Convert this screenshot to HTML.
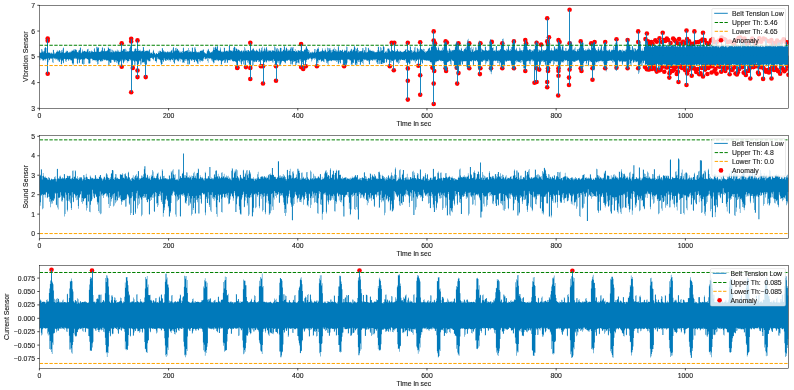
<!DOCTYPE html><html><head><meta charset="utf-8"><style>html,body{margin:0;padding:0;background:#fff;overflow:hidden}svg{display:block}</style></head><body>
<svg width="794" height="390" viewBox="0 0 794 390" style="will-change:transform;filter:blur(0.25px)" font-family="'Liberation Sans', sans-serif" font-size="6.85"><style>text{fill:#1a1a1a;stroke:#1a1a1a;stroke-width:0.12px}</style>
<rect width="794" height="390" fill="#fff"/>
<defs>
<clipPath id="c0"><rect x="39.4" y="5.3" width="749" height="103"/></clipPath>
<clipPath id="c1"><rect x="39.4" y="135.4" width="749" height="103"/></clipPath>
<clipPath id="c2"><rect x="39.4" y="265.3" width="749" height="103"/></clipPath>
</defs>
<g clip-path="url(#c0)">
<g fill="#f00"><circle cx="47.7" cy="38.6" r="2.3"/><circle cx="47.7" cy="40.7" r="2.3"/><circle cx="47.7" cy="73.7" r="2.3"/><circle cx="121.7" cy="43.3" r="2.3"/><circle cx="121.7" cy="66.8" r="2.3"/><circle cx="131.2" cy="38.8" r="2.3"/><circle cx="131.2" cy="41.5" r="2.3"/><circle cx="131.2" cy="92.2" r="2.3"/><circle cx="132.8" cy="67.9" r="2.3"/><circle cx="137.5" cy="40.4" r="2.3"/><circle cx="137.5" cy="70.5" r="2.3"/><circle cx="137.5" cy="77.1" r="2.3"/><circle cx="145.7" cy="77.1" r="2.3"/><circle cx="237.2" cy="67.9" r="2.3"/><circle cx="237.4" cy="67.6" r="2.3"/><circle cx="245.9" cy="67.1" r="2.3"/><circle cx="250.3" cy="42.8" r="2.3"/><circle cx="250.3" cy="67.9" r="2.3"/><circle cx="250.3" cy="79" r="2.3"/><circle cx="260.9" cy="66.3" r="2.3"/><circle cx="263" cy="66.3" r="2.3"/><circle cx="263" cy="83.5" r="2.3"/><circle cx="276" cy="66.3" r="2.3"/><circle cx="276" cy="80.8" r="2.3"/><circle cx="301.1" cy="44.1" r="2.3"/><circle cx="301.1" cy="67.1" r="2.3"/><circle cx="303.2" cy="68.9" r="2.3"/><circle cx="305.8" cy="66.3" r="2.3"/><circle cx="316.9" cy="66.3" r="2.3"/><circle cx="344.1" cy="66.3" r="2.3"/><circle cx="389.8" cy="66.3" r="2.3"/><circle cx="391.7" cy="42.8" r="2.3"/><circle cx="394.3" cy="42.8" r="2.3"/><circle cx="393.8" cy="70.3" r="2.3"/><circle cx="407.8" cy="42.8" r="2.3"/><circle cx="407.8" cy="68.4" r="2.3"/><circle cx="407.8" cy="80.8" r="2.3"/><circle cx="407.8" cy="99.6" r="2.3"/><circle cx="420.2" cy="42.3" r="2.3"/><circle cx="420.2" cy="75.3" r="2.3"/><circle cx="420.2" cy="94.8" r="2.3"/><circle cx="418.4" cy="65.8" r="2.3"/><circle cx="433.7" cy="31.4" r="2.3"/><circle cx="433.7" cy="40.6" r="2.3"/><circle cx="435" cy="43.3" r="2.3"/><circle cx="432.4" cy="67.8" r="2.3"/><circle cx="434.2" cy="71" r="2.3"/><circle cx="433.7" cy="83.6" r="2.3"/><circle cx="433.7" cy="104" r="2.3"/><circle cx="445.6" cy="41.4" r="2.3"/><circle cx="446.9" cy="42.5" r="2.3"/><circle cx="445.6" cy="68.3" r="2.3"/><circle cx="446.1" cy="71" r="2.3"/><circle cx="458.5" cy="43.3" r="2.3"/><circle cx="456.7" cy="67.8" r="2.3"/><circle cx="458.5" cy="73.1" r="2.3"/><circle cx="457.2" cy="83.6" r="2.3"/><circle cx="469.3" cy="43.3" r="2.3"/><circle cx="469.3" cy="68.3" r="2.3"/><circle cx="480.4" cy="43.3" r="2.3"/><circle cx="480.4" cy="68.3" r="2.3"/><circle cx="479.9" cy="74.1" r="2.3"/><circle cx="491.8" cy="41.9" r="2.3"/><circle cx="491" cy="68.3" r="2.3"/><circle cx="502.3" cy="43.3" r="2.3"/><circle cx="502.3" cy="68.3" r="2.3"/><circle cx="513.9" cy="41.4" r="2.3"/><circle cx="513.9" cy="68.3" r="2.3"/><circle cx="525.3" cy="40.1" r="2.3"/><circle cx="526.1" cy="43.3" r="2.3"/><circle cx="525.3" cy="71" r="2.3"/><circle cx="534.5" cy="82.8" r="2.3"/><circle cx="536.6" cy="42.7" r="2.3"/><circle cx="541.1" cy="44.6" r="2.3"/><circle cx="536.6" cy="68.3" r="2.3"/><circle cx="539.2" cy="69.6" r="2.3"/><circle cx="536.6" cy="82" r="2.3"/><circle cx="547.2" cy="18.2" r="2.3"/><circle cx="549" cy="37.2" r="2.3"/><circle cx="547.2" cy="41.4" r="2.3"/><circle cx="548" cy="44" r="2.3"/><circle cx="548" cy="68.3" r="2.3"/><circle cx="548" cy="71" r="2.3"/><circle cx="547.2" cy="82" r="2.3"/><circle cx="547.2" cy="87.3" r="2.3"/><circle cx="558.5" cy="40.1" r="2.3"/><circle cx="559.6" cy="42" r="2.3"/><circle cx="558.5" cy="68.3" r="2.3"/><circle cx="558.5" cy="71" r="2.3"/><circle cx="558.5" cy="75.7" r="2.3"/><circle cx="558.2" cy="95.5" r="2.3"/><circle cx="569.6" cy="9.7" r="2.3"/><circle cx="569.6" cy="43.3" r="2.3"/><circle cx="569.6" cy="69.6" r="2.3"/><circle cx="569" cy="77.6" r="2.3"/><circle cx="569" cy="85" r="2.3"/><circle cx="580.7" cy="41.4" r="2.3"/><circle cx="580.7" cy="68.3" r="2.3"/><circle cx="581.5" cy="71" r="2.3"/><circle cx="591.2" cy="43.3" r="2.3"/><circle cx="594.6" cy="42" r="2.3"/><circle cx="592.5" cy="68.3" r="2.3"/><circle cx="592.5" cy="79.7" r="2.3"/><circle cx="605.2" cy="42" r="2.3"/><circle cx="605.2" cy="68.3" r="2.3"/><circle cx="616.5" cy="39.3" r="2.3"/><circle cx="616.5" cy="67.8" r="2.3"/><circle cx="627.6" cy="40.1" r="2.3"/><circle cx="627.6" cy="68.3" r="2.3"/><circle cx="638.2" cy="31.4" r="2.3"/><circle cx="638.2" cy="42" r="2.3"/><circle cx="638.2" cy="68.3" r="2.3"/><circle cx="646.9" cy="33.5" r="2.3"/><circle cx="662.7" cy="32.7" r="2.3"/><circle cx="686.5" cy="30.6" r="2.3"/><circle cx="694.4" cy="31.4" r="2.3"/><circle cx="703" cy="32.7" r="2.3"/><circle cx="669.3" cy="77.6" r="2.3"/><circle cx="678.5" cy="82" r="2.3"/><circle cx="686.5" cy="85" r="2.3"/><circle cx="691.7" cy="75.7" r="2.3"/><circle cx="703" cy="76.4" r="2.3"/><circle cx="750.3" cy="78.5" r="2.3"/><circle cx="763.1" cy="78.9" r="2.3"/><circle cx="771.5" cy="78.5" r="2.3"/><circle cx="645.5" cy="39.1" r="2.3"/><circle cx="647.91" cy="41.25" r="2.3"/><circle cx="649.54" cy="43.85" r="2.3"/><circle cx="651.32" cy="41.97" r="2.3"/><circle cx="652.58" cy="43.87" r="2.3"/><circle cx="655.28" cy="40.27" r="2.3"/><circle cx="656.83" cy="41.8" r="2.3"/><circle cx="659.5" cy="38.35" r="2.3"/><circle cx="661.96" cy="42.07" r="2.3"/><circle cx="663.9" cy="40.09" r="2.3"/><circle cx="665.19" cy="40.97" r="2.3"/><circle cx="666.8" cy="38.5" r="2.3"/><circle cx="668.1" cy="40.07" r="2.3"/><circle cx="670.6" cy="43.05" r="2.3"/><circle cx="673.14" cy="38.56" r="2.3"/><circle cx="674.37" cy="39.85" r="2.3"/><circle cx="675.57" cy="41.34" r="2.3"/><circle cx="677.43" cy="43.18" r="2.3"/><circle cx="679.12" cy="39.09" r="2.3"/><circle cx="680.79" cy="43.45" r="2.3"/><circle cx="683.04" cy="41.71" r="2.3"/><circle cx="685.44" cy="43.01" r="2.3"/><circle cx="687.12" cy="39.14" r="2.3"/><circle cx="689.08" cy="41.32" r="2.3"/><circle cx="690.63" cy="43.97" r="2.3"/><circle cx="693.23" cy="43.73" r="2.3"/><circle cx="695.7" cy="42.23" r="2.3"/><circle cx="698.33" cy="42.03" r="2.3"/><circle cx="700.93" cy="40.97" r="2.3"/><circle cx="702.49" cy="39.59" r="2.3"/><circle cx="704.7" cy="40.03" r="2.3"/><circle cx="706.6" cy="43.08" r="2.3"/><circle cx="708.76" cy="43.64" r="2.3"/><circle cx="711" cy="40.4" r="2.3"/><circle cx="712.76" cy="39.15" r="2.3"/><circle cx="714.25" cy="42.09" r="2.3"/><circle cx="716.65" cy="42.15" r="2.3"/><circle cx="718.92" cy="40.56" r="2.3"/><circle cx="721.53" cy="37.57" r="2.3"/><circle cx="723.82" cy="39.07" r="2.3"/><circle cx="725.25" cy="39.81" r="2.3"/><circle cx="727.72" cy="42.02" r="2.3"/><circle cx="729.75" cy="41.5" r="2.3"/><circle cx="732.39" cy="42.54" r="2.3"/><circle cx="734.19" cy="44" r="2.3"/><circle cx="736.02" cy="40.42" r="2.3"/><circle cx="738.62" cy="38.14" r="2.3"/><circle cx="740.31" cy="37.59" r="2.3"/><circle cx="741.79" cy="38.95" r="2.3"/><circle cx="743.23" cy="41.99" r="2.3"/><circle cx="744.54" cy="38.67" r="2.3"/><circle cx="746.98" cy="43.5" r="2.3"/><circle cx="748.97" cy="42.88" r="2.3"/><circle cx="750.91" cy="40.99" r="2.3"/><circle cx="752.27" cy="38.62" r="2.3"/><circle cx="753.89" cy="41.72" r="2.3"/><circle cx="755.17" cy="44" r="2.3"/><circle cx="756.67" cy="42.39" r="2.3"/><circle cx="759.26" cy="38.42" r="2.3"/><circle cx="761.18" cy="41.67" r="2.3"/><circle cx="763.38" cy="38.67" r="2.3"/><circle cx="765.09" cy="39.19" r="2.3"/><circle cx="766.89" cy="40.7" r="2.3"/><circle cx="769.19" cy="41.35" r="2.3"/><circle cx="771.43" cy="39.93" r="2.3"/><circle cx="772.64" cy="43.9" r="2.3"/><circle cx="774.06" cy="43.13" r="2.3"/><circle cx="775.56" cy="43.87" r="2.3"/><circle cx="777.09" cy="40.65" r="2.3"/><circle cx="779.62" cy="42.34" r="2.3"/><circle cx="781.37" cy="41.92" r="2.3"/><circle cx="783.59" cy="39.25" r="2.3"/><circle cx="786.2" cy="42.18" r="2.3"/><circle cx="788.46" cy="42.39" r="2.3"/><circle cx="645" cy="67" r="2.3"/><circle cx="646.85" cy="69.23" r="2.3"/><circle cx="648.52" cy="69.52" r="2.3"/><circle cx="649.69" cy="69.13" r="2.3"/><circle cx="650.56" cy="66.08" r="2.3"/><circle cx="651.99" cy="68.97" r="2.3"/><circle cx="653.79" cy="66.03" r="2.3"/><circle cx="655.26" cy="69.09" r="2.3"/><circle cx="656.78" cy="71.61" r="2.3"/><circle cx="658.21" cy="69.8" r="2.3"/><circle cx="659.6" cy="70.34" r="2.3"/><circle cx="660.69" cy="69.7" r="2.3"/><circle cx="662.3" cy="66.75" r="2.3"/><circle cx="664.29" cy="71.8" r="2.3"/><circle cx="666.24" cy="67.43" r="2.3"/><circle cx="667.57" cy="67.2" r="2.3"/><circle cx="668.42" cy="66.02" r="2.3"/><circle cx="669.52" cy="73.19" r="2.3"/><circle cx="670.52" cy="71.15" r="2.3"/><circle cx="671.62" cy="66.15" r="2.3"/><circle cx="672.65" cy="71.02" r="2.3"/><circle cx="674.05" cy="69.66" r="2.3"/><circle cx="675.39" cy="67.29" r="2.3"/><circle cx="676.78" cy="73.97" r="2.3"/><circle cx="677.82" cy="71.64" r="2.3"/><circle cx="678.92" cy="66.77" r="2.3"/><circle cx="680.11" cy="66.25" r="2.3"/><circle cx="682.03" cy="67.99" r="2.3"/><circle cx="683.04" cy="66" r="2.3"/><circle cx="683.92" cy="66.9" r="2.3"/><circle cx="685.22" cy="70.2" r="2.3"/><circle cx="687.2" cy="73.56" r="2.3"/><circle cx="688.29" cy="70.3" r="2.3"/><circle cx="690.19" cy="66.29" r="2.3"/><circle cx="692.02" cy="68.24" r="2.3"/><circle cx="693.75" cy="67.65" r="2.3"/><circle cx="695.31" cy="69.25" r="2.3"/><circle cx="696.23" cy="71.96" r="2.3"/><circle cx="698.02" cy="69.02" r="2.3"/><circle cx="699.28" cy="74.3" r="2.3"/><circle cx="700.53" cy="73.42" r="2.3"/><circle cx="701.84" cy="68.05" r="2.3"/><circle cx="703.07" cy="66.13" r="2.3"/><circle cx="704.2" cy="66.99" r="2.3"/><circle cx="705.08" cy="69.59" r="2.3"/><circle cx="706.41" cy="66.04" r="2.3"/><circle cx="707.39" cy="73.93" r="2.3"/><circle cx="708.35" cy="68.05" r="2.3"/><circle cx="710.3" cy="66.34" r="2.3"/><circle cx="711.59" cy="72.45" r="2.3"/><circle cx="712.41" cy="66.16" r="2.3"/><circle cx="714.33" cy="71.09" r="2.3"/><circle cx="715.44" cy="69" r="2.3"/><circle cx="716.54" cy="73.59" r="2.3"/><circle cx="718.48" cy="66.17" r="2.3"/><circle cx="719.91" cy="66.71" r="2.3"/><circle cx="721.19" cy="71.74" r="2.3"/><circle cx="722.85" cy="66.74" r="2.3"/><circle cx="724.05" cy="68.5" r="2.3"/><circle cx="725.31" cy="71.07" r="2.3"/><circle cx="727.06" cy="67.75" r="2.3"/><circle cx="728.39" cy="66.16" r="2.3"/><circle cx="729.63" cy="74.29" r="2.3"/><circle cx="731.03" cy="69.74" r="2.3"/><circle cx="732.56" cy="69.84" r="2.3"/><circle cx="734.32" cy="67.19" r="2.3"/><circle cx="735.5" cy="73.52" r="2.3"/><circle cx="736.9" cy="74.46" r="2.3"/><circle cx="737.87" cy="72.24" r="2.3"/><circle cx="739.24" cy="68.94" r="2.3"/><circle cx="741.09" cy="66.42" r="2.3"/><circle cx="742.51" cy="67.12" r="2.3"/><circle cx="743.72" cy="72.65" r="2.3"/><circle cx="745" cy="72.25" r="2.3"/><circle cx="745.82" cy="74.99" r="2.3"/><circle cx="747.76" cy="71.03" r="2.3"/><circle cx="748.8" cy="70.79" r="2.3"/><circle cx="749.83" cy="68.05" r="2.3"/><circle cx="750.67" cy="66.17" r="2.3"/><circle cx="751.66" cy="66.7" r="2.3"/><circle cx="753.46" cy="67.09" r="2.3"/><circle cx="755.25" cy="66" r="2.3"/><circle cx="756.12" cy="66.14" r="2.3"/><circle cx="758.04" cy="72.65" r="2.3"/><circle cx="758.86" cy="74.09" r="2.3"/><circle cx="759.93" cy="67.22" r="2.3"/><circle cx="761.43" cy="66.83" r="2.3"/><circle cx="763.4" cy="67.99" r="2.3"/><circle cx="764.89" cy="69.9" r="2.3"/><circle cx="766.03" cy="71.67" r="2.3"/><circle cx="768.02" cy="70.14" r="2.3"/><circle cx="768.92" cy="72.54" r="2.3"/><circle cx="770.52" cy="69.09" r="2.3"/><circle cx="772.1" cy="67.2" r="2.3"/><circle cx="773.27" cy="69.33" r="2.3"/><circle cx="774.15" cy="70.06" r="2.3"/><circle cx="775.17" cy="67.15" r="2.3"/><circle cx="777.05" cy="70.06" r="2.3"/><circle cx="778.14" cy="71.26" r="2.3"/><circle cx="780.14" cy="73.65" r="2.3"/><circle cx="781.9" cy="67.73" r="2.3"/><circle cx="783.4" cy="70.03" r="2.3"/><circle cx="784.3" cy="71.19" r="2.3"/><circle cx="785.73" cy="69.39" r="2.3"/><circle cx="787.41" cy="66.19" r="2.3"/><circle cx="788.47" cy="74.84" r="2.3"/></g>
<path d="M39.4 51.79V51.79H39.9V52.98H40.4V52.6H40.9V52.46H41.4V48.96H41.9V49.58H42.4V51.48H42.9V52.41H43.4V51.32H43.9V51.36H44.4V48.37H44.9V47.53H45.4V47.11H45.9V48.11H46.4V53.02H46.9V53.59H47.4V53.34H47.9V52.45H48.4V52.78H48.9V52.17H49.4V52.95H49.9V52.87H50.4V53.81H50.9V53.32H51.4V52.45H51.9V54.06H52.4V53.2H52.9V49.65H53.4V49.92H53.9V54.29H54.4V52.58H54.9V53.33H55.4V53.43H55.9V52.2H56.4V51.63H56.9V50.23H57.4V51.52H57.9V51.24H58.4V51.78H58.9V50.23H59.4V50.17H59.9V50.9H60.4V52.63H60.9V52.49H61.4V50.2H61.9V49.74H62.4V52.3H62.9V48.37H63.4V47.41H63.9V53.16H64.4V52.68H64.9V52.99H65.4V51.85H65.9V52.07H66.4V50.65H66.9V50.86H67.4V50.94H67.9V52.81H68.4V52.25H68.9V52.48H69.4V51.68H69.9V52.56H70.4V51.53H70.9V52.07H71.4V50.8H71.9V50.5H72.4V50.63H72.9V50.41H73.4V49.61H73.9V51.17H74.4V49.36H74.9V49.66H75.4V49.13H75.9V49.69H76.4V50.25H76.9V52.34H77.4V52.08H77.9V52.38H78.4V50.78H78.9V49.81H79.4V50.27H79.9V47.86H80.4V47.44H80.9V53.21H81.4V52.6H81.9V51.53H82.4V49.58H82.9V51.64H83.4V51.25H83.9V50.77H84.4V51.09H84.9V51.32H85.4V51.65H85.9V51.36H86.4V52.08H86.9V50.14H87.4V48.89H87.9V48.87H88.4V52.33H88.9V51.16H89.4V50.99H89.9V52.67H90.4V51.17H90.9V51.84H91.4V50.47H91.9V51.18H92.4V51.53H92.9V51.96H93.4V52.12H93.9V49.21H94.4V47.95H94.9V52.1H95.4V51.46H95.9V51.79H96.4V46.78H96.9V47.07H97.4V48.58H97.9V47.1H98.4V48.09H98.9V52.05H99.4V51.78H99.9V51.45H100.4V51.63H100.9V51.14H101.4V50.22H101.9V47.66H102.4V47.24H102.9V50.86H103.4V51.37H103.9V48.26H104.4V48.58H104.9V51.58H105.4V51.09H105.9V51.01H106.4V51.27H106.9V50.22H107.4V50.46H107.9V46.63H108.4V48.01H108.9V48.78H109.4V48.99H109.9V52.32H110.4V48.83H110.9V49.43H111.4V51.97H111.9V52.47H112.4V49.87H112.9V50.59H113.4V51.57H113.9V51.42H114.4V52.14H114.9V50.43H115.4V51.17H115.9V52.12H116.4V51.06H116.9V49.56H117.4V51.59H117.9V50.29H118.4V51.43H118.9V51.75H119.4V51.95H119.9V50.53H120.4V51.97H120.9V51.79H121.4V50.79H121.9V50.92H122.4V50.58H122.9V49.42H123.4V49.11H123.9V48.73H124.4V49.3H124.9V51.75H125.4V48.67H125.9V49.74H126.4V51.76H126.9V51.21H127.4V51.31H127.9V52.08H128.4V50.95H128.9V51.11H129.4V48.1H129.9V46.66H130.4V45.92H130.9V50.19H131.4V51.31H131.9V51.44H132.4V50.92H132.9V51.52H133.4V51.55H133.9V51.11H134.4V49.3H134.9V48.2H135.4V48.66H135.9V48.73H136.4V51.11H136.9V50.79H137.4V50.39H137.9V49.1H138.4V50.99H138.9V50.38H139.4V50.74H139.9V49.75H140.4V51.17H140.9V51.31H141.4V51.15H141.9V50.61H142.4V50.98H142.9V47.06H143.4V47.37H143.9V50.21H144.4V51.81H144.9V51.14H145.4V50.89H145.9V50.38H146.4V51.05H146.9V50.34H147.4V50.98H147.9V51.6H148.4V50.73H148.9V49.69H149.4V49.3H149.9V52.56H150.4V53.5H150.9V52.81H151.4V52.87H151.9V52.38H152.4V54.1H152.9V50.73H153.4V49.85H153.9V52.53H154.4V52.96H154.9V53.84H155.4V54.39H155.9V53.22H156.4V53.11H156.9V53.97H157.4V54H157.9V51.14H158.4V52.74H158.9V52.68H159.4V50.77H159.9V50.84H160.4V51.05H160.9V52.01H161.4V51.73H161.9V48.34H162.4V48.16H162.9V51.38H163.4V49.9H163.9V50.91H164.4V52.18H164.9V51.92H165.4V51.57H165.9V52.83H166.4V52.08H166.9V51.63H167.4V51.13H167.9V52.41H168.4V51.79H168.9V51.8H169.4V52.31H169.9V51.36H170.4V52.14H170.9V50.71H171.4V50.14H171.9V49.57H172.4V52.84H172.9V47.8H173.4V47.12H173.9V51.61H174.4V50.57H174.9V50.65H175.4V48.07H175.9V47.74H176.4V50.47H176.9V48.69H177.4V48.99H177.9V50.64H178.4V50.35H178.9V50.85H179.4V52.37H179.9V52.65H180.4V51.55H180.9V51.73H181.4V51.84H181.9V53.06H182.4V50.92H182.9V48.27H183.4V47.53H183.9V51.48H184.4V51.69H184.9V50.93H185.4V51.36H185.9V50.82H186.4V50.65H186.9V50.65H187.4V50.08H187.9V52.3H188.4V48.01H188.9V50H189.4V51.78H189.9V52.06H190.4V51.06H190.9V51.24H191.4V52.17H191.9V47.56H192.4V47.65H192.9V51.81H193.4V51.91H193.9V51.73H194.4V47.62H194.9V47.16H195.4V49.3H195.9V52.15H196.4V51.19H196.9V52.4H197.4V51.88H197.9V52.43H198.4V51.63H198.9V51.86H199.4V52.45H199.9V51.12H200.4V50.85H200.9V50.48H201.4V50.65H201.9V50.8H202.4V50.32H202.9V49.36H203.4V49.66H203.9V52.34H204.4V52.51H204.9V53.59H205.4V53.22H205.9V52.71H206.4V53.92H206.9V50.34H207.4V51.19H207.9V48.63H208.4V49.41H208.9V51.05H209.4V51.38H209.9V53.03H210.4V52.27H210.9V51.85H211.4V52.27H211.9V52.25H212.4V50.98H212.9V49.79H213.4V47.32H213.9V47.87H214.4V49.98H214.9V47.17H215.4V46.62H215.9V47.46H216.4V48.96H216.9V45.67H217.4V46.51H217.9V50.37H218.4V50.87H218.9V50.45H219.4V51.08H219.9V49.56H220.4V47.45H220.9V51.17H221.4V51.95H221.9V51.33H222.4V52.32H222.9V51.57H223.4V51.73H223.9V47.41H224.4V47.99H224.9V51.18H225.4V51.52H225.9V51.1H226.4V50.52H226.9V51.33H227.4V50.72H227.9V51.86H228.4V50.6H228.9V45.92H229.4V44.66H229.9V50.19H230.4V50.39H230.9V50.76H231.4V50.67H231.9V50.5H232.4V51.39H232.9V50.43H233.4V48.08H233.9V46.71H234.4V46.8H234.9V47.44H235.4V51.09H235.9V49.11H236.4V48.26H236.9V49.17H237.4V50.85H237.9V49.41H238.4V49.7H238.9V50.23H239.4V50.46H239.9V51.42H240.4V51.19H240.9V51.05H241.4V50.23H241.9V50.8H242.4V52.34H242.9V51.02H243.4V50.27H243.9V51.6H244.4V47.1H244.9V48.49H245.4V50.66H245.9V50.76H246.4V50.62H246.9V51.63H247.4V50.21H247.9V50H248.4V49.99H248.9V51.27H249.4V51.36H249.9V51.42H250.4V51.25H250.9V50.24H251.4V50.49H251.9V50.17H252.4V48.95H252.9V47.99H253.4V49.02H253.9V50.47H254.4V50.59H254.9V51.47H255.4V50.88H255.9V50.3H256.4V49.41H256.9V50.74H257.4V50.67H257.9V51.52H258.4V51.75H258.9V49.04H259.4V48.17H259.9V52.2H260.4V50.55H260.9V50.38H261.4V47.95H261.9V46.73H262.4V51.53H262.9V50.45H263.4V51.22H263.9V48.64H264.4V47.52H264.9V51.13H265.4V49.38H265.9V47.78H266.4V47.11H266.9V49.49H267.4V51.49H267.9V51.61H268.4V50.29H268.9V50.96H269.4V50.34H269.9V50.87H270.4V50.58H270.9V50.49H271.4V51.99H271.9V50.89H272.4V49.9H272.9V49.9H273.4V50.97H273.9V51.07H274.4V46.2H274.9V47.19H275.4V51.57H275.9V48.34H276.4V49.5H276.9V51.45H277.4V47.92H277.9V49.01H278.4V50.44H278.9V50.86H279.4V51.83H279.9V48.12H280.4V47.67H280.9V48.05H281.4V51.56H281.9V51.29H282.4V51.15H282.9V49.39H283.4V49.97H283.9V46.13H284.4V46.55H284.9V51.03H285.4V49.69H285.9V48.11H286.4V47.61H286.9V49.2H287.4V51.22H287.9V49.6H288.4V50.67H288.9V50.48H289.4V50.18H289.9V49.11H290.4V47.39H290.9V51.32H291.4V47.21H291.9V47.18H292.4V48.38H292.9V47.03H293.4V50.84H293.9V51.06H294.4V51.03H294.9V48.96H295.4V52.11H295.9V50.87H296.4V51.35H296.9V50.54H297.4V52.22H297.9V50.26H298.4V50.41H298.9V50.54H299.4V50.98H299.9V51.58H300.4V50.04H300.9V46.75H301.4V45.93H301.9V51.22H302.4V51.08H302.9V51.42H303.4V51.35H303.9V49.99H304.4V49.2H304.9V50.12H305.4V48.48H305.9V45.96H306.4V46.82H306.9V48.39H307.4V49.02H307.9V52.01H308.4V49.91H308.9V50.5H309.4V53.41H309.9V52.6H310.4V52.25H310.9V53.23H311.4V52.25H311.9V51.46H312.4V52.15H312.9V53H313.4V52.28H313.9V51.77H314.4V48.96H314.9V49H315.4V52.65H315.9V52.12H316.4V50.14H316.9V49.16H317.4V48.32H317.9V48.98H318.4V47.16H318.9V51.89H319.4V51.55H319.9V51.77H320.4V51.2H320.9V51.11H321.4V51.53H321.9V49.83H322.4V48.34H322.9V50.56H323.4V51.08H323.9V51.47H324.4V50.57H324.9V48.62H325.4V50H325.9V51.07H326.4V52.18H326.9V52.05H327.4V47.52H327.9V48H328.4V51.03H328.9V49.85H329.4V48.13H329.9V48.13H330.4V50.18H330.9V52.39H331.4V50.26H331.9V51.64H332.4V49.86H332.9V49.81H333.4V49.05H333.9V47.52H334.4V51.08H334.9V51.21H335.4V49.03H335.9V49.65H336.4V51.46H336.9V50.6H337.4V51.41H337.9V47.16H338.4V46.08H338.9V51.79H339.4V50.47H339.9V50.46H340.4V50.01H340.9V50.75H341.4V50.93H341.9V50.1H342.4V49.58H342.9V52.15H343.4V51.69H343.9V51H344.4V49.74H344.9V50.78H345.4V50.58H345.9V50.22H346.4V46.62H346.9V46.98H347.4V52.42H347.9V51.26H348.4V51.4H348.9V51.31H349.4V52.17H349.9V50.43H350.4V50.83H350.9V48.67H351.4V49.16H351.9V51.58H352.4V50.62H352.9V49.28H353.4V50.04H353.9V46.78H354.4V45.86H354.9V47.86H355.4V51.35H355.9V50.7H356.4V48.91H356.9V47.8H357.4V47.82H357.9V52.43H358.4V50.12H358.9V51.17H359.4V51.55H359.9V50.92H360.4V51.33H360.9V51.49H361.4V50.9H361.9V50.39H362.4V47.93H362.9V48.27H363.4V52.59H363.9V50.41H364.4V49.91H364.9V52.14H365.4V46.98H365.9V47.38H366.4V52.4H366.9V52.24H367.4V51.79H367.9V48.32H368.4V47.83H368.9V50.86H369.4V49.71H369.9V49.86H370.4V50.63H370.9V50.66H371.4V51.12H371.9V50.62H372.4V51.13H372.9V51.64H373.4V50.82H373.9V51.34H374.4V52.25H374.9V52.3H375.4V52.33H375.9V51.86H376.4V52.18H376.9V51.89H377.4V50.24H377.9V46.44H378.4V47.1H378.9V50.43H379.4V51.73H379.9V51.54H380.4V46.96H380.9V47.79H381.4V50.69H381.9V50.3H382.4V50.33H382.9V46.13H383.4V46.32H383.9V47.31H384.4V53.04H384.9V51.9H385.4V51.36H385.9V52.54H386.4V50.74H386.9V52.53H387.4V48.72H387.9V48.54H388.4V48.55H388.9V48.87H389.4V50.26H389.9V51.1H390.4V51.7H390.9V51.19H391.4V51.81H391.9V50H392.4V50.14H392.9V51.07H393.4V51.08H393.9V49.89H394.4V51.77H394.9V50.6H395.4V52.03H395.9V51.05H396.4V51.27H396.9V48.96H397.4V49.71H397.9V51.1H398.4V51.69H398.9V50.7H399.4V52.08H399.9V50.82H400.4V51.21H400.9V51.46H401.4V52H401.9V51.76H402.4V52.17H402.9V51.52H403.4V51.7H403.9V51.11H404.4V50.98H404.9V49.59H405.4V49.81H405.9V48.96H406.4V51.88H406.9V51.42H407.4V51.7H407.9V50.1H408.4V50.4H408.9V50.59H409.4V50.99H409.9V46.49H410.4V46.41H410.9V49.98H411.4V50.33H411.9V52.63H412.4V51.33H412.9V50.51H413.4V51.93H413.9V50.8H414.4V47.57H414.9V46.71H415.4V51.81H415.9V52.56H416.4V51.58H416.9V47.76H417.4V48.53H417.9V51.78H418.4V49.34H418.9V49.55H419.4V51.32H419.9V47.91H420.4V47.71H420.9V48.96H421.4V49.27H421.9V49.43H422.4V49.71H422.9V51.05H423.4V48.8H423.9V49.08H424.4V51.97H424.9V51.33H425.4V52.71H425.9V51.09H426.4V52.09H426.9V50.8H427.4V50.68H427.9V49.29H428.4V48.44H428.9V48.04H429.4V47.5H429.9V50.67H430.4V50.11H430.9V46.93H431.4V46.32H431.9V46.63H432.4V41.42H432.9V41.58H433.4V43.22H433.9V43.47H434.4V44.75H434.9V44.54H435.4V46.56H435.9V48.36H436.4V46.92H436.9V49.85H437.4V50.17H437.9V46.52H438.4V47.7H438.9V49.68H439.4V50.53H439.9V50.45H440.4V50.76H440.9V49.85H441.4V50.59H441.9V50.64H442.4V47.72H442.9V47.15H443.4V49.86H443.9V43.94H444.4V42.2H444.9V42.58H445.4V42.84H445.9V44.17H446.4V48.58H446.9V49.67H447.4V50.77H447.9V52.85H448.4V50.87H448.9V49.1H449.4V48.02H449.9V51.22H450.4V49.81H450.9V50.15H451.4V51.55H451.9V50.28H452.4V50.31H452.9V50.48H453.4V49.85H453.9V50.04H454.4V49.82H454.9V47.29H455.4V43.86H455.9V43.08H456.4V41.48H456.9V42H457.4V44.73H457.9V50.05H458.4V50.8H458.9V49.72H459.4V49.49H459.9V50.7H460.4V49.89H460.9V47.87H461.4V48.63H461.9V50.9H462.4V50.89H462.9V50.27H463.4V51.49H463.9V49.61H464.4V48.99H464.9V47.49H465.4V48.38H465.9V49.73H466.4V46.66H466.9V42.97H467.4V40.14H467.9V38.78H468.4V42.88H468.9V46.5H469.4V50.04H469.9V50.43H470.4V48.07H470.9V46.66H471.4V51.9H471.9V50.22H472.4V49.06H472.9V47.31H473.4V51.92H473.9V51.32H474.4V50.67H474.9V50.56H475.4V47.19H475.9V47.58H476.4V50.16H476.9V49.84H477.4V50.3H477.9V45.29H478.4V43.35H478.9V42.01H479.4V40.61H479.9V42.13H480.4V44.67H480.9V51.63H481.4V48.52H481.9V49.21H482.4V49.71H482.9V50.27H483.4V50.36H483.9V50.8H484.4V50.61H484.9V47.04H485.4V46.39H485.9V50.27H486.4V50.23H486.9V51.06H487.4V50.47H487.9V50.7H488.4V49.69H488.9V50.33H489.4V41.76H489.9V40.36H490.4V39.04H490.9V43.05H491.4V43.2H491.9V47.98H492.4V47.64H492.9V47.36H493.4V50.96H493.9V50.08H494.4V51.11H494.9V49.71H495.4V51.45H495.9V46.21H496.4V45.92H496.9V50.52H497.4V50.82H497.9V51.13H498.4V50.04H498.9V50.77H499.4V50.19H499.9V49.35H500.4V49.27H500.9V44.77H501.4V44.93H501.9V42.39H502.4V38.93H502.9V38.6H503.4V42.6H503.9V49.94H504.4V49.7H504.9V50.6H505.4V50.38H505.9V51.35H506.4V48.85H506.9V49.35H507.4V50.29H507.9V46.61H508.4V45.91H508.9V49.73H509.4V50.7H509.9V50.88H510.4V48.99H510.9V49.97H511.4V46.94H511.9V46.72H512.4V43.1H512.9V42.75H513.4V40.04H513.9V39.27H514.4V40.44H514.9V49.41H515.4V50.37H515.9V49.31H516.4V47.81H516.9V51.14H517.4V50.6H517.9V50.83H518.4V51.2H518.9V50.67H519.4V47.54H519.9V48.55H520.4V50.38H520.9V50.28H521.4V50.6H521.9V49.96H522.4V51.4H522.9V49.84H523.4V46.84H523.9V43.89H524.4V43.79H524.9V42.71H525.4V40.77H525.9V43.89H526.4V46.69H526.9V47.03H527.4V49.53H527.9V50.37H528.4V50.3H528.9V49.87H529.4V49.02H529.9V49.28H530.4V49.73H530.9V51.94H531.4V50.17H531.9V50.27H532.4V50.85H532.9V51.18H533.4V49.44H533.9V49.37H534.4V49.21H534.9V45.83H535.4V42.83H535.9V40.5H536.4V42.23H536.9V43.24H537.4V42.85H537.9V49.47H538.4V51.67H538.9V49.55H539.4V50.31H539.9V50.96H540.4V50.36H540.9V50.26H541.4V48.89H541.9V51.56H542.4V49.47H542.9V50.28H543.4V50.13H543.9V50.37H544.4V50.44H544.9V50.05H545.4V49.9H545.9V48.65H546.4V44.95H546.9V43.74H547.4V42.51H547.9V40.67H548.4V43.33H548.9V46.2H549.4V49.96H549.9V50.29H550.4V50.49H550.9V50.32H551.4V48.29H551.9V50.03H552.4V50.63H552.9V50.2H553.4V50.67H553.9V46.36H554.4V46.7H554.9V49.82H555.4V48.55H555.9V48.72H556.4V48.63H556.9V47.46H557.4V49.5H557.9V43.27H558.4V42.5H558.9V43.02H559.4V43.39H559.9V42.87H560.4V46.46H560.9V48.79H561.4V50.17H561.9V46.48H562.4V45.65H562.9V46.21H563.4V50.28H563.9V50.93H564.4V50.43H564.9V51.2H565.4V48.12H565.9V48.15H566.4V51.12H566.9V50.21H567.4V50.97H567.9V49.74H568.4V48.68H568.9V49.48H569.4V44.24H569.9V43.87H570.4V41.03H570.9V43.14H571.4V41.72H571.9V45.54H572.4V50.13H572.9V48.9H573.4V49.88H573.9V50.62H574.4V48.38H574.9V47.33H575.4V50.93H575.9V51.04H576.4V51.63H576.9V49.25H577.4V49.5H577.9V50.95H578.4V48.94H578.9V48.5H579.4V47.48H579.9V45.98H580.4V50.17H580.9V44.34H581.4V42.73H581.9V42.21H582.4V41.86H582.9V42.77H583.4V48.16H583.9V50.3H584.4V50.37H584.9V50.4H585.4V49.25H585.9V51.09H586.4V49.81H586.9V49.68H587.4V49.38H587.9V47.71H588.4V49.86H588.9V48.7H589.4V49.55H589.9V50.21H590.4V50.01H590.9V50.35H591.4V50.62H591.9V47.89H592.4V43.88H592.9V43.37H593.4V42.5H593.9V42.31H594.4V43.71H594.9V47.83H595.4V48.76H595.9V50.52H596.4V50.02H596.9V49.75H597.4V51.18H597.9V48.94H598.4V47.04H598.9V49.81H599.4V50.91H599.9V50.07H600.4V48.55H600.9V46.08H601.4V46.36H601.9V51.36H602.4V49.78H602.9V50.99H603.4V46.8H603.9V43.07H604.4V43.06H604.9V42.58H605.4V42.46H605.9V45.84H606.4V50.33H606.9V49.67H607.4V50.99H607.9V51.22H608.4V49.99H608.9V49.66H609.4V49.37H609.9V50.65H610.4V52.03H610.9V50.4H611.4V49.83H611.9V50.21H612.4V49.76H612.9V49.86H613.4V46.09H613.9V47.42H614.4V49.9H614.9V45.39H615.4V42.83H615.9V42.13H616.4V42.85H616.9V41.65H617.4V44.46H617.9V50.58H618.4V51.31H618.9V49.77H619.4V50.23H619.9V49.72H620.4V50.06H620.9V50.58H621.4V50.38H621.9V52.25H622.4V49.5H622.9V50.65H623.4V50.43H623.9V50.9H624.4V50.59H624.9V51.51H625.4V49.78H625.9V49.47H626.4V44.29H626.9V38.02H627.4V39.41H627.9V40.75H628.4V40.7H628.9V44.52H629.4V45.15H629.9V46.75H630.4V49.89H630.9V50.21H631.4V49.63H631.9V46.62H632.4V46.06H632.9V50.23H633.4V48.42H633.9V48.05H634.4V51.41H634.9V48.52H635.4V48.66H635.9V50.76H636.4V50.08H636.9V49.58H637.4V48.95H637.9V44.43H638.4V39.99H638.9V39.97H639.4V43.95H639.9V41.44H640.4V43.76H640.9V50.16H641.4V51.12H641.9V48.6H642.4V50.72H642.9V50.86H643.4V50.66H643.9V47.05H644.4V47.08H644.9V45.79H645.4V46.38H645.9V46.38H646.4V46.3H646.9V46.27H647.4V43.91H647.9V45.65H648.4V45.03H648.9V44.26H649.4V46.49H649.9V44.8H650.4V45.45H650.9V45.96H651.4V47.26H651.9V47.28H652.4V46H652.9V47.07H653.4V46.4H653.9V44.78H654.4V45.99H654.9V45.85H655.4V45.43H655.9V46.01H656.4V45.6H656.9V45.8H657.4V46.12H657.9V46.46H658.4V45.44H658.9V46.1H659.4V42.24H659.9V42.4H660.4V46.61H660.9V45.42H661.4V46.55H661.9V45.51H662.4V44.78H662.9V44.88H663.4V47.24H663.9V45.98H664.4V46.87H664.9V46.22H665.4V46.69H665.9V45.6H666.4V45.05H666.9V44.83H667.4V46.55H667.9V45.43H668.4V46.09H668.9V46.83H669.4V42.04H669.9V41.6H670.4V46.83H670.9V45.38H671.4V45.1H671.9V45.53H672.4V45.32H672.9V45.88H673.4V45.97H673.9V46.65H674.4V44.67H674.9V45.33H675.4V45.41H675.9V46.98H676.4V46.14H676.9V46.04H677.4V46.27H677.9V46.7H678.4V46.81H678.9V42.15H679.4V41.82H679.9V46.49H680.4V45.3H680.9V46.8H681.4V47.31H681.9V46.3H682.4V46.12H682.9V45.88H683.4V45.94H683.9V46.55H684.4V45.47H684.9V46.81H685.4V47.6H685.9V46.1H686.4V45.89H686.9V45.96H687.4V46.94H687.9V45.56H688.4V45.64H688.9V45.75H689.4V44.99H689.9V45.95H690.4V44.69H690.9V46.1H691.4V44.22H691.9V43.99H692.4V45.37H692.9V44.73H693.4V46.17H693.9V47.8H694.4V46.42H694.9V46.53H695.4V45H695.9V44.49H696.4V46.93H696.9V45.29H697.4V44.92H697.9V46.46H698.4V46.21H698.9V45.18H699.4V45.74H699.9V46.88H700.4V45.8H700.9V47H701.4V45.06H701.9V44.75H702.4V46.29H702.9V46.25H703.4V46.52H703.9V45.71H704.4V46.06H704.9V46.91H705.4V46.22H705.9V45.4H706.4V46.62H706.9V45.63H707.4V46.58H707.9V46.77H708.4V46.38H708.9V46.91H709.4V43.24H709.9V43.93H710.4V46.58H710.9V47.25H711.4V45.29H711.9V45.69H712.4V46.01H712.9V46.11H713.4V45.99H713.9V45.36H714.4V46.53H714.9V45.88H715.4V42.43H715.9V42.46H716.4V43.76H716.9V47.14H717.4V45.01H717.9V45.77H718.4V46.48H718.9V46.43H719.4V47.69H719.9V46.87H720.4V46.36H720.9V47.2H721.4V46.09H721.9V44.44H722.4V45.03H722.9V45.55H723.4V45.87H723.9V46.58H724.4V46.98H724.9V46.03H725.4V46.49H725.9V47.21H726.4V45.91H726.9V46.3H727.4V47.4H727.9V47.03H728.4V46.23H728.9V44.83H729.4V45.64H729.9V45.03H730.4V45.99H730.9V45.81H731.4V45.45H731.9V46H732.4V46.07H732.9V46.61H733.4V46.99H733.9V43.98H734.4V44.38H734.9V46.62H735.4V46.15H735.9V44.64H736.4V44.55H736.9V46.8H737.4V45.69H737.9V46.08H738.4V45.85H738.9V46.39H739.4V45.57H739.9V45.89H740.4V46.39H740.9V47.61H741.4V46.34H741.9V43.35H742.4V42.58H742.9V44.75H743.4V47.36H743.9V42.58H744.4V43.41H744.9V46.36H745.4V45.56H745.9V46.08H746.4V46.38H746.9V46.04H747.4V43.12H747.9V42.31H748.4V45.31H748.9V45.95H749.4V46.53H749.9V46.33H750.4V46.74H750.9V46.65H751.4V45.94H751.9V46.03H752.4V44.91H752.9V46.23H753.4V46.74H753.9V46.41H754.4V45.25H754.9V45.7H755.4V46.43H755.9V46.06H756.4V44.97H756.9V45.59H757.4V46.38H757.9V46.65H758.4V45.54H758.9V46.29H759.4V46.74H759.9V45.23H760.4V45.69H760.9V46.75H761.4V47.03H761.9V45.85H762.4V46.47H762.9V46.38H763.4V46.26H763.9V46.54H764.4V46.89H764.9V45.09H765.4V46.47H765.9V46.15H766.4V46H766.9V46.36H767.4V45.66H767.9V46.1H768.4V45.26H768.9V44.12H769.4V44.69H769.9V46.1H770.4V44.88H770.9V45.14H771.4V46.27H771.9V46.68H772.4V41.26H772.9V42.79H773.4V45.47H773.9V46.44H774.4V45.95H774.9V45.27H775.4V46.5H775.9V47.06H776.4V46.26H776.9V45.33H777.4V42.42H777.9V42.49H778.4V43.37H778.9V43.8H779.4V44.43H779.9V45.31H780.4V45.31H780.9V45.17H781.4V41.95H781.9V42.41H782.4V45.6H782.9V46.61H783.4V46.47H783.9V46.86H784.4V45.95H784.9V46.47H785.4V45.95H785.9V42.3H786.4V41.93H786.9V46.65H787.4V45.11H787.9V44.36H788.4V64.46H787.9V65.05H787.4V64.58H786.9V64.66H786.4V66H785.9V66.58H785.4V65.31H784.9V65.37H784.4V64.42H783.9V64.11H783.4V66.94H782.9V64.75H782.4V65.12H781.9V66.3H781.4V67.19H780.9V65.19H780.4V65.44H779.9V69.34H779.4V68.92H778.9V63.97H778.4V64.48H777.9V64.86H777.4V64.27H776.9V65.29H776.4V64.37H775.9V64.11H775.4V64.59H774.9V65.5H774.4V65.78H773.9V65.17H773.4V65.21H772.9V65.05H772.4V65.44H771.9V65.22H771.4V64.14H770.9V63.86H770.4V66.39H769.9V64.52H769.4V64.81H768.9V64.93H768.4V64.1H767.9V64.42H767.4V64.74H766.9V65.88H766.4V66.77H765.9V64.46H765.4V64.46H764.9V64.3H764.4V65.13H763.9V65.27H763.4V64.02H762.9V65.58H762.4V64.44H761.9V65.16H761.4V64.32H760.9V65.77H760.4V67.66H759.9V65.28H759.4V64.96H758.9V65.04H758.4V68.58H757.9V69.51H757.4V65.4H756.9V62.87H756.4V65.39H755.9V64.97H755.4V64.98H754.9V63.78H754.4V65.29H753.9V64.97H753.4V66.8H752.9V66.33H752.4V64.18H751.9V64.92H751.4V65.09H750.9V66.74H750.4V64.95H749.9V64.31H749.4V66.17H748.9V66.05H748.4V64.57H747.9V65.51H747.4V64.3H746.9V64.69H746.4V64.54H745.9V64.91H745.4V64.08H744.9V63.75H744.4V64.86H743.9V65.31H743.4V64.74H742.9V65.78H742.4V65.52H741.9V63.79H741.4V64.45H740.9V69.37H740.4V68.44H739.9V64.22H739.4V66.98H738.9V66.45H738.4V64.53H737.9V65.63H737.4V65.83H736.9V66.18H736.4V66.4H735.9V64.46H735.4V65.38H734.9V64.28H734.4V64.82H733.9V65.14H733.4V64.29H732.9V64.55H732.4V64.1H731.9V65.63H731.4V65.85H730.9V65.57H730.4V64.66H729.9V65.52H729.4V67.01H728.9V67.27H728.4V64.24H727.9V64.57H727.4V64.74H726.9V65.93H726.4V65.36H725.9V64.21H725.4V65.29H724.9V63.79H724.4V65.09H723.9V65.1H723.4V65.59H722.9V64.48H722.4V64.61H721.9V64.72H721.4V64.14H720.9V64.95H720.4V64.36H719.9V67.48H719.4V66.78H718.9V63.3H718.4V64.7H717.9V64.02H717.4V64.19H716.9V64.4H716.4V65.38H715.9V65.43H715.4V65.86H714.9V65.59H714.4V65.06H713.9V64.08H713.4V65.62H712.9V66.19H712.4V66.14H711.9V64.28H711.4V65.48H710.9V65.02H710.4V64.78H709.9V65.17H709.4V64.68H708.9V64.43H708.4V64.94H707.9V64.75H707.4V64.43H706.9V64.75H706.4V65.15H705.9V63.81H705.4V65.71H704.9V65.68H704.4V63.86H703.9V65.15H703.4V63.37H702.9V64.7H702.4V65.61H701.9V66.26H701.4V64.64H700.9V64.19H700.4V65H699.9V65.79H699.4V65.21H698.9V64.65H698.4V64.35H697.9V64.46H697.4V66.51H696.9V66.12H696.4V65.63H695.9V64.3H695.4V64.65H694.9V65.92H694.4V66.69H693.9V67.4H693.4V64.65H692.9V64.68H692.4V65.62H691.9V65.27H691.4V65.39H690.9V65.34H690.4V65.01H689.9V65.18H689.4V63.92H688.9V66.63H688.4V66.34H687.9V64.82H687.4V67.64H686.9V66.93H686.4V64.91H685.9V64.56H685.4V64.95H684.9V64.47H684.4V64.38H683.9V65.74H683.4V65.47H682.9V63.68H682.4V63.86H681.9V65.29H681.4V65.1H680.9V63.53H680.4V64.48H679.9V65.78H679.4V65.5H678.9V66.94H678.4V67.33H677.9V65.36H677.4V64.95H676.9V65.25H676.4V66.17H675.9V66.1H675.4V64.57H674.9V64.88H674.4V64.26H673.9V64.72H673.4V64.07H672.9V65.96H672.4V65.9H671.9V66.69H671.4V65.95H670.9V66.07H670.4V67H669.9V67.07H669.4V65.53H668.9V64.96H668.4V64.35H667.9V65.56H667.4V65.08H666.9V65.77H666.4V65.45H665.9V64.19H665.4V65.48H664.9V64.69H664.4V64.44H663.9V64.4H663.4V64.12H662.9V65.74H662.4V64.8H661.9V65.21H661.4V66H660.9V66.41H660.4V69H659.9V69.97H659.4V64.44H658.9V65.33H658.4V64.04H657.9V63.84H657.4V64.2H656.9V65.63H656.4V65.15H655.9V64.23H655.4V65.22H654.9V64.6H654.4V64.21H653.9V65.94H653.4V64.34H652.9V65.21H652.4V65.36H651.9V64.47H651.4V65.86H650.9V65.59H650.4V64.98H649.9V67.88H649.4V67.1H648.9V66.74H648.4V67.67H647.9V65.38H647.4V65.7H646.9V64.59H646.4V64.09H645.9V64.71H645.4V64.69H644.9V61.07H644.4V60.53H643.9V63.13H643.4V62.74H642.9V60.84H642.4V65.89H641.9V66.09H641.4V62.45H640.9V63.85H640.4V68.18H639.9V69.02H639.4V72.47H638.9V73.98H638.4V66.22H637.9V61.36H637.4V61.78H636.9V61.85H636.4V62.34H635.9V60.86H635.4V62.29H634.9V60.52H634.4V61.97H633.9V62.28H633.4V63H632.9V59.85H632.4V60.81H631.9V61.04H631.4V66.22H630.9V64.63H630.4V62.99H629.9V59.87H629.4V64.32H628.9V67.23H628.4V69.7H627.9V69.02H627.4V67.51H626.9V68.3H626.4V61.15H625.9V62.07H625.4V61.37H624.9V61.38H624.4V61.75H623.9V61.24H623.4V61.82H622.9V65.32H622.4V63.74H621.9V60.66H621.4V61.85H620.9V61.59H620.4V61.31H619.9V61.15H619.4V62.33H618.9V60.03H618.4V61.1H617.9V67.97H617.4V67.53H616.9V70.59H616.4V70.68H615.9V69.51H615.4V65.22H614.9V61.93H614.4V61.26H613.9V60.4H613.4V62.48H612.9V62.51H612.4V59.69H611.9V61.01H611.4V60.86H610.9V60.34H610.4V60.72H609.9V60.62H609.4V60.87H608.9V60.95H608.4V60.87H607.9V60.9H607.4V63.33H606.9V65.88H606.4V71.47H605.9V69.36H605.4V68.4H604.9V68.69H604.4V66.89H603.9V63.52H603.4V60.99H602.9V60.88H602.4V61.95H601.9V61.32H601.4V60.57H600.9V60.87H600.4V61.29H599.9V61.42H599.4V60.91H598.9V62.59H598.4V61.12H597.9V61.65H597.4V61.74H596.9V62.59H596.4V62.24H595.9V61.42H595.4V64.8H594.9V70.17H594.4V68.8H593.9V69.42H593.4V70.12H592.9V71.79H592.4V67.33H591.9V62.11H591.4V62.15H590.9V61.43H590.4V61.25H589.9V61.73H589.4V60.21H588.9V65.33H588.4V66.3H587.9V60.8H587.4V60.83H586.9V63.27H586.4V64.47H585.9V60.96H585.4V60.93H584.9V61.83H584.4V61.11H583.9V62.94H583.4V67.32H582.9V67.55H582.4V70.48H581.9V68.54H581.4V67.6H580.9V64.56H580.4V62.6H579.9V62.69H579.4V61.18H578.9V59.75H578.4V60.22H577.9V60.32H577.4V60.68H576.9V61.07H576.4V60.46H575.9V60.84H575.4V61.92H574.9V61.69H574.4V61.66H573.9V61.8H573.4V61.46H572.9V60.88H572.4V64.43H571.9V67.96H571.4V68.39H570.9V69.79H570.4V67.75H569.9V66.38H569.4V61.29H568.9V60.89H568.4V65.94H567.9V66.02H567.4V61.26H566.9V60.1H566.4V60.49H565.9V61.08H565.4V60.08H564.9V59.64H564.4V61.56H563.9V62.58H563.4V60.98H562.9V62.4H562.4V61.93H561.9V62.45H561.4V61.24H560.9V64.61H560.4V68.38H559.9V68.06H559.4V72.06H558.9V72.01H558.4V66.88H557.9V61.32H557.4V61.7H556.9V62.33H556.4V61.32H555.9V61.27H555.4V61.75H554.9V61.03H554.4V64.08H553.9V64.94H553.4V60.43H552.9V60.55H552.4V61.6H551.9V61.46H551.4V61.08H550.9V62.9H550.4V64.13H549.9V62.95H549.4V65.26H548.9V69.23H548.4V69.11H547.9V71.16H547.4V71.04H546.9V67.29H546.4V60.99H545.9V65.6H545.4V64.38H544.9V61.73H544.4V61.99H543.9V62.22H543.4V60.44H542.9V60.84H542.4V61.47H541.9V62.07H541.4V60.71H540.9V65.36H540.4V63.8H539.9V62.47H539.4V62.37H538.9V61.34H538.4V61.87H537.9V66.69H537.4V69.5H536.9V73.64H536.4V72.23H535.9V67.04H535.4V65.72H534.9V60.78H534.4V61.13H533.9V61.13H533.4V60.42H532.9V61.57H532.4V59.6H531.9V60.46H531.4V59.59H530.9V61.23H530.4V64.6H529.9V63.84H529.4V61.08H528.9V61.26H528.4V60.42H527.9V60.95H527.4V61.31H526.9V61.45H526.4V66.6H525.9V69.42H525.4V68.36H524.9V68.53H524.4V68.71H523.9V68.35H523.4V64.16H522.9V60.43H522.4V61.86H521.9V59.88H521.4V62.55H520.9V63.12H520.4V60.75H519.9V62H519.4V62.58H518.9V61.94H518.4V61.51H517.9V61.77H517.4V60.8H516.9V62.2H516.4V60.29H515.9V61.09H515.4V63.95H514.9V70.54H514.4V68.62H513.9V69.28H513.4V68.4H512.9V68.28H512.4V65.61H511.9V65.38H511.4V63.62H510.9V60.72H510.4V61.3H509.9V60.53H509.4V60.68H508.9V60.81H508.4V61.03H507.9V60.4H507.4V61.05H506.9V61.51H506.4V61.75H505.9V61.59H505.4V60.6H504.9V65.12H504.4V66.58H503.9V64.6H503.4V68.82H502.9V68.14H502.4V68.76H501.9V66.87H501.4V67.62H500.9V62.15H500.4V63.33H499.9V65.23H499.4V60.99H498.9V60.8H498.4V62.98H497.9V63.1H497.4V60.8H496.9V60.66H496.4V60.43H495.9V60.69H495.4V61.35H494.9V60.73H494.4V60.58H493.9V61.25H493.4V65.04H492.9V66.03H492.4V68.62H491.9V71.83H491.4V74.28H490.9V70.23H490.4V71.84H489.9V70.08H489.4V60.47H488.9V59.57H488.4V61.6H487.9V61.13H487.4V61.33H486.9V61.36H486.4V63.33H485.9V64.46H485.4V60.61H484.9V59.69H484.4V61.07H483.9V60.83H483.4V60.36H482.9V61.9H482.4V61.52H481.9V61.67H481.4V61.38H480.9V64.36H480.4V68.45H479.9V67.1H479.4V68.26H478.9V69.62H478.4V68.06H477.9V61.5H477.4V61.42H476.9V60.29H476.4V60.32H475.9V61.23H475.4V60.88H474.9V60.98H474.4V60.32H473.9V64.94H473.4V64.77H472.9V60.22H472.4V60.59H471.9V61.37H471.4V61.69H470.9V60.92H470.4V61.31H469.9V61.24H469.4V66.5H468.9V67.34H468.4V68.86H467.9V68.23H467.4V67.71H466.9V66.7H466.4V61.1H465.9V61.45H465.4V61.03H464.9V61.26H464.4V61.24H463.9V61.48H463.4V61.05H462.9V64.02H462.4V64.96H461.9V62.33H461.4V60.68H460.9V65.71H460.4V64.8H459.9V64.71H459.4V66.32H458.9V60.47H458.4V62.17H457.9V66.13H457.4V68.37H456.9V69.76H456.4V67.86H455.9V69.09H455.4V65.68H454.9V64.92H454.4V65.62H453.9V61.34H453.4V61.05H452.9V60.59H452.4V60.74H451.9V59.44H451.4V65.31H450.9V64.35H450.4V61.28H449.9V60.74H449.4V61.22H448.9V61.69H448.4V61.46H447.9V62.17H447.4V62.29H446.9V65.14H446.4V70.08H445.9V70.07H445.4V70.91H444.9V68.6H444.4V68.74H443.9V63.46H443.4V61.03H442.9V60.95H442.4V61.01H441.9V60.54H441.4V61.38H440.9V60.58H440.4V60.98H439.9V60.18H439.4V59.75H438.9V61.31H438.4V60.65H437.9V61.27H437.4V60.9H436.9V61.58H436.4V62.25H435.9V61.49H435.4V63.15H434.9V67.52H434.4V68.25H433.9V67.84H433.4V67.48H432.9V67.02H432.4V62.6H431.9V62.22H431.4V63.84H430.9V62.22H430.4V61.92H429.9V60.61H429.4V61.14H428.9V61H428.4V60.31H427.9V60.81H427.4V60.36H426.9V61H426.4V60.27H425.9V59.89H425.4V60.75H424.9V60.03H424.4V60.41H423.9V60.01H423.4V59.45H422.9V62.93H422.4V64.07H421.9V60.15H421.4V61.65H420.9V60.58H420.4V60.31H419.9V59.77H419.4V58.66H418.9V59.41H418.4V59.23H417.9V59.68H417.4V59.76H416.9V60.91H416.4V61.34H415.9V63.32H415.4V59.58H414.9V60.21H414.4V61.52H413.9V60.38H413.4V60.21H412.9V60.2H412.4V59.25H411.9V60.63H411.4V60.38H410.9V59.71H410.4V63.52H409.9V64.52H409.4V63.84H408.9V62.9H408.4V62H407.9V59.91H407.4V60.55H406.9V62.74H406.4V62.75H405.9V58.92H405.4V60.42H404.9V60.62H404.4V59.88H403.9V60.19H403.4V59.82H402.9V59.93H402.4V60.11H401.9V60.07H401.4V59.01H400.9V60.64H400.4V59.95H399.9V59.51H399.4V63.02H398.9V64.08H398.4V60.41H397.9V62H397.4V62.94H396.9V61.52H396.4V62.18H395.9V59.84H395.4V59.32H394.9V60.47H394.4V59.75H393.9V59.88H393.4V60.02H392.9V60.99H392.4V60.99H391.9V60.62H391.4V62.85H390.9V62.4H390.4V59.76H389.9V59.43H389.4V60.07H388.9V59.79H388.4V59.86H387.9V59.01H387.4V60.33H386.9V62.42H386.4V62.61H385.9V58.79H385.4V58.99H384.9V62.79H384.4V62.94H383.9V62.86H383.4V63.51H382.9V62.34H382.4V63.89H381.9V64.11H381.4V64.04H380.9V60.24H380.4V63.77H379.9V63.98H379.4V60.39H378.9V60.21H378.4V63.95H377.9V63.93H377.4V62.23H376.9V62.51H376.4V59.03H375.9V59.54H375.4V60.53H374.9V60.34H374.4V59.25H373.9V60.13H373.4V59.28H372.9V60.46H372.4V60.85H371.9V60.01H371.4V59.66H370.9V59.65H370.4V60.97H369.9V64.47H369.4V64.04H368.9V61.54H368.4V59.91H367.9V60.55H367.4V61.04H366.9V60.51H366.4V59.81H365.9V60.09H365.4V59.29H364.9V60.32H364.4V59.54H363.9V59.22H363.4V64.56H362.9V63.1H362.4V61.01H361.9V62.16H361.4V61.84H360.9V64.52H360.4V65.27H359.9V59.69H359.4V61.9H358.9V61.96H358.4V60.24H357.9V60.46H357.4V64.53H356.9V65.11H356.4V63.03H355.9V65.33H355.4V64.42H354.9V60.21H354.4V59.36H353.9V62.66H353.4V62.94H352.9V64.68H352.4V62.54H351.9V64.29H351.4V65.12H350.9V60.02H350.4V61.09H349.9V59.55H349.4V60.3H348.9V59.36H348.4V59.45H347.9V59.6H347.4V62.65H346.9V64.75H346.4V64.66H345.9V63.66H345.4V65.57H344.9V64.72H344.4V60.46H343.9V65.16H343.4V63.98H342.9V59.77H342.4V60.23H341.9V59.81H341.4V59.84H340.9V62.91H340.4V63.76H339.9V61.74H339.4V59.9H338.9V63.46H338.4V64.31H337.9V60.25H337.4V61.47H336.9V62.08H336.4V60.11H335.9V60.71H335.4V60.51H334.9V60.78H334.4V59.91H333.9V60.41H333.4V60.3H332.9V60.41H332.4V59.97H331.9V61.19H331.4V60.9H330.9V60.68H330.4V60.31H329.9V60.6H329.4V61H328.9V61.13H328.4V64.93H327.9V63.38H327.4V61.6H326.9V63.07H326.4V60.58H325.9V58.93H325.4V59.39H324.9V58.66H324.4V62.15H323.9V61.92H323.4V60.65H322.9V60.67H322.4V60.78H321.9V61.47H321.4V61.51H320.9V59.37H320.4V59.94H319.9V60.3H319.4V60.18H318.9V59.65H318.4V62.71H317.9V63.46H317.4V61.17H316.9V58.55H316.4V60.01H315.9V59.04H315.4V57.73H314.9V59.69H314.4V58.03H313.9V58.44H313.4V58.41H312.9V58.68H312.4V60.18H311.9V61.42H311.4V59.06H310.9V57.82H310.4V58.66H309.9V58.46H309.4V58.57H308.9V59.8H308.4V59.35H307.9V58.72H307.4V59.88H306.9V60.12H306.4V61.94H305.9V62.84H305.4V60.71H304.9V60.75H304.4V60.03H303.9V61.23H303.4V60.27H302.9V61.9H302.4V63.88H301.9V63.33H301.4V59.64H300.9V61.26H300.4V59.25H299.9V59.52H299.4V63.47H298.9V62.41H298.4V63.22H297.9V62.47H297.4V59.88H296.9V62.94H296.4V64.76H295.9V65.09H295.4V60.98H294.9V60.96H294.4V61.89H293.9V61.96H293.4V60.49H292.9V63.83H292.4V65.22H291.9V60.67H291.4V63.89H290.9V64.57H290.4V61.27H289.9V59.85H289.4V60.63H288.9V59.88H288.4V59.82H287.9V60.87H287.4V60.64H286.9V60.48H286.4V60.84H285.9V62.85H285.4V63.56H284.9V62.14H284.4V61.42H283.9V61.1H283.4V61.23H282.9V60.75H282.4V61.03H281.9V61.73H281.4V63.17H280.9V64.44H280.4V65.28H279.9V65.42H279.4V60.86H278.9V61.23H278.4V63.15H277.9V62.55H277.4V60.79H276.9V65.86H276.4V63.97H275.9V64.51H275.4V64.62H274.9V60.92H274.4V60.85H273.9V59.24H273.4V62.43H272.9V62.45H272.4V60.49H271.9V60.78H271.4V60.72H270.9V61.06H270.4V60.65H269.9V61.47H269.4V60.47H268.9V61.48H268.4V60.43H267.9V60.08H267.4V60.92H266.9V62.07H266.4V62.69H265.9V60.41H265.4V61.83H264.9V62.07H264.4V62.44H263.9V60.48H263.4V60.07H262.9V59.29H262.4V60.93H261.9V60.36H261.4V60.03H260.9V59.75H260.4V60.81H259.9V61.85H259.4V61.56H258.9V61.89H258.4V60.12H257.9V59.9H257.4V60.92H256.9V62.02H256.4V61.93H255.9V61.76H255.4V60.49H254.9V61.71H254.4V62.16H253.9V61.61H253.4V65.27H252.9V66.19H252.4V60.39H251.9V60.43H251.4V60.43H250.9V62.8H250.4V65.1H249.9V64.14H249.4V65.2H248.9V60.66H248.4V62.64H247.9V62.46H247.4V60.03H246.9V60.46H246.4V60.34H245.9V60.03H245.4V60.84H244.9V60.39H244.4V65.03H243.9V64.34H243.4V60.29H242.9V61.26H242.4V61.51H241.9V64.63H241.4V64.15H240.9V59.6H240.4V62.44H239.9V61.79H239.4V60.8H238.9V60.95H238.4V60.52H237.9V63.89H237.4V66.53H236.9V65.21H236.4V62.53H235.9V61.75H235.4V61.57H234.9V61.22H234.4V61.05H233.9V61.8H233.4V60.98H232.9V61.18H232.4V60.72H231.9V59.5H231.4V59.71H230.9V59.4H230.4V60.8H229.9V60.3H229.4V59.99H228.9V59.95H228.4V60.58H227.9V62.44H227.4V63.06H226.9V60.21H226.4V59.26H225.9V61.49H225.4V63.09H224.9V62.96H224.4V59.68H223.9V60.68H223.4V60.03H222.9V61.36H222.4V61.31H221.9V64.59H221.4V64.39H220.9V60.81H220.4V60.32H219.9V60.3H219.4V60.08H218.9V61.23H218.4V60.64H217.9V59.64H217.4V60.42H216.9V59.59H216.4V60.55H215.9V60.25H215.4V60.29H214.9V60.26H214.4V62.89H213.9V63.54H213.4V61.94H212.9V61.37H212.4V59.58H211.9V60.43H211.4V58.84H210.9V58.68H210.4V57.9H209.9V58.7H209.4V58.41H208.9V58.1H208.4V62.86H207.9V60.97H207.4V57.78H206.9V58.53H206.4V59.12H205.9V59.54H205.4V58.83H204.9V57.01H204.4V58.79H203.9V58.6H203.4V61.04H202.9V61.56H202.4V60.43H201.9V60.65H201.4V60.65H200.9V60.22H200.4V62.19H199.9V61.23H199.4V59.4H198.9V59.02H198.4V64.01H197.9V63.64H197.4V62.38H196.9V61.51H196.4V61.07H195.9V60.18H195.4V59.6H194.9V61.97H194.4V62.18H193.9V60.04H193.4V59.7H192.9V59.18H192.4V60.47H191.9V60.5H191.4V60.83H190.9V59.72H190.4V58.97H189.9V63.73H189.4V64.46H188.9V60.59H188.4V64.41H187.9V64.33H187.4V60.48H186.9V59.1H186.4V60.56H185.9V60.63H185.4V58.97H184.9V60.46H184.4V63.05H183.9V62.46H183.4V62.15H182.9V62.86H182.4V59.84H181.9V59.67H181.4V59.12H180.9V58.82H180.4V61.62H179.9V59.7H179.4V58.62H178.9V60.96H178.4V61.7H177.9V60.18H177.4V60.64H176.9V59.21H176.4V59.41H175.9V60.31H175.4V59.53H174.9V63.44H174.4V63.57H173.9V62.01H173.4V58.43H172.9V60.18H172.4V59.92H171.9V59.02H171.4V59.74H170.9V60.24H170.4V61.81H169.9V59.73H169.4V60.29H168.9V60.39H168.4V58.86H167.9V60.05H167.4V60.13H166.9V59.36H166.4V61.11H165.9V61.03H165.4V60.17H164.9V59.87H164.4V58.36H163.9V61.81H163.4V61.54H162.9V60.05H162.4V63.98H161.9V64.24H161.4V65.1H160.9V62.41H160.4V60.32H159.9V59.55H159.4V59.56H158.9V59.24H158.4V58.5H157.9V59.37H157.4V57.13H156.9V62.67H156.4V61.27H155.9V60.93H155.4V61.15H154.9V57.17H154.4V57.77H153.9V60.31H153.4V58.91H152.9V58.88H152.4V57.78H151.9V57.8H151.4V57.94H150.9V58.09H150.4V61.26H149.9V61.09H149.4V61.55H148.9V61.3H148.4V60.21H147.9V60.52H147.4V59.54H146.9V64.21H146.4V64.97H145.9V59.58H145.4V63.47H144.9V63.64H144.4V61.7H143.9V61.88H143.4V62.67H142.9V62.12H142.4V62.88H141.9V58.64H141.4V64.46H140.9V64.75H140.4V60.65H139.9V60.42H139.4V61.61H138.9V64.47H138.4V63.65H137.9V63.06H137.4V65.14H136.9V61.15H136.4V61.62H135.9V60.84H135.4V64.64H134.9V65.02H134.4V61.68H133.9V60.91H133.4V60.21H132.9V60.53H132.4V60.41H131.9V59.78H131.4V61.43H130.9V60.23H130.4V59.41H129.9V59.06H129.4V60.85H128.9V60.88H128.4V61.56H127.9V61.08H127.4V62.86H126.9V59.9H126.4V60.23H125.9V60.45H125.4V59.33H124.9V60.38H124.4V61.65H123.9V63.38H123.4V62.85H122.9V60.5H122.4V59.48H121.9V59.4H121.4V59.4H120.9V60.8H120.4V61.48H119.9V62.3H119.4V65.06H118.9V65.26H118.4V64.35H117.9V60.96H117.4V62.53H116.9V62.71H116.4V60.17H115.9V61.79H115.4V60.19H114.9V62.33H114.4V61.67H113.9V60.4H113.4V59.67H112.9V59.75H112.4V60.03H111.9V59.72H111.4V62.8H110.9V62.79H110.4V63.03H109.9V61.57H109.4V65.87H108.9V65.3H108.4V60.6H107.9V60.5H107.4V60.13H106.9V60.5H106.4V60.39H105.9V59.85H105.4V59.67H104.9V60.28H104.4V59.76H103.9V60.17H103.4V59.06H102.9V61.32H102.4V60.86H101.9V60.43H101.4V61.75H100.9V60.96H100.4V61.65H99.9V60.12H99.4V59.63H98.9V60.67H98.4V63.99H97.9V64.57H97.4V61.24H96.9V60.12H96.4V61.63H95.9V60.21H95.4V60.41H94.9V59.99H94.4V60.51H93.9V60.04H93.4V60.19H92.9V60.57H92.4V59.01H91.9V58.39H91.4V59.09H90.9V58.72H90.4V63.16H89.9V63.73H89.4V63.24H88.9V63.49H88.4V59.67H87.9V58.9H87.4V59.35H86.9V58.57H86.4V58.57H85.9V58.33H85.4V58.86H84.9V59.62H84.4V63.96H83.9V64.67H83.4V59.45H82.9V63.92H82.4V63.81H81.9V58.89H81.4V59.58H80.9V59.99H80.4V59.35H79.9V62.77H79.4V63.35H78.9V58.66H78.4V59.94H77.9V64.07H77.4V63.19H76.9V58.69H76.4V58.42H75.9V59.06H75.4V57.73H74.9V58.82H74.4V58.5H73.9V63.47H73.4V65.11H72.9V64.15H72.4V63.06H71.9V60.76H71.4V60.07H70.9V59.58H70.4V60.51H69.9V59.14H69.4V59.3H68.9V61.04H68.4V59.85H67.9V58.89H67.4V59.37H66.9V59.83H66.4V62.01H65.9V61.24H65.4V59.27H64.9V59.05H64.4V58.85H63.9V63.37H63.4V62.83H62.9V60.34H62.4V61.1H61.9V64.32H61.4V64.21H60.9V60.08H60.4V58.8H59.9V62.03H59.4V61.41H58.9V59.7H58.4V61.19H57.9V60.35H57.4V58.67H56.9V58.79H56.4V59.56H55.9V59.54H55.4V58.16H54.9V58.42H54.4V58.85H53.9V57.83H53.4V63H52.9V62.22H52.4V58.49H51.9V58.83H51.4V58.46H50.9V58.33H50.4V59.04H49.9V59.99H49.4V60.33H48.9V58.36H48.4V62.34H47.9V62.13H47.4V58.57H46.9V58.8H46.4V59.18H45.9V59.34H45.4V60.66H44.9V59.03H44.4V59.94H43.9V60.46H43.4V60.61H42.9V60.58H42.4V58.99H41.9V59.36H41.4V58.39H40.9V58.13H40.4V60.14H39.9V59.78H39.4Z" fill="#0079ba"/>
<path d="M47.5 55.69V38.6M47.5 55.69V40.7M47.5 55.69V73.7M121.5 55.69V43.3M121.5 55.69V66.8M131.5 55.69V38.8M131.5 55.69V41.5M131.5 55.69V92.2M132.5 55.69V67.9M137.5 55.69V40.4M137.5 55.69V70.5M137.5 55.69V77.1M145.5 55.69V77.1M237.5 55.69V67.9M237.5 55.69V67.6M245.5 55.69V67.1M250.5 55.69V42.8M250.5 55.69V67.9M250.5 55.69V79M260.5 55.69V66.3M263.5 55.69V66.3M263.5 55.69V83.5M276.5 55.69V66.3M276.5 55.69V80.8M301.5 55.69V44.1M301.5 55.69V67.1M303.5 55.69V68.9M305.5 55.69V66.3M316.5 55.69V66.3M344.5 55.69V66.3M389.5 55.69V66.3M391.5 55.69V42.8M394.5 55.69V42.8M393.5 55.69V70.3M407.5 55.69V42.8M407.5 55.69V68.4M407.5 55.69V80.8M407.5 55.69V99.6M420.5 55.69V42.3M420.5 55.69V75.3M420.5 55.69V94.8M418.5 55.69V65.8M433.5 55.69V31.4M433.5 55.69V40.6M435.5 55.69V43.3M432.5 55.69V67.8M434.5 55.69V71M433.5 55.69V83.6M433.5 55.69V104M445.5 55.69V41.4M446.5 55.69V42.5M445.5 55.69V68.3M446.5 55.69V71M458.5 55.69V43.3M456.5 55.69V67.8M458.5 55.69V73.1M457.5 55.69V83.6M469.5 55.69V43.3M469.5 55.69V68.3M480.5 55.69V43.3M480.5 55.69V68.3M479.5 55.69V74.1M491.5 55.69V41.9M491.5 55.69V68.3M502.5 55.69V43.3M502.5 55.69V68.3M513.5 55.69V41.4M513.5 55.69V68.3M525.5 55.69V40.1M526.5 55.69V43.3M525.5 55.69V71M534.5 55.69V82.8M536.5 55.69V42.7M541.5 55.69V44.6M536.5 55.69V68.3M539.5 55.69V69.6M536.5 55.69V82M547.5 55.69V18.2M549.5 55.69V37.2M547.5 55.69V41.4M548.5 55.69V44M548.5 55.69V68.3M548.5 55.69V71M547.5 55.69V82M547.5 55.69V87.3M558.5 55.69V40.1M559.5 55.69V42M558.5 55.69V68.3M558.5 55.69V71M558.5 55.69V75.7M558.5 55.69V95.5M569.5 55.69V9.7M569.5 55.69V43.3M569.5 55.69V69.6M569.5 55.69V77.6M569.5 55.69V85M580.5 55.69V41.4M580.5 55.69V68.3M581.5 55.69V71M591.5 55.69V43.3M594.5 55.69V42M592.5 55.69V68.3M592.5 55.69V79.7M605.5 55.69V42M605.5 55.69V68.3M616.5 55.69V39.3M616.5 55.69V67.8M627.5 55.69V40.1M627.5 55.69V68.3M638.5 55.69V31.4M638.5 55.69V42M638.5 55.69V68.3M646.5 55.69V33.5M662.5 55.69V32.7M686.5 55.69V30.6M694.5 55.69V31.4M703.5 55.69V32.7M669.5 55.69V77.6M678.5 55.69V82M686.5 55.69V85M691.5 55.69V75.7M703.5 55.69V76.4M750.5 55.69V78.5M763.5 55.69V78.9M771.5 55.69V78.5M645.5 55.69V39.1M647.5 55.69V41.25M652.5 55.69V43.87M659.5 55.69V38.35M663.5 55.69V40.09M675.5 55.69V41.34M680.5 55.69V43.45M683.5 55.69V41.71M687.5 55.69V39.14M689.5 55.69V41.32M700.5 55.69V40.97M706.5 55.69V43.08M712.5 55.69V39.15M716.5 55.69V42.15M721.5 55.69V37.57M725.5 55.69V39.81M740.5 55.69V37.59M743.5 55.69V41.99M750.5 55.69V40.99M753.5 55.69V41.72M756.5 55.69V42.39M765.5 55.69V39.19M766.5 55.69V40.7M775.5 55.69V43.87M779.5 55.69V42.34M648.5 55.69V69.52M650.5 55.69V66.08M651.5 55.69V68.97M653.5 55.69V66.03M656.5 55.69V71.61M658.5 55.69V69.8M666.5 55.69V67.43M669.5 55.69V73.19M678.5 55.69V66.77M682.5 55.69V67.99M688.5 55.69V70.3M692.5 55.69V68.24M699.5 55.69V74.3M701.5 55.69V68.05M703.5 55.69V66.13M705.5 55.69V69.59M718.5 55.69V66.17M721.5 55.69V71.74M722.5 55.69V66.74M725.5 55.69V71.07M729.5 55.69V74.29M731.5 55.69V69.74M736.5 55.69V74.46M737.5 55.69V72.24M739.5 55.69V68.94M744.5 55.69V72.25M745.5 55.69V74.99M747.5 55.69V71.03M749.5 55.69V68.05M750.5 55.69V66.17M751.5 55.69V66.7M753.5 55.69V67.09M755.5 55.69V66M758.5 55.69V74.09M759.5 55.69V67.22M768.5 55.69V70.14M772.5 55.69V67.2M774.5 55.69V70.06M780.5 55.69V73.65M781.5 55.69V67.73M785.5 55.69V69.39M788.5 55.69V74.84" stroke="#0079ba" stroke-width="0.9" fill="none"/>
<path d="M39.67 45.25H788.4" stroke="#008000" stroke-width="1.0" stroke-dasharray="3.4 1.466" fill="none"/>
<path d="M39.67 65.55H788.4" stroke="#ffa500" stroke-width="1.0" stroke-dasharray="3.4 1.466" fill="none"/>
</g>
<rect x="39.4" y="5.3" width="749" height="103" fill="none" stroke="#000" stroke-width="0.5"/>
<path d="M39.4 108.3V110.4M168.59 108.3V110.4M297.79 108.3V110.4M426.98 108.3V110.4M556.17 108.3V110.4M685.37 108.3V110.4M37.3 108.3H39.4M37.3 82.55H39.4M37.3 56.8H39.4M37.3 31.05H39.4M37.3 5.3H39.4" stroke="#000" stroke-width="0.7"/>
<text x="39.4" y="117.9" text-anchor="middle">0</text>
<text x="168.59" y="117.9" text-anchor="middle">200</text>
<text x="297.79" y="117.9" text-anchor="middle">400</text>
<text x="426.98" y="117.9" text-anchor="middle">600</text>
<text x="556.17" y="117.9" text-anchor="middle">800</text>
<text x="685.37" y="117.9" text-anchor="middle">1000</text>
<text x="35" y="110.75" text-anchor="end">3</text>
<text x="35" y="85" text-anchor="end">4</text>
<text x="35" y="59.25" text-anchor="end">5</text>
<text x="35" y="33.5" text-anchor="end">6</text>
<text x="35" y="7.75" text-anchor="end">7</text>
<text x="413.9" y="126.2" text-anchor="middle">Time in sec</text>
<text transform="translate(27.7 56.8) rotate(-90)" text-anchor="middle">Vibration Sensor</text>
<rect x="711.8" y="8.55" width="73.7" height="37.55" rx="1.4" fill="#fff" fill-opacity="0.8" stroke="#ccc" stroke-opacity="0.8" stroke-width="0.5"/>
<path d="M714.2 13.3H727.8" stroke="#0079ba" stroke-width="0.92"/>
<path d="M714.7 22.5H727.8" stroke="#008000" stroke-width="1.0" stroke-dasharray="3.4 1.466"/>
<path d="M714.7 31.3H727.8" stroke="#ffa500" stroke-width="1.0" stroke-dasharray="3.4 1.466"/>
<circle cx="721" cy="40.3" r="2.3" fill="#f00"/>
<text x="732" y="15.75">Belt Tension Low</text>
<text x="732" y="24.95">Upper Th: 5.46</text>
<text x="732" y="33.75">Lower Th: 4.65</text>
<text x="732" y="42.75">Anomaly</text>
<g clip-path="url(#c1)">
<path d="M39.4 175.95V175.95H39.9V175.87H40.4V174.72H40.9V169.31H41.4V169.38H41.9V179.38H42.4V175.96H42.9V172.92H43.4V175.71H43.9V176.78H44.4V177.4H44.9V177.86H45.4V176.5H45.9V178.1H46.4V177.76H46.9V178.15H47.4V179.15H47.9V180.01H48.4V177.06H48.9V178.31H49.4V177.84H49.9V179.71H50.4V180.21H50.9V178.96H51.4V178.4H51.9V179.39H52.4V179.21H52.9V179.07H53.4V179.49H53.9V178.7H54.4V176.94H54.9V176.25H55.4V178.77H55.9V181.46H56.4V179.24H56.9V168.79H57.4V169.08H57.9V179.12H58.4V178.02H58.9V178.7H59.4V176.41H59.9V175.49H60.4V176.76H60.9V178.91H61.4V178.37H61.9V178.45H62.4V177.21H62.9V178.37H63.4V178.43H63.9V174.04H64.4V174.26H64.9V178.28H65.4V179.22H65.9V178.11H66.4V177.95H66.9V175.52H67.4V176H67.9V177.84H68.4V175.96H68.9V175.65H69.4V176.37H69.9V175.82H70.4V179.12H70.9V178.36H71.4V179.19H71.9V177.67H72.4V170.74H72.9V170.47H73.4V178.92H73.9V177.04H74.4V176.55H74.9V170.22H75.4V171.14H75.9V178.63H76.4V178.02H76.9V178.9H77.4V176.33H77.9V178.22H78.4V179.96H78.9V178.86H79.4V177.33H79.9V178.15H80.4V177.04H80.9V177.37H81.4V177.48H81.9V178.7H82.4V180.59H82.9V179.23H83.4V174.93H83.9V175.21H84.4V177.55H84.9V180.05H85.4V177.44H85.9V173.87H86.4V176.72H86.9V176.97H87.4V178.38H87.9V178.88H88.4V178.94H88.9V178.91H89.4V179.54H89.9V175.5H90.4V176.68H90.9V178.8H91.4V177.81H91.9V177.78H92.4V178.32H92.9V178.22H93.4V179.21H93.9V178.87H94.4V178.77H94.9V175.55H95.4V175.02H95.9V177.59H96.4V178.92H96.9V178.88H97.4V178.18H97.9V178.94H98.4V178.7H98.9V176.39H99.4V177.02H99.9V174.97H100.4V175.08H100.9V177.62H101.4V178.25H101.9V178.9H102.4V180.48H102.9V177.78H103.4V179.16H103.9V176.49H104.4V176.88H104.9V178.3H105.4V179.75H105.9V174.32H106.4V173.07H106.9V176.97H107.4V174.4H107.9V178.09H108.4V177.71H108.9V179.88H109.4V178.32H109.9V178.97H110.4V177.13H110.9V174.11H111.4V173.05H111.9V170.05H112.4V169.99H112.9V170.59H113.4V178.92H113.9V177.65H114.4V179.66H114.9V177.26H115.4V173.89H115.9V174.26H116.4V178.45H116.9V177.58H117.4V178.2H117.9V178.38H118.4V178.98H118.9V179.26H119.4V179H119.9V174.14H120.4V174.55H120.9V174.53H121.4V175.04H121.9V174.65H122.4V173.34H122.9V177.88H123.4V177.62H123.9V174.05H124.4V178.38H124.9V174.44H125.4V173.37H125.9V176.57H126.4V176.06H126.9V178.69H127.4V177.57H127.9V172.65H128.4V171.71H128.9V176.95H129.4V177.68H129.9V179.89H130.4V178.9H130.9V180.92H131.4V178.19H131.9V178.35H132.4V177.49H132.9V175.3H133.4V178.89H133.9V179.72H134.4V177.35H134.9V175.67H135.4V175.58H135.9V178.29H136.4V174.18H136.9V176.05H137.4V177.54H137.9V171.29H138.4V170.99H138.9V179.66H139.4V178.14H139.9V177.9H140.4V179.12H140.9V178.02H141.4V175.55H141.9V175.73H142.4V177.64H142.9V176.9H143.4V174.3H143.9V169.34H144.4V166.2H144.9V166.2H145.4V173.38H145.9V177.84H146.4V177.42H146.9V175.15H147.4V174.72H147.9V177.51H148.4V178.67H148.9V176.33H149.4V178.59H149.9V178.43H150.4V180.07H150.9V174.65H151.4V176.73H151.9V176.12H152.4V170.07H152.9V171.43H153.4V178.36H153.9V176.48H154.4V178.09H154.9V177.96H155.4V178.46H155.9V177.67H156.4V175.76H156.9V173.48H157.4V173.67H157.9V172.43H158.4V178.2H158.9V179.63H159.4V179.33H159.9V177.08H160.4V175.84H160.9V178.73H161.4V179.27H161.9V169.26H162.4V170.85H162.9V178.44H163.4V176.1H163.9V175.81H164.4V178.56H164.9V177.98H165.4V178.28H165.9V178.88H166.4V178.18H166.9V179.49H167.4V178.62H167.9V178.89H168.4V179.53H168.9V175.16H169.4V175.82H169.9V179.26H170.4V178.37H170.9V171.32H171.4V172.56H171.9V178.23H172.4V170.51H172.9V169.35H173.4V174.14H173.9V174.93H174.4V177.76H174.9V174.35H175.4V179.67H175.9V180.09H176.4V179.18H176.9V178.69H177.4V179.68H177.9V180.5H178.4V169.53H178.9V169.52H179.4V178.86H179.9V176.58H180.4V176.05H180.9V177.66H181.4V178.1H181.9V173.75H182.4V173.31H182.9V171.26H183.4V172.06H183.9V175.33H184.4V177.78H184.9V175.07H185.4V177.85H185.9V176.07H186.4V172.21H186.9V172.61H187.4V177.43H187.9V177.42H188.4V177.18H188.9V175.5H189.4V178.26H189.9V177.58H190.4V176.63H190.9V175.47H191.4V179.56H191.9V178.1H192.4V175.99H192.9V176.31H193.4V173.26H193.9V171.73H194.4V177.78H194.9V177.7H195.4V175.84H195.9V173.48H196.4V178.41H196.9V172.8H197.4V173.1H197.9V168.48H198.4V169.14H198.9V178.85H199.4V178.42H199.9V175.32H200.4V176.95H200.9V178.61H201.4V177.52H201.9V176.64H202.4V177.96H202.9V178.39H203.4V179.59H203.9V180.53H204.4V178.13H204.9V171.82H205.4V172.91H205.9V178.21H206.4V178.75H206.9V178.82H207.4V178.19H207.9V176.49H208.4V175.96H208.9V178.2H209.4V167H209.9V167H210.4V178.94H210.9V179.1H211.4V177.59H211.9V178.09H212.4V179.36H212.9V178.09H213.4V179.32H213.9V174.98H214.4V174.12H214.9V177.36H215.4V170.63H215.9V170.75H216.4V170.33H216.9V176.9H217.4V176.1H217.9V173.69H218.4V178.38H218.9V176.01H219.4V176.71H219.9V178.58H220.4V178.09H220.9V177.01H221.4V172.81H221.9V172.31H222.4V177.85H222.9V176.21H223.4V176.58H223.9V173.87H224.4V178.3H224.9V176.77H225.4V177.38H225.9V177.38H226.4V175.41H226.9V177.88H227.4V176.51H227.9V175.87H228.4V179.08H228.9V178.39H229.4V177.62H229.9V179.56H230.4V178.39H230.9V180.35H231.4V170.7H231.9V168.04H232.4V169.27H232.9V177.84H233.4V177.61H233.9V171.41H234.4V173.26H234.9V169.54H235.4V171.5H235.9V177.93H236.4V169.37H236.9V170.23H237.4V175.88H237.9V176.95H238.4V178.19H238.9V178.5H239.4V180.59H239.9V174.72H240.4V174.98H240.9V177.32H241.4V178.18H241.9V178.84H242.4V178.45H242.9V170.41H243.4V169.67H243.9V176.99H244.4V176.46H244.9V172.73H245.4V174.22H245.9V179.88H246.4V170.6H246.9V169.95H247.4V175.34H247.9V173.81H248.4V177.66H248.9V171.22H249.4V170.08H249.9V174.23H250.4V172.58H250.9V178.59H251.4V178.49H251.9V178.92H252.4V178.35H252.9V179.32H253.4V177.23H253.9V178.77H254.4V180.65H254.9V178.53H255.4V179.33H255.9V178.29H256.4V179.63H256.9V178.45H257.4V174.14H257.9V171.68H258.4V177.32H258.9V178.65H259.4V178.87H259.9V178.84H260.4V176.97H260.9V176.35H261.4V176.83H261.9V177.26H262.4V176.04H262.9V177.05H263.4V178.55H263.9V175.97H264.4V176.61H264.9V177.74H265.4V177.24H265.9V176.48H266.4V178.58H266.9V177.94H267.4V177.58H267.9V175.53H268.4V174.85H268.9V179.38H269.4V173.91H269.9V174.89H270.4V173.38H270.9V174.69H271.4V175.32H271.9V168H272.4V168H272.9V174.86H273.4V174.88H273.9V176.46H274.4V177.1H274.9V177.34H275.4V176.81H275.9V178.91H276.4V178.77H276.9V176.94H277.4V177.85H277.9V161.5H278.4V161.5H278.9V175.85H279.4V177.67H279.9V175.18H280.4V177.65H280.9V176.09H281.4V177.33H281.9V178.28H282.4V176.25H282.9V173.98H283.4V177.35H283.9V175.15H284.4V176.16H284.9V178.77H285.4V176.93H285.9V180.42H286.4V179.12H286.9V169.75H287.4V170.11H287.9V175.48H288.4V178.75H288.9V175.09H289.4V171.06H289.9V168.74H290.4V175.3H290.9V175.54H291.4V178.49H291.9V177.71H292.4V171.7H292.9V171.28H293.4V173.41H293.9V178.8H294.4V177.94H294.9V177.57H295.4V178.01H295.9V176.9H296.4V174.53H296.9V178.79H297.4V168.8H297.9V168.79H298.4V170.78H298.9V170.72H299.4V173.07H299.9V179.78H300.4V178.16H300.9V179.62H301.4V172.77H301.9V172.44H302.4V178.38H302.9V177.77H303.4V176.63H303.9V179H304.4V178.56H304.9V178.53H305.4V177.81H305.9V179.97H306.4V172.15H306.9V172.04H307.4V177.37H307.9V178.66H308.4V178.65H308.9V180.2H309.4V179.66H309.9V178.51H310.4V170.42H310.9V171.64H311.4V179.19H311.9V178.09H312.4V178.44H312.9V179.54H313.4V173.82H313.9V175.66H314.4V178.8H314.9V177.67H315.4V176.21H315.9V178.75H316.4V178.01H316.9V178.47H317.4V177.72H317.9V176.21H318.4V176.72H318.9V177.49H319.4V178.31H319.9V174.22H320.4V174.04H320.9V179.54H321.4V179.63H321.9V176.83H322.4V179.22H322.9V178.66H323.4V178.6H323.9V177.4H324.4V173.38H324.9V172.27H325.4V170.74H325.9V170.23H326.4V173.13H326.9V172.21H327.4V176.79H327.9V175.2H328.4V174.92H328.9V175.98H329.4V178.7H329.9V169.69H330.4V168.22H330.9V177.58H331.4V177.94H331.9V174.83H332.4V174.34H332.9V170.55H333.4V171.11H333.9V175.11H334.4V179.39H334.9V172.66H335.4V173H335.9V170.89H336.4V169.84H336.9V177.76H337.4V179.23H337.9V170.7H338.4V170.14H338.9V170.16H339.4V175.07H339.9V174.62H340.4V175.06H340.9V178.46H341.4V178.37H341.9V179.34H342.4V176.64H342.9V178.49H343.4V178.33H343.9V177.68H344.4V177.65H344.9V177.67H345.4V177.36H345.9V177.26H346.4V179.45H346.9V178.04H347.4V178.83H347.9V178.58H348.4V178.95H348.9V178.31H349.4V179.26H349.9V179.63H350.4V177.8H350.9V178.88H351.4V178.33H351.9V176.44H352.4V178H352.9V177.26H353.4V178.2H353.9V177.48H354.4V176.55H354.9V175.61H355.4V174.95H355.9V176.68H356.4V177.44H356.9V175.33H357.4V175.05H357.9V179.91H358.4V178.88H358.9V177.85H359.4V179.22H359.9V179.87H360.4V178.07H360.9V177.94H361.4V180.24H361.9V177.58H362.4V177.18H362.9V178.26H363.4V177.99H363.9V172.64H364.4V172.09H364.9V178.96H365.4V175.88H365.9V176.63H366.4V178.64H366.9V180.63H367.4V178.9H367.9V177.71H368.4V178.13H368.9V178.07H369.4V178.73H369.9V173.37H370.4V174.07H370.9V177.14H371.4V179.84H371.9V174.58H372.4V175.39H372.9V175.99H373.4V177.04H373.9V177.58H374.4V173.88H374.9V175.42H375.4V176.34H375.9V177.76H376.4V178.88H376.9V179.16H377.4V178.34H377.9V178.94H378.4V171.95H378.9V171.52H379.4V172.49H379.9V174.73H380.4V178.59H380.9V178.81H381.4V178.97H381.9V174.68H382.4V175.96H382.9V177.68H383.4V176.1H383.9V178.78H384.4V177.07H384.9V180.38H385.4V178.28H385.9V179.32H386.4V177.1H386.9V179.7H387.4V177.79H387.9V176.07H388.4V174.89H388.9V177.61H389.4V178.56H389.9V178.67H390.4V176.52H390.9V175.13H391.4V172.62H391.9V179.78H392.4V175.61H392.9V176.35H393.4V178.8H393.9V179.03H394.4V174.47H394.9V169.29H395.4V167.52H395.9V175.12H396.4V181.29H396.9V180.38H397.4V180.16H397.9V177.57H398.4V179.14H398.9V178.66H399.4V170.16H399.9V169.21H400.4V177.55H400.9V179.01H401.4V179.64H401.9V174.98H402.4V173.67H402.9V170H403.4V170H403.9V178.11H404.4V180.29H404.9V178.09H405.4V177.16H405.9V179.59H406.4V177.14H406.9V173.75H407.4V179.45H407.9V177.46H408.4V179.39H408.9V179.45H409.4V179.41H409.9V177.33H410.4V177.1H410.9V177.61H411.4V178.9H411.9V178.07H412.4V171.77H412.9V170.66H413.4V178.18H413.9V172.58H414.4V175.18H414.9V178.16H415.4V177.97H415.9V178.45H416.4V179.53H416.9V175.28H417.4V173.08H417.9V173.71H418.4V178.18H418.9V178.89H419.4V178.96H419.9V169.5H420.4V169.5H420.9V178.85H421.4V179.75H421.9V179.84H422.4V178.27H422.9V176.12H423.4V176.68H423.9V176.67H424.4V180.38H424.9V174.64H425.4V173.06H425.9V178.78H426.4V178.29H426.9V174.75H427.4V174.1H427.9V180.86H428.4V179.08H428.9V180.23H429.4V179.53H429.9V177.68H430.4V177.8H430.9V177.8H431.4V179.84H431.9V179.65H432.4V178.37H432.9V168.67H433.4V168.91H433.9V177.35H434.4V176.43H434.9V176.68H435.4V176.34H435.9V179.63H436.4V179.93H436.9V179.04H437.4V172.68H437.9V173.14H438.4V171.51H438.9V178.31H439.4V178.58H439.9V178.45H440.4V172.76H440.9V172.54H441.4V177.72H441.9V178.46H442.4V180.61H442.9V177.92H443.4V177.16H443.9V177.97H444.4V177.96H444.9V177.86H445.4V173.17H445.9V172.89H446.4V176.87H446.9V177.46H447.4V178.55H447.9V176.89H448.4V177.59H448.9V175.63H449.4V176.77H449.9V177.26H450.4V180.04H450.9V177.53H451.4V177.83H451.9V176.44H452.4V178.1H452.9V178.91H453.4V178.04H453.9V180.46H454.4V177.94H454.9V178.73H455.4V179.14H455.9V179.75H456.4V179.16H456.9V179.5H457.4V180.03H457.9V178H458.4V176.86H458.9V177.79H459.4V169.41H459.9V168.6H460.4V175.6H460.9V177.54H461.4V177.02H461.9V176.72H462.4V177.79H462.9V176.56H463.4V176.95H463.9V175.27H464.4V177.15H464.9V176.47H465.4V177.36H465.9V178.55H466.4V176.81H466.9V176.4H467.4V176.79H467.9V173.21H468.4V175.52H468.9V178.38H469.4V179.12H469.9V167H470.4V167H470.9V174.34H471.4V175.21H471.9V178.12H472.4V178.24H472.9V177.55H473.4V172.2H473.9V172.77H474.4V170.39H474.9V173.04H475.4V179.58H475.9V177.56H476.4V178.74H476.9V173.9H477.4V174.3H477.9V171.29H478.4V172.11H478.9V174.19H479.4V178.65H479.9V178.96H480.4V179.71H480.9V177.85H481.4V177.59H481.9V179.68H482.4V172.08H482.9V174.86H483.4V178.08H483.9V180.1H484.4V175.63H484.9V176.54H485.4V178.59H485.9V177.99H486.4V177.23H486.9V177.24H487.4V177.23H487.9V178.89H488.4V179.66H488.9V173.08H489.4V171.27H489.9V176.51H490.4V176.96H490.9V177.09H491.4V178.57H491.9V175.78H492.4V176.4H492.9V177.74H493.4V175.94H493.9V177.66H494.4V179.25H494.9V174.34H495.4V174.1H495.9V178.54H496.4V176.3H496.9V174.01H497.4V177.27H497.9V172.09H498.4V171.98H498.9V176.15H499.4V176.72H499.9V177.48H500.4V173.36H500.9V175.97H501.4V179.08H501.9V178.53H502.4V174.62H502.9V175.07H503.4V177.01H503.9V178.08H504.4V179.33H504.9V177.42H505.4V176.53H505.9V175.31H506.4V179.41H506.9V179.06H507.4V177.73H507.9V177.73H508.4V178H508.9V178.73H509.4V178.11H509.9V176.64H510.4V176.73H510.9V176.18H511.4V178.94H511.9V178.23H512.4V179.31H512.9V175.39H513.4V175.8H513.9V170.71H514.4V169.52H514.9V175.19H515.4V177.95H515.9V177H516.4V170.5H516.9V170.5H517.4V179.03H517.9V172.15H518.4V172.7H518.9V177.79H519.4V179.75H519.9V179.29H520.4V175.83H520.9V175.39H521.4V179.14H521.9V178.74H522.4V179.33H522.9V177.54H523.4V177.08H523.9V176.66H524.4V178.3H524.9V171.03H525.4V170.49H525.9V179.88H526.4V175.43H526.9V172H527.4V172H527.9V174.53H528.4V170.49H528.9V169.05H529.4V177.47H529.9V177.9H530.4V178.88H530.9V177.27H531.4V177.35H531.9V179.09H532.4V177.73H532.9V177.82H533.4V177.69H533.9V176.77H534.4V177.56H534.9V169.45H535.4V169.68H535.9V176.83H536.4V175.08H536.9V178.15H537.4V174.59H537.9V174.36H538.4V178.62H538.9V175.11H539.4V176.48H539.9V177.43H540.4V176.66H540.9V175.94H541.4V178.76H541.9V179.8H542.4V171.1H542.9V172.32H543.4V173.78H543.9V167.77H544.4V168.1H544.9V169.48H545.4V170.57H545.9V173.69H546.4V176.01H546.9V177.71H547.4V177.72H547.9V178.23H548.4V174.08H548.9V174.53H549.4V178.76H549.9V176.66H550.4V177.2H550.9V179.31H551.4V178.23H551.9V176.77H552.4V176.41H552.9V177.97H553.4V178.31H553.9V175.05H554.4V175.82H554.9V179.64H555.4V179.16H555.9V177.5H556.4V176.02H556.9V176.13H557.4V172H557.9V172H558.4V177.21H558.9V178.93H559.4V172.6H559.9V171.84H560.4V179.16H560.9V178.24H561.4V178.07H561.9V177.68H562.4V180.18H562.9V177.23H563.4V177.28H563.9V176.25H564.4V176.64H564.9V172.87H565.4V176.32H565.9V176.51H566.4V179.38H566.9V176.62H567.4V177.49H567.9V177.93H568.4V177.87H568.9V179.11H569.4V178.43H569.9V180.1H570.4V178.09H570.9V178.03H571.4V177.27H571.9V178.4H572.4V177.36H572.9V180.17H573.4V178.66H573.9V178.37H574.4V179.47H574.9V178.94H575.4V176.89H575.9V177.9H576.4V178.51H576.9V180.03H577.4V179.34H577.9V178.24H578.4V177.96H578.9V178.82H579.4V177.67H579.9V179.72H580.4V179.22H580.9V178.39H581.4V178.86H581.9V177.69H582.4V175.17H582.9V174.88H583.4V174.85H583.9V173.94H584.4V179.85H584.9V178.07H585.4V177.71H585.9V176.97H586.4V178.49H586.9V178.41H587.4V178.43H587.9V177.62H588.4V178.57H588.9V178.54H589.4V178.43H589.9V174.23H590.4V174.54H590.9V177.79H591.4V178.7H591.9V179.72H592.4V179.95H592.9V178.44H593.4V178.87H593.9V179.72H594.4V179.67H594.9V177.74H595.4V177.52H595.9V178.15H596.4V168.8H596.9V169.29H597.4V174.88H597.9V177.54H598.4V175.38H598.9V175.87H599.4V178.69H599.9V177.86H600.4V177.09H600.9V177.76H601.4V178.83H601.9V178.03H602.4V179.5H602.9V177.47H603.4V178.19H603.9V172.46H604.4V173.66H604.9V170.8H605.4V170.8H605.9V179.87H606.4V178.63H606.9V175.38H607.4V175.56H607.9V175.99H608.4V175.42H608.9V176.22H609.4V179.31H609.9V179.16H610.4V178.74H610.9V175.32H611.4V179.2H611.9V178.03H612.4V176.74H612.9V177.25H613.4V174.78H613.9V174.23H614.4V178.44H614.9V176.79H615.4V175.58H615.9V176.55H616.4V177.98H616.9V176.98H617.4V178.6H617.9V178.03H618.4V179.53H618.9V171.57H619.4V172.08H619.9V177.6H620.4V177.21H620.9V171.56H621.4V169.16H621.9V173.15H622.4V178.35H622.9V176.72H623.4V173.91H623.9V173.42H624.4V174.2H624.9V175.81H625.4V178.87H625.9V177.33H626.4V178.03H626.9V176.36H627.4V177.47H627.9V178.4H628.4V179.65H628.9V177.16H629.4V172.78H629.9V171.71H630.4V178.72H630.9V178.6H631.4V180.42H631.9V176.78H632.4V173.82H632.9V173.86H633.4V165.2H633.9V165.2H634.4V179.19H634.9V178.89H635.4V179.08H635.9V177.26H636.4V177.36H636.9V178.52H637.4V178.38H637.9V179.18H638.4V178.31H638.9V167.4H639.4V167.4H639.9V177.56H640.4V180.14H640.9V178.61H641.4V180.27H641.9V178.69H642.4V177.82H642.9V169.43H643.4V169.66H643.9V176.95H644.4V173.58H644.9V174.02H645.4V177.18H645.9V176.02H646.4V177.71H646.9V178.19H647.4V171.47H647.9V172.73H648.4V178.35H648.9V176.45H649.4V177.55H649.9V177.66H650.4V178.94H650.9V178.61H651.4V179.16H651.9V178.48H652.4V174.12H652.9V174.35H653.4V178.43H653.9V169.3H654.4V169.3H654.9V177.72H655.4V179.93H655.9V179.07H656.4V178.84H656.9V179.62H657.4V176.35H657.9V175.8H658.4V178.75H658.9V176.08H659.4V174.59H659.9V177.81H660.4V179.22H660.9V177.61H661.4V176.96H661.9V180.28H662.4V178.58H662.9V175.76H663.4V175.08H663.9V176.18H664.4V175.66H664.9V175.48H665.4V178.17H665.9V176.42H666.4V175.71H666.9V175.56H667.4V178.24H667.9V176.17H668.4V175.78H668.9V178.53H669.4V178.65H669.9V160.2H670.4V160.2H670.9V179.57H671.4V178.95H671.9V176.69H672.4V177.15H672.9V178.29H673.4V177.77H673.9V178.18H674.4V177.91H674.9V177.71H675.4V171.69H675.9V171.13H676.4V175.41H676.9V174.82H677.4V178.01H677.9V168.64H678.4V159.4H678.9V159.4H679.4V179.26H679.9V178.16H680.4V175.9H680.9V176.27H681.4V172.71H681.9V169.48H682.4V179.32H682.9V178.13H683.4V176.18H683.9V173.66H684.4V179.47H684.9V179.43H685.4V172.68H685.9V172.36H686.4V172.69H686.9V173.42H687.4V179.45H687.9V178.85H688.4V178.31H688.9V175.22H689.4V177.39H689.9V179.68H690.4V177.81H690.9V178.42H691.4V177.2H691.9V178.23H692.4V179.91H692.9V177.1H693.4V176.92H693.9V174.21H694.4V172.8H694.9V179.6H695.4V179.81H695.9V176.51H696.4V179.98H696.9V175.19H697.4V175.03H697.9V178.64H698.4V171.5H698.9V170.71H699.4V177.52H699.9V160.2H700.4V160.2H700.9V175.79H701.4V177.08H701.9V177.4H702.4V174.51H702.9V173.88H703.4V173.22H703.9V170.86H704.4V179.04H704.9V170.52H705.4V172.34H705.9V179.06H706.4V178.39H706.9V178.69H707.4V179.16H707.9V170.19H708.4V168.72H708.9V174.04H709.4V178.09H709.9V179.2H710.4V176.7H710.9V178.7H711.4V178.07H711.9V178.44H712.4V179.35H712.9V179.58H713.4V178.7H713.9V177H714.4V174.18H714.9V174.3H715.4V178.28H715.9V178.08H716.4V179.49H716.9V176.86H717.4V177.32H717.9V178.86H718.4V180.29H718.9V179.37H719.4V178.86H719.9V180.18H720.4V179.1H720.9V177.06H721.4V180.86H721.9V178.42H722.4V179.22H722.9V176.29H723.4V174.82H723.9V178.46H724.4V178.54H724.9V178.94H725.4V179.23H725.9V179.8H726.4V179.46H726.9V179.03H727.4V176.79H727.9V178.4H728.4V176.8H728.9V172.89H729.4V174H729.9V178.26H730.4V178.01H730.9V171.11H731.4V171.05H731.9V178.67H732.4V178.68H732.9V174.74H733.4V173.83H733.9V180.54H734.4V168.26H734.9V168.57H735.4V178.81H735.9V176.59H736.4V174.31H736.9V174.78H737.4V178.92H737.9V179.3H738.4V178.49H738.9V178.48H739.4V178.14H739.9V176.46H740.4V179.54H740.9V179.51H741.4V175.02H741.9V175.86H742.4V173.31H742.9V173.6H743.4V170.26H743.9V170.59H744.4V179H744.9V176.98H745.4V177.39H745.9V179.53H746.4V177.51H746.9V179.56H747.4V177.68H747.9V177.78H748.4V176.59H748.9V175.42H749.4V174.79H749.9V173.5H750.4V178.7H750.9V175.4H751.4V175.89H751.9V170.21H752.4V171.79H752.9V179.13H753.4V177.76H753.9V177.7H754.4V170.61H754.9V171.25H755.4V178.61H755.9V177.87H756.4V177.3H756.9V179.41H757.4V178.4H757.9V178.09H758.4V177.48H758.9V176.85H759.4V179.69H759.9V178.66H760.4V170.02H760.9V173.2H761.4V175.84H761.9V175.68H762.4V178.15H762.9V178.02H763.4V175.25H763.9V173.22H764.4V177.95H764.9V180.36H765.4V176.57H765.9V174.64H766.4V178.58H766.9V177.41H767.4V178.22H767.9V177.91H768.4V176.86H768.9V177.01H769.4V169.77H769.9V170.71H770.4V176.8H770.9V178.74H771.4V179.62H771.9V175.99H772.4V176.49H772.9V177.88H773.4V177.41H773.9V177.9H774.4V177.79H774.9V174.88H775.4V175.29H775.9V173.92H776.4V175.13H776.9V176.4H777.4V175.44H777.9V174.42H778.4V177.52H778.9V176.21H779.4V177.03H779.9V178.97H780.4V179H780.9V177.08H781.4V177.83H781.9V179.31H782.4V177.45H782.9V178.15H783.4V178.93H783.9V176.72H784.4V177.56H784.9V177.07H785.4V179.5H785.9V177.45H786.4V175.67H786.9V177.48H787.4V174.65H787.9V177.65H788.4V191.94H787.9V201.51H787.4V203.58H786.9V205.22H786.4V200.95H785.9V195.57H785.4V198.79H784.9V198.37H784.4V197.15H783.9V197.13H783.4V199.91H782.9V201.18H782.4V198.03H781.9V198.39H781.4V198.16H780.9V198.93H780.4V196.3H779.9V194.73H779.4V192.31H778.9V207.2H778.4V205.15H777.9V204.44H777.4V199.7H776.9V201.33H776.4V200.45H775.9V199.01H775.4V203.39H774.9V202.77H774.4V198.68H773.9V198.55H773.4V191.66H772.9V197.16H772.4V193.68H771.9V192.43H771.4V197.46H770.9V197.48H770.4V203.26H769.9V204.72H769.4V205.65H768.9V198.84H768.4V202.88H767.9V204.25H767.4V192.42H766.9V193.79H766.4V192.03H765.9V197.5H765.4V194.14H764.9V192.2H764.4V203.96H763.9V205.75H763.4V194.87H762.9V192.7H762.4V192.75H761.9V195.2H761.4V195.45H760.9V192.61H760.4V196.08H759.9V194.92H759.4V219.3H758.9V219.3H758.4V196.99H757.9V196.24H757.4V194.51H756.9V196.61H756.4V195.42H755.9V212.56H755.4V212.99H754.9V209.91H754.4V196.14H753.9V202.77H753.4V198.5H752.9V195.99H752.4V194.12H751.9V195.84H751.4V196.03H750.9V203.3H750.4V201.42H749.9V193.41H749.4V195.42H748.9V193.3H748.4V196.31H747.9V196.36H747.4V194.48H746.9V192.1H746.4V196.71H745.9V194.48H745.4V205.35H744.9V207.75H744.4V210.17H743.9V207.53H743.4V203.82H742.9V206.89H742.4V201.66H741.9V199.79H741.4V198.13H740.9V199.11H740.4V212.94H739.9V208.76H739.4V196.48H738.9V197.37H738.4V199.05H737.9V200.05H737.4V193.7H736.9V207.43H736.4V211.82H735.9V197.6H735.4V215.93H734.9V215.15H734.4V193.91H733.9V196.88H733.4V194.16H732.9V194.24H732.4V196.24H731.9V196.22H731.4V198.9H730.9V199.78H730.4V197.85H729.9V213.79H729.4V213.29H728.9V198.43H728.4V191.9H727.9V202.09H727.4V211.58H726.9V206.66H726.4V203.83H725.9V193.29H725.4V193.61H724.9V192.55H724.4V195.1H723.9V193.98H723.4V188.21H722.9V202.94H722.4V203.06H721.9V193.53H721.4V194H720.9V198.34H720.4V197.31H719.9V195.56H719.4V192.23H718.9V195.23H718.4V192.41H717.9V206.72H717.4V207.48H716.9V204.99H716.4V199.62H715.9V212.14H715.4V216.94H714.9V205.18H714.4V206.03H713.9V192.46H713.4V196.47H712.9V217.3H712.4V217.3H711.9V198.4H711.4V209.04H710.9V211.3H710.4V195.69H709.9V194.16H709.4V190.68H708.9V194.54H708.4V195.81H707.9V195.78H707.4V201.96H706.9V203.77H706.4V196.43H705.9V211.75H705.4V215.86H704.9V213.72H704.4V205.81H703.9V196.63H703.4V199.3H702.9V199.04H702.4V212.37H701.9V213H701.4V201.15H700.9V198.23H700.4V195.1H699.9V195.82H699.4V202.18H698.9V193.67H698.4V191.15H697.9V195.05H697.4V195.09H696.9V204.07H696.4V204.52H695.9V202.82H695.4V191.67H694.9V199.53H694.4V200.14H693.9V211.08H693.4V210.35H692.9V195.38H692.4V197.95H691.9V204.25H691.4V204.71H690.9V192.68H690.4V195.33H689.9V193.81H689.4V196.6H688.9V196.71H688.4V197.65H687.9V196.42H687.4V210.21H686.9V208.26H686.4V200.21H685.9V195.06H685.4V196.11H684.9V195.26H684.4V214.5H683.9V212.94H683.4V194.42H682.9V197.87H682.4V197.76H681.9V197.89H681.4V214H680.9V214H680.4V198.74H679.9V200H679.4V193.96H678.9V192.81H678.4V194.13H677.9V202.59H677.4V210.46H676.9V206.85H676.4V202.79H675.9V195.92H675.4V195.8H674.9V207.38H674.4V204.46H673.9V196.01H673.4V203.63H672.9V200.11H672.4V198.76H671.9V192.5H671.4V195.02H670.9V200.53H670.4V207.31H669.9V207.62H669.4V194.58H668.9V194.7H668.4V191.58H667.9V204.03H667.4V205.81H666.9V193.26H666.4V205.27H665.9V207.85H665.4V196.56H664.9V195.87H664.4V200.83H663.9V202.03H663.4V202.05H662.9V197.76H662.4V210.84H661.9V208.62H661.4V195.04H660.9V200.21H660.4V200.77H659.9V200.99H659.4V213.17H658.9V214.2H658.4V198.75H657.9V200.8H657.4V199H656.9V194.19H656.4V195.23H655.9V196.4H655.4V195.06H654.9V196.06H654.4V202.67H653.9V203.68H653.4V194.94H652.9V196.62H652.4V199.44H651.9V192.17H651.4V194.49H650.9V209.33H650.4V206.79H649.9V193.83H649.4V194.26H648.9V193.98H648.4V192.73H647.9V191.46H647.4V198.08H646.9V193.4H646.4V194.5H645.9V197.6H645.4V193.63H644.9V209.37H644.4V208.39H643.9V206.11H643.4V206.77H642.9V200.51H642.4V200.1H641.9V195.63H641.4V200.85H640.9V198.52H640.4V210.16H639.9V211.14H639.4V196.41H638.9V199.7H638.4V200.28H637.9V195.05H637.4V196.45H636.9V202.66H636.4V206.46H635.9V204.67H635.4V207.86H634.9V197.19H634.4V191.86H633.9V190.92H633.4V193.9H632.9V210.52H632.4V214.75H631.9V193.6H631.4V198.98H630.9V198.62H630.4V209.2H629.9V212.17H629.4V209.5H628.9V203.73H628.4V205.96H627.9V196.82H627.4V191.69H626.9V197.79H626.4V208.06H625.9V207.28H625.4V207.86H624.9V194.66H624.4V193.38H623.9V194.19H623.4V207.17H622.9V208.24H622.4V195.32H621.9V195.11H621.4V213.98H620.9V212.14H620.4V208.44H619.9V195.58H619.4V206.57H618.9V203.48H618.4V213.58H617.9V212.07H617.4V210.35H616.9V200.28H616.4V197.12H615.9V200.71H615.4V197.31H614.9V210.75H614.4V210.37H613.9V197.34H613.4V198.56H612.9V196.89H612.4V204.67H611.9V213.6H611.4V213.6H610.9V211.53H610.4V195.16H609.9V200.17H609.4V205.4H608.9V206.93H608.4V206.07H607.9V201.46H607.4V195.8H606.9V192.62H606.4V203.87H605.9V205.75H605.4V207.53H604.9V204.67H604.4V202.72H603.9V203.11H603.4V196.91H602.9V193.23H602.4V194.84H601.9V196.86H601.4V196.45H600.9V210.11H600.4V211.04H599.9V194.37H599.4V201.77H598.9V213.12H598.4V211.14H597.9V210.3H597.4V195.83H596.9V191.46H596.4V197.08H595.9V196.03H595.4V196.72H594.9V195.8H594.4V195.96H593.9V196.2H593.4V193.98H592.9V193.21H592.4V196.9H591.9V198.65H591.4V192.1H590.9V196.2H590.4V196H589.9V194.38H589.4V195.03H588.9V196.59H588.4V189.2H587.9V221H587.4V221H586.9V192.42H586.4V193.22H585.9V197.11H585.4V196.02H584.9V193.74H584.4V203.63H583.9V207.86H583.4V191.69H582.9V208.75H582.4V207.44H581.9V193.29H581.4V194.89H580.9V192.97H580.4V216.96H579.9V216.04H579.4V197.06H578.9V197.95H578.4V193.14H577.9V194.12H577.4V206.51H576.9V208.8H576.4V199.48H575.9V202.26H575.4V201.76H574.9V202.38H574.4V205.51H573.9V195.3H573.4V193.74H572.9V196.35H572.4V204.51H571.9V201.42H571.4V203.64H570.9V195.48H570.4V195.14H569.9V194.17H569.4V193.07H568.9V200.54H568.4V197.65H567.9V200.9H567.4V201.45H566.9V194.51H566.4V197.43H565.9V197.99H565.4V198.25H564.9V198.54H564.4V202.92H563.9V199.75H563.4V193.04H562.9V194.44H562.4V197.57H561.9V202.65H561.4V202.45H560.9V202.64H560.4V201.21H559.9V194.89H559.4V195.5H558.9V190.5H558.4V195.12H557.9V207.66H557.4V202.1H556.9V194.67H556.4V194.85H555.9V202.23H555.4V203.23H554.9V195.43H554.4V195.73H553.9V194.13H553.4V202.74H552.9V200.95H552.4V199.35H551.9V215.55H551.4V217.39H550.9V194.99H550.4V197.04H549.9V216.37H549.4V216.76H548.9V191.72H548.4V192.55H547.9V203.55H547.4V203.18H546.9V203.13H546.4V193.82H545.9V195.43H545.4V197H544.9V196.45H544.4V196.9H543.9V214.53H543.4V212.41H542.9V210.91H542.4V213.58H541.9V202.01H541.4V196.47H540.9V208.49H540.4V208.31H539.9V193.94H539.4V195.19H538.9V195.44H538.4V193.97H537.9V195.77H537.4V194.3H536.9V199.36H536.4V204.54H535.9V204.07H535.4V196.45H534.9V196.74H534.4V198.15H533.9V191.68H533.4V196.84H532.9V209.74H532.4V211.32H531.9V194.89H531.4V208.32H530.9V206.66H530.4V194.29H529.9V193.56H529.4V191.3H528.9V203.34H528.4V205.49H527.9V211.96H527.4V209.8H526.9V205.99H526.4V195.23H525.9V198.8H525.4V199.86H524.9V200.08H524.4V190.65H523.9V196.49H523.4V199.82H522.9V203.98H522.4V201.42H521.9V196.52H521.4V196.65H520.9V197.94H520.4V195.23H519.9V212.28H519.4V213.38H518.9V202.83H518.4V215.5H517.9V215.5H517.4V200.72H516.9V197.02H516.4V195.47H515.9V199.41H515.4V200.11H514.9V196.66H514.4V203.48H513.9V210.02H513.4V210.63H512.9V196.75H512.4V195.58H511.9V194.68H511.4V193.15H510.9V194.46H510.4V198.97H509.9V198.14H509.4V193.58H508.9V209.3H508.4V208.11H507.9V198.12H507.4V199.43H506.9V196.66H506.4V195.48H505.9V195.22H505.4V209.09H504.9V210.8H504.4V200.93H503.9V194.11H503.4V210.16H502.9V205.35H502.4V200.77H501.9V203.66H501.4V201.1H500.9V203.32H500.4V193.01H499.9V193.15H499.4V194.1H498.9V205.42H498.4V204.74H497.9V199.81H497.4V199.24H496.9V206.06H496.4V205.91H495.9V203.59H495.4V195.05H494.9V195.59H494.4V195.1H493.9V201.33H493.4V204.35H492.9V203.5H492.4V195.04H491.9V193.96H491.4V196.13H490.9V195.28H490.4V191.89H489.9V192.18H489.4V196.2H488.9V192.86H488.4V193.42H487.9V199.82H487.4V205.02H486.9V206.39H486.4V195.83H485.9V196.85H485.4V196.34H484.9V196.55H484.4V206.42H483.9V203.79H483.4V195.15H482.9V192.98H482.4V211.41H481.9V211.66H481.4V217.5H480.9V217.5H480.4V200.29H479.9V198.24H479.4V196.83H478.9V193.67H478.4V195.27H477.9V195.52H477.4V194.34H476.9V194.23H476.4V194.4H475.9V195.34H475.4V205.53H474.9V199.87H474.4V192.66H473.9V195.62H473.4V204.18H472.9V204.83H472.4V195.36H471.9V196.54H471.4V197.21H470.9V195.59H470.4V192.22H469.9V192.63H469.4V213.77H468.9V215.55H468.4V192.65H467.9V196.83H467.4V198.05H466.9V196.48H466.4V198.89H465.9V191.7H465.4V194.06H464.9V196.02H464.4V193.38H463.9V196.59H463.4V196.66H462.9V195.27H462.4V196.78H461.9V214H461.4V214H460.9V198.94H460.4V202.98H459.9V202.19H459.4V195.59H458.9V192.04H458.4V192.12H457.9V205H457.4V203.39H456.9V194.06H456.4V195.41H455.9V196.19H455.4V190.9H454.9V205.54H454.4V203.84H453.9V199.58H453.4V200.89H452.9V212.23H452.4V208.17H451.9V210.53H451.4V211.42H450.9V207.96H450.4V215.64H449.9V214.39H449.4V199.8H448.9V192.12H448.4V193.92H447.9V215.29H447.4V215.4H446.9V197.45H446.4V205.41H445.9V207.68H445.4V197.5H444.9V196.28H444.4V192.77H443.9V195.26H443.4V208.18H442.9V209.99H442.4V193.59H441.9V194.96H441.4V197.98H440.9V198.39H440.4V192.39H439.9V196.02H439.4V198.45H438.9V192.75H438.4V193.65H437.9V203.53H437.4V202.19H436.9V207.67H436.4V209.69H435.9V201.11H435.4V195.71H434.9V211.94H434.4V212.09H433.9V204.4H433.4V207.44H432.9V194.24H432.4V197.87H431.9V192.33H431.4V196.1H430.9V208.03H430.4V208.34H429.9V195.64H429.4V203.02H428.9V203.82H428.4V192.82H427.9V193.49H427.4V196.39H426.9V195.37H426.4V193.98H425.9V195.94H425.4V195.21H424.9V192.56H424.4V193.46H423.9V189.74H423.4V198.07H422.9V201.33H422.4V200.97H421.9V196.84H421.4V195.57H420.9V197.54H420.4V194.9H419.9V195.14H419.4V194.2H418.9V195.78H418.4V191.98H417.9V198.71H417.4V197.32H416.9V196.44H416.4V207.24H415.9V209.64H415.4V193.86H414.9V191.43H414.4V215H413.9V215H413.4V197.45H412.9V190.09H412.4V200.65H411.9V201.03H411.4V193.22H410.9V192.19H410.4V196.14H409.9V207.07H409.4V202.85H408.9V196.24H408.4V194.81H407.9V194.76H407.4V190.95H406.9V194.55H406.4V189.72H405.9V193.77H405.4V196.52H404.9V194.64H404.4V195.43H403.9V201.66H403.4V202.05H402.9V196.36H402.4V205.04H401.9V203.2H401.4V203.15H400.9V193.86H400.4V205.96H399.9V205.29H399.4V201.13H398.9V194.67H398.4V195.65H397.9V197.34H397.4V196.78H396.9V194.56H396.4V195.79H395.9V193.57H395.4V191.98H394.9V199.64H394.4V191.03H393.9V210.32H393.4V208.44H392.9V211.08H392.4V211.79H391.9V200.83H391.4V204.13H390.9V209.67H390.4V210.78H389.9V197.06H389.4V200.15H388.9V202.15H388.4V200.99H387.9V195.86H387.4V198.47H386.9V198.8H386.4V199.94H385.9V194.54H385.4V212.72H384.9V215.3H384.4V196.86H383.9V200.34H383.4V201.6H382.9V200.53H382.4V197.93H381.9V202.34H381.4V190.74H380.9V194.85H380.4V199.96H379.9V207.31H379.4V208.06H378.9V195.47H378.4V191.79H377.9V192.24H377.4V195.54H376.9V197.25H376.4V194.58H375.9V194.18H375.4V194.69H374.9V206.98H374.4V205.65H373.9V199.08H373.4V199.38H372.9V195.28H372.4V195.56H371.9V200.85H371.4V197.75H370.9V193.08H370.4V198.51H369.9V198.64H369.4V197.32H368.9V202.71H368.4V194.74H367.9V201.06H367.4V205.19H366.9V199.42H366.4V200.08H365.9V192.85H365.4V193.22H364.9V195.59H364.4V198.75H363.9V196.73H363.4V198.25H362.9V195.13H362.4V194.2H361.9V194.87H361.4V197.87H360.9V198.32H360.4V192.91H359.9V194.2H359.4V191.9H358.9V219.5H358.4V219.5H357.9V195.9H357.4V209.61H356.9V206.98H356.4V192.81H355.9V193.24H355.4V210.11H354.9V209.11H354.4V194.96H353.9V192.68H353.4V195.98H352.9V196.79H352.4V194.15H351.9V194.89H351.4V209.58H350.9V213.99H350.4V215.37H349.9V202.81H349.4V208.75H348.9V197.28H348.4V191.96H347.9V192.11H347.4V195.51H346.9V194.81H346.4V194.83H345.9V195.27H345.4V196.82H344.9V197.37H344.4V216.5H343.9V216.5H343.4V206.25H342.9V194.89H342.4V194.79H341.9V200.25H341.4V202.6H340.9V201.88H340.4V194.65H339.9V194.19H339.4V200.52H338.9V196.58H338.4V195.78H337.9V192.72H337.4V193.72H336.9V201.73H336.4V203.68H335.9V200.88H335.4V211.51H334.9V211.24H334.4V195.67H333.9V194.14H333.4V199.7H332.9V196H332.4V197.78H331.9V199.86H331.4V195.8H330.9V200.15H330.4V200.96H329.9V194.51H329.4V199.94H328.9V204.59H328.4V202.2H327.9V200.48H327.4V195.62H326.9V213.58H326.4V211.69H325.9V194.85H325.4V192.39H324.9V194.49H324.4V192.9H323.9V194.34H323.4V212.04H322.9V213.85H322.4V219.72H321.9V199.59H321.4V204.95H320.9V204.25H320.4V192.07H319.9V193.73H319.4V191.05H318.9V198.17H318.4V213.73H317.9V213.16H317.4V203.26H316.9V202.77H316.4V193.01H315.9V195.46H315.4V202.06H314.9V202.7H314.4V192.82H313.9V197.81H313.4V194.31H312.9V191.47H312.4V198.29H311.9V196.14H311.4V204.77H310.9V208.12H310.4V198.11H309.9V194.26H309.4V193.42H308.9V200.84H308.4V206.58H307.9V204.7H307.4V205.58H306.9V197.96H306.4V193.76H305.9V191.94H305.4V195.63H304.9V198.89H304.4V199.88H303.9V204.76H303.4V197.36H302.9V195.42H302.4V197.13H301.9V198.77H301.4V202.14H300.9V202.04H300.4V200.07H299.9V201.74H299.4V194.57H298.9V197.64H298.4V198.2H297.9V198.75H297.4V202.58H296.9V195.59H296.4V195.24H295.9V194.36H295.4V191.71H294.9V196.67H294.4V203.91H293.9V205.69H293.4V198.37H292.9V220.3H292.4V220.3H291.9V206.66H291.4V204.51H290.9V202.72H290.4V197.2H289.9V190.47H289.4V193.8H288.9V196.35H288.4V197.85H287.9V204.14H287.4V203.16H286.9V195.7H286.4V212.82H285.9V215.97H285.4V209.1H284.9V212.97H284.4V205.09H283.9V202.47H283.4V197.55H282.9V195.51H282.4V193H281.9V195.51H281.4V194.81H280.9V195.94H280.4V193.33H279.9V203.04H279.4V202.5H278.9V191.9H278.4V193.82H277.9V194.59H277.4V195.07H276.9V197.82H276.4V193.02H275.9V196.01H275.4V192.82H274.9V190.91H274.4V199.61H273.9V197.6H273.4V209.92H272.9V206.54H272.4V193.17H271.9V194.04H271.4V210.44H270.9V213.13H270.4V204.21H269.9V213.47H269.4V215.09H268.9V200.67H268.4V203.49H267.9V196.16H267.4V193.71H266.9V195.78H266.4V202.62H265.9V214.15H265.4V212.19H264.9V196.32H264.4V193.36H263.9V196.78H263.4V209.93H262.9V211.56H262.4V194.68H261.9V193.87H261.4V198.73H260.9V196.25H260.4V193.89H259.9V208.35H259.4V206.37H258.9V192H258.4V194.96H257.9V196.74H257.4V195.36H256.9V193.87H256.4V207.15H255.9V208.34H255.4V193.57H254.9V194.22H254.4V194.46H253.9V207.65H253.4V212.22H252.9V216.29H252.4V216.61H251.9V193.53H251.4V197.22H250.9V195.01H250.4V197.22H249.9V197.92H249.4V214.47H248.9V215.92H248.4V197.27H247.9V203.18H247.4V205.53H246.9V197.67H246.4V194.1H245.9V196.66H245.4V200.52H244.9V206.67H244.4V207.15H243.9V191.77H243.4V194.32H242.9V195.01H242.4V197.53H241.9V199.45H241.4V214.5H240.9V214.5H240.4V213.44H239.9V209.71H239.4V206.23H238.9V196.59H238.4V196.17H237.9V196.38H237.4V198.52H236.9V204.32H236.4V212H235.9V212H235.4V195.5H234.9V191.09H234.4V192.79H233.9V198.3H233.4V200.65H232.9V196.06H232.4V196.82H231.9V194.29H231.4V193.37H230.9V196.21H230.4V199.54H229.9V203.75H229.4V203.21H228.9V204.3H228.4V192.73H227.9V198.21H227.4V195.34H226.9V193.61H226.4V196.85H225.9V193.89H225.4V197.72H224.9V197.67H224.4V197.02H223.9V193.73H223.4V194.36H222.9V197.36H222.4V212.46H221.9V212.05H221.4V198.78H220.9V194.62H220.4V195.1H219.9V202.4H219.4V202H218.9V195.65H218.4V194.14H217.9V199.91H217.4V216.8H216.9V213.99H216.4V207.21H215.9V194.99H215.4V198.57H214.9V197.26H214.4V200.7H213.9V198.96H213.4V196.87H212.9V198.14H212.4V192.33H211.9V195.04H211.4V212.11H210.9V210.61H210.4V194.63H209.9V207.09H209.4V204.71H208.9V198.41H208.4V192.32H207.9V202.88H207.4V203.09H206.9V196.79H206.4V198.78H205.9V215.35H205.4V212.58H204.9V194.62H204.4V193.54H203.9V194.26H203.4V194.39H202.9V193.1H202.4V192.82H201.9V203.98H201.4V202.64H200.9V195.43H200.4V199.01H199.9V195.33H199.4V213.5H198.9V213.5H198.4V198.04H197.9V202.17H197.4V199.41H196.9V200.08H196.4V195.79H195.9V213.15H195.4V213.72H194.9V202.69H194.4V198H193.9V208.01H193.4V209.97H192.9V195.97H192.4V213.97H191.9V215.6H191.4V198.47H190.9V203.75H190.4V202.59H189.9V196H189.4V205.19H188.9V205.76H188.4V193.17H187.9V197.82H187.4V195.67H186.9V200.83H186.4V203.69H185.9V202.6H185.4V203.14H184.9V196.63H184.4V194.73H183.9V193.3H183.4V195.52H182.9V194.28H182.4V195.95H181.9V195.09H181.4V193.99H180.9V216.72H180.4V216H179.9V198.59H179.4V194.78H178.9V199.53H178.4V199.94H177.9V196.54H177.4V201.2H176.9V194.55H176.4V216.65H175.9V214.41H175.4V196.26H174.9V195.09H174.4V191.7H173.9V192.17H173.4V190.84H172.9V193.49H172.4V195.8H171.9V195.29H171.4V203.07H170.9V212.71H170.4V211.2H169.9V216.5H169.4V216.5H168.9V205.92H168.4V207.42H167.9V200.89H167.4V199.68H166.9V195.71H166.4V198.84H165.9V199.71H165.4V203.82H164.9V210.23H164.4V207.6H163.9V213.04H163.4V216.8H162.9V204.03H162.4V192.82H161.9V201.9H161.4V200.22H160.9V195.57H160.4V191.41H159.9V194.03H159.4V196.22H158.9V195.92H158.4V205.17H157.9V207.08H157.4V202.99H156.9V203.52H156.4V193.1H155.9V192.08H155.4V196.61H154.9V212.12H154.4V211.26H153.9V193.39H153.4V197.65H152.9V194.86H152.4V197.74H151.9V200.1H151.4V196.84H150.9V197.47H150.4V200.92H149.9V214.77H149.4V214.03H148.9V199.48H148.4V199.04H147.9V202.27H147.4V202.04H146.9V199.88H146.4V193.94H145.9V197.83H145.4V196.72H144.9V197.73H144.4V194.12H143.9V196.03H143.4V197.9H142.9V196.76H142.4V214.7H141.9V216.25H141.4V199.48H140.9V197.33H140.4V197.76H139.9V203.66H139.4V195.41H138.9V198.43H138.4V205.19H137.9V208.45H137.4V190.84H136.9V193.32H136.4V198.28H135.9V214H135.4V212.58H134.9V201.32H134.4V200.5H133.9V215H133.4V215H132.9V196.21H132.4V191.98H131.9V197.71H131.4V213.03H130.9V214.92H130.4V198.26H129.9V204.71H129.4V203.57H128.9V195.57H128.4V197.15H127.9V194.11H127.4V195.27H126.9V198.42H126.4V206.59H125.9V206.72H125.4V198.94H124.9V199.95H124.4V200.41H123.9V200.36H123.4V200.23H122.9V200.35H122.4V202H121.9V204.79H121.4V201.15H120.9V199.09H120.4V195.32H119.9V196.74H119.4V198.17H118.9V197.67H118.4V191.42H117.9V200.35H117.4V200.41H116.9V196.53H116.4V201.68H115.9V203.25H115.4V200.01H114.9V193.25H114.4V205.51H113.9V206.46H113.4V193.95H112.9V197.73H112.4V195.61H111.9V199.12H111.4V201.5H110.9V206.06H110.4V196.9H109.9V193.07H109.4V207.97H108.9V203.9H108.4V197.51H107.9V194.58H107.4V196.23H106.9V196.48H106.4V193.32H105.9V193.23H105.4V193.75H104.9V194H104.4V195.31H103.9V197.97H103.4V195.03H102.9V193.54H102.4V195.96H101.9V194.55H101.4V213.53H100.9V214.16H100.4V191.38H99.9V196.34H99.4V212.71H98.9V210.93H98.4V202.54H97.9V204.4H97.4V201.69H96.9V196.43H96.4V197.12H95.9V194.86H95.4V193.84H94.9V198.16H94.4V198.04H93.9V196.43H93.4V193.5H92.9V189.74H92.4V199.3H91.9V200.79H91.4V201.31H90.9V204.86H90.4V212.19H89.9V211.74H89.4V194.48H88.9V201.14H88.4V201.63H87.9V194.85H87.4V208.03H86.9V210.53H86.4V205.19H85.9V198.15H85.4V197.98H84.9V198.4H84.4V198.82H83.9V201.09H83.4V201.59H82.9V203.71H82.4V198.01H81.9V202.06H81.4V191.13H80.9V194.07H80.4V194.78H79.9V197.98H79.4V196.8H78.9V208.68H78.4V206.03H77.9V199.67H77.4V195.06H76.9V196.25H76.4V200.2H75.9V197.81H75.4V195.33H74.9V194.27H74.4V193.67H73.9V201.8H73.4V202.29H72.9V197.43H72.4V192.29H71.9V210.01H71.4V207.95H70.9V203.31H70.4V195.53H69.9V201.48H69.4V199.54H68.9V192.99H68.4V201.08H67.9V211.59H67.4V209.67H66.9V200.38H66.4V194.8H65.9V192.53H65.4V214H64.9V216.49H64.4V198.15H63.9V197.65H63.4V196.46H62.9V200.14H62.4V201.73H61.9V201.15H61.4V195.41H60.9V192.33H60.4V197.05H59.9V197.63H59.4V197.68H58.9V197.79H58.4V209.57H57.9V207.52H57.4V193.34H56.9V204.69H56.4V205.33H55.9V193.77H55.4V192.81H54.9V199.42H54.4V198.14H53.9V201H53.4V200.55H52.9V203.4H52.4V200.34H51.9V201.39H51.4V203.73H50.9V207.34H50.4V199.1H49.9V201.82H49.4V196.64H48.9V193.84H48.4V197.09H47.9V197.44H47.4V198.3H46.9V192.13H46.4V192.4H45.9V194.7H45.4V197.54H44.9V194.58H44.4V194.51H43.9V195.07H43.4V208.25H42.9V209.25H42.4V193.99H41.9V195.26H41.4V195.44H40.9V202.16H40.4V205.68H39.9V192.19H39.4Z" fill="#0079ba"/>
<path d="M183.5 188.35V153.5M278.5 188.35V161.5M480.5 188.35V162.5M670.5 188.35V159.5M678.5 188.35V158.5M701.5 188.35V160.5" stroke="#0079ba" stroke-width="0.9" fill="none"/>
<path d="M39.67 139.87H788.4" stroke="#008000" stroke-width="1.0" stroke-dasharray="3.4 1.466" fill="none"/>
<path d="M39.67 233.56H788.4" stroke="#ffa500" stroke-width="1.0" stroke-dasharray="3.4 1.466" fill="none"/>
</g>
<rect x="39.4" y="135.4" width="749" height="103" fill="none" stroke="#000" stroke-width="0.5"/>
<path d="M39.4 238.4V240.5M168.59 238.4V240.5M297.79 238.4V240.5M426.98 238.4V240.5M556.17 238.4V240.5M685.37 238.4V240.5M37.3 233.6H39.4M37.3 214.14H39.4M37.3 194.68H39.4M37.3 175.22H39.4M37.3 155.76H39.4M37.3 136.3H39.4" stroke="#000" stroke-width="0.7"/>
<text x="39.4" y="248" text-anchor="middle">0</text>
<text x="168.59" y="248" text-anchor="middle">200</text>
<text x="297.79" y="248" text-anchor="middle">400</text>
<text x="426.98" y="248" text-anchor="middle">600</text>
<text x="556.17" y="248" text-anchor="middle">800</text>
<text x="685.37" y="248" text-anchor="middle">1000</text>
<text x="35" y="236.05" text-anchor="end">0</text>
<text x="35" y="216.59" text-anchor="end">1</text>
<text x="35" y="197.13" text-anchor="end">2</text>
<text x="35" y="177.67" text-anchor="end">3</text>
<text x="35" y="158.21" text-anchor="end">4</text>
<text x="35" y="138.75" text-anchor="end">5</text>
<text x="413.9" y="256.3" text-anchor="middle">Time in sec</text>
<text transform="translate(27.7 186.9) rotate(-90)" text-anchor="middle">Sound Sensor</text>
<rect x="711.8" y="138.65" width="73.7" height="37.55" rx="1.4" fill="#fff" fill-opacity="0.8" stroke="#ccc" stroke-opacity="0.8" stroke-width="0.5"/>
<path d="M714.2 143.4H727.8" stroke="#0079ba" stroke-width="0.92"/>
<path d="M714.7 152.6H727.8" stroke="#008000" stroke-width="1.0" stroke-dasharray="3.4 1.466"/>
<path d="M714.7 161.4H727.8" stroke="#ffa500" stroke-width="1.0" stroke-dasharray="3.4 1.466"/>
<circle cx="721" cy="170.4" r="2.3" fill="#f00"/>
<text x="732" y="145.85">Belt Tension Low</text>
<text x="732" y="155.05">Upper Th: 4.8</text>
<text x="732" y="163.85">Lower Th: 0.0</text>
<text x="732" y="172.85">Anomaly</text>
<g clip-path="url(#c2)">
<g fill="#f00"><circle cx="51.5" cy="269.8" r="2.3"/><circle cx="92" cy="270.6" r="2.3"/><circle cx="359.5" cy="270.6" r="2.3"/><circle cx="572.4" cy="270.8" r="2.3"/></g>
<path d="M39.4 301.21V301.21H39.9V300.48H40.4V299.55H40.9V300.8H41.4V302.63H41.9V301.84H42.4V302.01H42.9V301.74H43.4V301.77H43.9V301.53H44.4V302.01H44.9V301.88H45.4V303.49H45.9V302.52H46.4V300.05H46.9V299.14H47.4V301.49H47.9V301.71H48.4V301.3H48.9V293.09H49.4V288.46H49.9V284.05H50.4V280.43H50.9V280.47H51.4V276.86H51.9V281.49H52.4V282.86H52.9V284.33H53.4V290.6H53.9V302H54.4V298.64H54.9V299.7H55.4V302.64H55.9V302.51H56.4V298.91H56.9V297.95H57.4V302H57.9V298.85H58.4V299.04H58.9V301.38H59.4V302.6H59.9V301.84H60.4V302.56H60.9V302.62H61.4V302.02H61.9V302.58H62.4V300.54H62.9V299.47H63.4V302.61H63.9V301.89H64.4V302.04H64.9V302.53H65.4V302.04H65.9V302.47H66.4V302.45H66.9V294.13H67.4V293.67H67.9V302.18H68.4V301.91H68.9V297.93H69.4V288.47H69.9V280.83H70.4V281.65H70.9V281.1H71.4V278.38H71.9V281.35H72.4V289.28H72.9V291.53H73.4V301.29H73.9V301.76H74.4V302.77H74.9V300.1H75.4V300.21H75.9V301.7H76.4V301.05H76.9V303.67H77.4V298.18H77.9V299.32H78.4V302.61H78.9V302.56H79.4V303.53H79.9V301.58H80.4V301.03H80.9V302.43H81.4V302.53H81.9V301.9H82.4V302.12H82.9V302.08H83.4V302.22H83.9V301.6H84.4V301.64H84.9V302.24H85.4V301.32H85.9V301.96H86.4V302.36H86.9V302.9H87.4V302.64H87.9V302.41H88.4V302.55H88.9V289.76H89.4V284.42H89.9V279.04H90.4V277.04H90.9V277.39H91.4V278.22H91.9V281.08H92.4V286.65H92.9V294.96H93.4V301.67H93.9V302.14H94.4V301.47H94.9V301.8H95.4V303.23H95.9V301.97H96.4V299.03H96.9V298.4H97.4V298.4H97.9V299.13H98.4V294.82H98.9V294.96H99.4V294.4H99.9V302.53H100.4V294.63H100.9V294.5H101.4V302.85H101.9V301.86H102.4V301.95H102.9V300.13H103.4V299.89H103.9V300.97H104.4V302.16H104.9V293.29H105.4V278.05H105.9V281.91H106.4V275.23H106.9V275.54H107.4V277.83H107.9V278.4H108.4V286.46H108.9V294.76H109.4V301.45H109.9V302.26H110.4V302.91H110.9V300.37H111.4V295.55H111.9V295.13H112.4V296.77H112.9V302.27H113.4V303.01H113.9V300.1H114.4V297.35H114.9V297.65H115.4V300.63H115.9V299.89H116.4V302.71H116.9V302.41H117.4V301.88H117.9V301.91H118.4V302.3H118.9V301.41H119.4V301.57H119.9V300.67H120.4V297.55H120.9V298.09H121.4V300.9H121.9V302.19H122.4V303.21H122.9V302.72H123.4V301.21H123.9V301.99H124.4V296.84H124.9V282.51H125.4V287.78H125.9V276.98H126.4V277.62H126.9V276.99H127.4V280.84H127.9V285.24H128.4V291.39H128.9V295.61H129.4V294.55H129.9V302.71H130.4V301.89H130.9V301.51H131.4V302.18H131.9V301.52H132.4V301.55H132.9V301.49H133.4V297.4H133.9V299.26H134.4V302.54H134.9V302.26H135.4V301.98H135.9V302.27H136.4V294.46H136.9V294.23H137.4V301.1H137.9V302.22H138.4V301.7H138.9V301.91H139.4V302.82H139.9V301.53H140.4V299H140.9V300.98H141.4V302.04H141.9V301.82H142.4V302.86H142.9V302.67H143.4V301.64H143.9V301.91H144.4V297.58H144.9V288.48H145.4V276.92H145.9V278.7H146.4V279.26H146.9V275.96H147.4V287.17H147.9V284.6H148.4V294.99H148.9V294.96H149.4V295.27H149.9V294.81H150.4V300.33H150.9V299.68H151.4V300.87H151.9V301.54H152.4V303.07H152.9V300.24H153.4V300.21H153.9V301.27H154.4V302.29H154.9V301.56H155.4V298.36H155.9V297.9H156.4V302.46H156.9V302.45H157.4V302.11H157.9V301.85H158.4V303.04H158.9V297.58H159.4V296.6H159.9V300.58H160.4V301.18H160.9V294.94H161.4V294.37H161.9V297.9H162.4V298.73H162.9V302.44H163.4V302.74H163.9V302.34H164.4V294.28H164.9V281.63H165.4V273.82H165.9V279.51H166.4V273.51H166.9V277.5H167.4V284.46H167.9V284.57H168.4V287.5H168.9V302.79H169.4V300.42H169.9V300.93H170.4V302.22H170.9V301.34H171.4V295.49H171.9V294.99H172.4V302.15H172.9V303.16H173.4V302.34H173.9V302.14H174.4V301.78H174.9V300.89H175.4V301.46H175.9V302.42H176.4V302.12H176.9V301.63H177.4V301.24H177.9V301.41H178.4V301.84H178.9V299.17H179.4V298.21H179.9V294.39H180.4V295.22H180.9V300.61H181.4V302.88H181.9V301.37H182.4V297.44H182.9V296.59H183.4V296.22H183.9V286.78H184.4V275.78H184.9V276.29H185.4V278.75H185.9V275.9H186.4V287.83H186.9V280.02H187.4V293H187.9V301.22H188.4V301.99H188.9V301.9H189.4V302.55H189.9V302.45H190.4V303.04H190.9V302.02H191.4V302.78H191.9V301.21H192.4V298.96H192.9V298.48H193.4V302.59H193.9V301.47H194.4V302.64H194.9V302.41H195.4V301.02H195.9V302.12H196.4V301.98H196.9V301.83H197.4V301.64H197.9V302.11H198.4V301.64H198.9V301.89H199.4V302.44H199.9V302.18H200.4V302.16H200.9V302.01H201.4V300.15H201.9V300.79H202.4V300.09H202.9V299.67H203.4V286.49H203.9V288.37H204.4V280.35H204.9V278.19H205.4V281.42H205.9V281.36H206.4V286.64H206.9V282.87H207.4V299.78H207.9V301.75H208.4V299.14H208.9V299.06H209.4V300.44H209.9V298.06H210.4V298.74H210.9V301.79H211.4V302.55H211.9V302.1H212.4V302.53H212.9V302.64H213.4V301.2H213.9V301.52H214.4V300.09H214.9V299.77H215.4V302.39H215.9V302.3H216.4V301.91H216.9V302.1H217.4V302.49H217.9V296.68H218.4V296.67H218.9V301.21H219.4V301.84H219.9V301.52H220.4V302.6H220.9V299.44H221.4V299.96H221.9V300.02H222.4V299.25H222.9V292.73H223.4V282.02H223.9V288.62H224.4V280.39H224.9V276.6H225.4V280H225.9V276.93H226.4V290.02H226.9V295.46H227.4V295.11H227.9V293.75H228.4V301.94H228.9V302.03H229.4V302.81H229.9V301.37H230.4V302.01H230.9V302.62H231.4V301.5H231.9V302.2H232.4V302.24H232.9V302.06H233.4V303.39H233.9V302.77H234.4V302.07H234.9V302.17H235.4V302.14H235.9V294.06H236.4V294.4H236.9V301.07H237.4V301.19H237.9V299.22H238.4V299.11H238.9V302.89H239.4V301.64H239.9V301.36H240.4V303.1H240.9V302.09H241.4V301.76H241.9V301.59H242.4V301.86H242.9V289.22H243.4V279.42H243.9V280.6H244.4V280.8H244.9V280.84H245.4V285.31H245.9V285.34H246.4V297.06H246.9V301.17H247.4V301.11H247.9V302.56H248.4V302.21H248.9V302.27H249.4V302.33H249.9V302.02H250.4V300.89H250.9V299.76H251.4V298.77H251.9V302.16H252.4V302.05H252.9V301.71H253.4V302.14H253.9V299.98H254.4V295.3H254.9V295.88H255.4V301.76H255.9V302.47H256.4V302.55H256.9V302.02H257.4V302.35H257.9V302.34H258.4V301.07H258.9V286.47H259.4V280.86H259.9V286.12H260.4V276.93H260.9V277.7H261.4V279.06H261.9V273.54H262.4V287.37H262.9V286.06H263.4V301.64H263.9V301.77H264.4V301.87H264.9V302.35H265.4V302.3H265.9V302.22H266.4V301.83H266.9V302.98H267.4V302.04H267.9V302.97H268.4V301.97H268.9V301.96H269.4V302.47H269.9V301.86H270.4V301.81H270.9V302.4H271.4V302.73H271.9V303.22H272.4V303.13H272.9V301.89H273.4V302.56H273.9V300.78H274.4V298.59H274.9V302.65H275.4V299.89H275.9V298.74H276.4V301.69H276.9V302.08H277.4V301.78H277.9V302.14H278.4V301.94H278.9V295.16H279.4V282.81H279.9V278H280.4V278.09H280.9V279.22H281.4V278.91H281.9V280.75H282.4V287.47H282.9V301.34H283.4V294.21H283.9V294.3H284.4V300.06H284.9V299.47H285.4V295.5H285.9V295.98H286.4V302.03H286.9V302.44H287.4V302.36H287.9V301.96H288.4V302.84H288.9V300.48H289.4V299.97H289.9V301.99H290.4V302.14H290.9V302.79H291.4V302.46H291.9V302.3H292.4V302.4H292.9V299.65H293.4V300.26H293.9V302.01H294.4V295.49H294.9V295.07H295.4V302.24H295.9V302.65H296.4V302.65H296.9V302.07H297.4V302.55H297.9V301.1H298.4V290.25H298.9V287.83H299.4V286.52H299.9V280.08H300.4V278.46H300.9V277.22H301.4V280.15H301.9V284.31H302.4V291.01H302.9V301.21H303.4V301.32H303.9V302.43H304.4V298.26H304.9V297.75H305.4V296.45H305.9V297.17H306.4V302.45H306.9V300.04H307.4V295.07H307.9V294.11H308.4V302.31H308.9V301.66H309.4V302.07H309.9V294.87H310.4V294.4H310.9V299.53H311.4V301.37H311.9V302.73H312.4V301.76H312.9V302.77H313.4V302.45H313.9V301.51H314.4V300.69H314.9V301.84H315.4V301.5H315.9V301.81H316.4V300.51H316.9V300.51H317.4V302.9H317.9V302.12H318.4V300.82H318.9V283.19H319.4V278.39H319.9V275.31H320.4V280.31H320.9V275.25H321.4V285.47H321.9V283.35H322.4V293.19H322.9V302.57H323.4V303.05H323.9V301.58H324.4V302.5H324.9V301.46H325.4V302.43H325.9V303.16H326.4V302.88H326.9V300.89H327.4V302.64H327.9V301.51H328.4V301.75H328.9V301.7H329.4V302H329.9V302.47H330.4V299.38H330.9V299.55H331.4V301.92H331.9V301.23H332.4V301.67H332.9V302.18H333.4V302.03H333.9V295.59H334.4V295.74H334.9V301.82H335.4V302.19H335.9V303.34H336.4V302.77H336.9V303.46H337.4V301.7H337.9V295.97H338.4V286.59H338.9V286.62H339.4V275.83H339.9V275.84H340.4V276.25H340.9V281.52H341.4V284.12H341.9V289.26H342.4V302.44H342.9V302.25H343.4V299.04H343.9V298.78H344.4V302.16H344.9V297.49H345.4V297.52H345.9V301.93H346.4V295.09H346.9V295.74H347.4V302.36H347.9V295.12H348.4V295.08H348.9V302.09H349.4V302.61H349.9V302.19H350.4V301.85H350.9V302.77H351.4V302.17H351.9V303.46H352.4V299.41H352.9V299.65H353.4V302.61H353.9V301.62H354.4V301.27H354.9V302.58H355.4V301.64H355.9V302.72H356.4V302.45H356.9V301.97H357.4V297.98H357.9V280.45H358.4V277.59H358.9V277.05H359.4V280.69H359.9V276.24H360.4V279.62H360.9V289.03H361.4V293.35H361.9V301.36H362.4V302.33H362.9V295.02H363.4V295.11H363.9V301.66H364.4V301.45H364.9V301.99H365.4V302.09H365.9V294.55H366.4V295.05H366.9V295.34H367.4V301.88H367.9V302.56H368.4V302.33H368.9V302.44H369.4V302.76H369.9V296.95H370.4V296.13H370.9V299.89H371.4V300.18H371.9V302.86H372.4V302.24H372.9V302.23H373.4V302.69H373.9V301.58H374.4V301.47H374.9V302.01H375.4V301.58H375.9V301.63H376.4V299.15H376.9V300.19H377.4V299.93H377.9V286.1H378.4V288.13H378.9V279.62H379.4V277.68H379.9V279.56H380.4V280.94H380.9V285.25H381.4V288.89H381.9V303.14H382.4V302.67H382.9V303.62H383.4V301.99H383.9V302.18H384.4V299.24H384.9V299.59H385.4V294.82H385.9V294.59H386.4V301.83H386.9V299.5H387.4V299.83H387.9V302.68H388.4V301.54H388.9V300.15H389.4V300.7H389.9V301.97H390.4V302.59H390.9V301.56H391.4V296.08H391.9V296.49H392.4V302.24H392.9V302.86H393.4V302.06H393.9V302.3H394.4V301.77H394.9V301.47H395.4V297.33H395.9V298.75H396.4V300.87H396.9V287.34H397.4V285.52H397.9V274.67H398.4V275.43H398.9V275.41H399.4V274.29H399.9V286.06H400.4V283.41H400.9V297.7H401.4V300.44H401.9V300.28H402.4V300.34H402.9V301.63H403.4V297.13H403.9V298.45H404.4V298.81H404.9V296.39H405.4V295.21H405.9V294.51H406.4V302.15H406.9V302.39H407.4V300.13H407.9V298.54H408.4V297.54H408.9V302.43H409.4V301.5H409.9V300.51H410.4V301.81H410.9V301.94H411.4V300.99H411.9V301.73H412.4V302.42H412.9V302.88H413.4V294.75H413.9V294.14H414.4V302.59H414.9V302.4H415.4V302.72H415.9V297.47H416.4V280.65H416.9V277.52H417.4V275.08H417.9V276.53H418.4V275.44H418.9V278.11H419.4V279.59H419.9V281.47H420.4V297.39H420.9V301.73H421.4V302.38H421.9V302.12H422.4V302.41H422.9V301.96H423.4V300.09H423.9V299.15H424.4V301.73H424.9V302.79H425.4V301.78H425.9V302.07H426.4V302.64H426.9V301.8H427.4V300.75H427.9V299.96H428.4V302.44H428.9V301.54H429.4V302.53H429.9V301.37H430.4V295.22H430.9V295.41H431.4V302.67H431.9V301.7H432.4V302.21H432.9V301.74H433.4V302.48H433.9V299.75H434.4V300.22H434.9V301.98H435.4V302.49H435.9V301.12H436.4V298.62H436.9V280.92H437.4V281.24H437.9V277.3H438.4V277.48H438.9V277.34H439.4V289.51H439.9V288.56H440.4V291.38H440.9V300.3H441.4V302.91H441.9V296.76H442.4V296.9H442.9V298.81H443.4V297.55H443.9V302.48H444.4V301.91H444.9V302.18H445.4V302.27H445.9V301.81H446.4V301.89H446.9V302.4H447.4V298.49H447.9V299.83H448.4V301.72H448.9V301.58H449.4V302.18H449.9V302.06H450.4V301.42H450.9V302.37H451.4V301.28H451.9V301.83H452.4V302.46H452.9V300.97H453.4V301.95H453.9V298.7H454.4V298.58H454.9V302.25H455.4V302.87H455.9V289.42H456.4V286.03H456.9V286.94H457.4V281.26H457.9V279.05H458.4V277.79H458.9V278.3H459.4V281.01H459.9V293.19H460.4V300.21H460.9V300.93H461.4V302.42H461.9V301.43H462.4V302.63H462.9V301.61H463.4V302.56H463.9V299.34H464.4V300.05H464.9V302.62H465.4V301.6H465.9V303.05H466.4V299.86H466.9V299.71H467.4V299.54H467.9V301.39H468.4V302.31H468.9V302.54H469.4V301.67H469.9V302.1H470.4V302.13H470.9V301.82H471.4V302.09H471.9V302.15H472.4V302.17H472.9V301.84H473.4V301.75H473.9V302.33H474.4V302.02H474.9V302.77H475.4V299.56H475.9V289.53H476.4V278.53H476.9V277.76H477.4V278.41H477.9V278.96H478.4V289.46H478.9V285.34H479.4V297.67H479.9V295.32H480.4V294.73H480.9V303.27H481.4V302.58H481.9V300.23H482.4V295.13H482.9V294.61H483.4V300.26H483.9V300.19H484.4V301.75H484.9V299.13H485.4V298.98H485.9V297.9H486.4V298.2H486.9V302.85H487.4V301.16H487.9V301.78H488.4V301.83H488.9V302.52H489.4V302.08H489.9V301.52H490.4V301.45H490.9V301.59H491.4V303.56H491.9V301.89H492.4V302.43H492.9V302.57H493.4V300.2H493.9V299.45H494.4V301.3H494.9V298.17H495.4V292.3H495.9V287.75H496.4V288.25H496.9V278.94H497.4V280.86H497.9V279.5H498.4V280.31H498.9V289.98H499.4V281.28H499.9V291.82H500.4V301.58H500.9V299.61H501.4V299.68H501.9V302.67H502.4V302.36H502.9V302.09H503.4V294.52H503.9V294.81H504.4V296.58H504.9V296.23H505.4V301.59H505.9V297.93H506.4V298.26H506.9V302.74H507.4V302.59H507.9V302.67H508.4V301.41H508.9V302.1H509.4V302.1H509.9V302.71H510.4V300.64H510.9V300.18H511.4V302.09H511.9V302.03H512.4V301.25H512.9V301.56H513.4V301.75H513.9V300.37H514.4V299.35H514.9V299.91H515.4V282.21H515.9V287.31H516.4V279.21H516.9V280.5H517.4V275.23H517.9V275H518.4V285.82H518.9V295.63H519.4V294.03H519.9V293.98H520.4V297.58H520.9V298.74H521.4V301.32H521.9V302.01H522.4V298.13H522.9V297.74H523.4V297.08H523.9V302.06H524.4V302.09H524.9V302.25H525.4V302.47H525.9V302.39H526.4V302.73H526.9V302.27H527.4V302.19H527.9V301.76H528.4V302.69H528.9V302.97H529.4V301.72H529.9V302.41H530.4V302.22H530.9V301.25H531.4V297.23H531.9V286.68H532.4V281.36H532.9V277.58H533.4V281.78H533.9V277.04H534.4V284.92H534.9V285.94H535.4V296H535.9V302.04H536.4V301.73H536.9V302.3H537.4V302.83H537.9V298.26H538.4V297.83H538.9V302.32H539.4V302.91H539.9V301.96H540.4V301.5H540.9V301.48H541.4V297.8H541.9V296.59H542.4V302.17H542.9V302.46H543.4V301.55H543.9V302.26H544.4V300.98H544.9V300.95H545.4V300.39H545.9V301.17H546.4V302.04H546.9V302.31H547.4V299.91H547.9V300.11H548.4V302.08H548.9V296.96H549.4V298.27H549.9V299.44H550.4V294.52H550.9V290.97H551.4V286.52H551.9V284.46H552.4V278.21H552.9V277.21H553.4V278.6H553.9V275.58H554.4V285.99H554.9V283H555.4V294.71H555.9V297.89H556.4V300.98H556.9V301.4H557.4V301.91H557.9V301.88H558.4V302.77H558.9V303.34H559.4V301.43H559.9V302.04H560.4V302.2H560.9V302.53H561.4V299.74H561.9V300.14H562.4V302.26H562.9V302.03H563.4V301.91H563.9V297.23H564.4V298.16H564.9V302.84H565.4V302.05H565.9V302.99H566.4V302.37H566.9V302.3H567.4V294.9H567.9V294.11H568.4V296.74H568.9V302.35H569.4V302.36H569.9V287.31H570.4V278.66H570.9V285.42H571.4V276.2H571.9V275.79H572.4V274.18H572.9V277.29H573.4V281.55H573.9V277.98H574.4V300.14H574.9V302.4H575.4V302.2H575.9V302.08H576.4V298.16H576.9V297.89H577.4V302.42H577.9V302.1H578.4V300.21H578.9V299.3H579.4V301.59H579.9V302.27H580.4V302H580.9V302.64H581.4V302.15H581.9V302.23H582.4V301.22H582.9V302.41H583.4V301.87H583.9V301.35H584.4V302.03H584.9V302.04H585.4V298.77H585.9V298.05H586.4V300.62H586.9V301.37H587.4V302.67H587.9V301.66H588.4V302.24H588.9V301.88H589.4V301.51H589.9V301.69H590.4V301.91H590.9V288.4H591.4V280.83H591.9V279.22H592.4V276.78H592.9V274.66H593.4V279.76H593.9V282.96H594.4V282.64H594.9V288.01H595.4V300.82H595.9V297.15H596.4V297.4H596.9V301.83H597.4V302.32H597.9V302.76H598.4V301.19H598.9V302.1H599.4V302.62H599.9V300.82H600.4V295.47H600.9V295.28H601.4V301.52H601.9V300.53H602.4V299.45H602.9V298.33H603.4V298.38H603.9V301.78H604.4V301.13H604.9V300.38H605.4V303.72H605.9V302.11H606.4V302.41H606.9V301.8H607.4V302.01H607.9V302.4H608.4V302.51H608.9V303.03H609.4V301.68H609.9V293.5H610.4V278.84H610.9V279.68H611.4V276.85H611.9V276.71H612.4V276.72H612.9V278.82H613.4V284.54H613.9V287.79H614.4V302.04H614.9V302.3H615.4V300.25H615.9V300.09H616.4V302.36H616.9V299.76H617.4V298.92H617.9V296.62H618.4V296.57H618.9V301.7H619.4V302.53H619.9V300.41H620.4V300.65H620.9V301.49H621.4V301.4H621.9V302.7H622.4V302.58H622.9V297.01H623.4V297.21H623.9V302H624.4V302.07H624.9V303.76H625.4V302.21H625.9V301.9H626.4V301.77H626.9V302.4H627.4V301.65H627.9V297.52H628.4V297.99H628.9V296.26H629.4V292.29H629.9V285.12H630.4V286.44H630.9V275.53H631.4V278.74H631.9V278.99H632.4V276.94H632.9V286.47H633.4V299.35H633.9V301.87H634.4V301.3H634.9V301.35H635.4V295.67H635.9V295.29H636.4V302.04H636.9V302.27H637.4V301.83H637.9V302.05H638.4V301.28H638.9V302.9H639.4V296.41H639.9V295.58H640.4V297.35H640.9V302.64H641.4V301.93H641.9V301.89H642.4V302.31H642.9V302.38H643.4V301.73H643.9V299.97H644.4V299.78H644.9V302.15H645.4V302.22H645.9V302.23H646.4V299.73H646.9V299.5H647.4V302.75H647.9V301.75H648.4V301.79H648.9V302.02H649.4V301.69H649.9V285.48H650.4V278.16H650.9V277.74H651.4V281.67H651.9V281.39H652.4V288.54H652.9V289.01H653.4V300.13H653.9V301.62H654.4V303.25H654.9V295.07H655.4V294.19H655.9V299.27H656.4V302H656.9V301.69H657.4V302.42H657.9V299.68H658.4V299.68H658.9V302.25H659.4V302.09H659.9V302.51H660.4V302.54H660.9V298.96H661.4V296.06H661.9V296.72H662.4V301.76H662.9V302.15H663.4V302.48H663.9V303.2H664.4V302.18H664.9V295.28H665.4V295.75H665.9V302.46H666.4V302.57H666.9V302.22H667.4V300.73H667.9V302.7H668.4V301.91H668.9V293.79H669.4V281.19H669.9V287.27H670.4V279.27H670.9V274.78H671.4V277.42H671.9V277.04H672.4V280.85H672.9V297.76H673.4V302.29H673.9V301.95H674.4V300.62H674.9V300.85H675.4V299.84H675.9V299.68H676.4V301.4H676.9V303.1H677.4V301.91H677.9V295.43H678.4V294.93H678.9V301.95H679.4V301.83H679.9V302.4H680.4V299.7H680.9V298.99H681.4V302.78H681.9V302.93H682.4V302.53H682.9V299.98H683.4V299.53H683.9V300.37H684.4V301.84H684.9V302.51H685.4V302.27H685.9V302.15H686.4V302.26H686.9V302.01H687.4V302.23H687.9V298.05H688.4V298.32H688.9V297.91H689.4V287.79H689.9V279.66H690.4V277.35H690.9V280.89H691.4V280.61H691.9V282.25H692.4V284.96H692.9V294.4H693.4V297.83H693.9V299H694.4V302.72H694.9V301.51H695.4V302.53H695.9V302.38H696.4V301.94H696.9V303.44H697.4V302.78H697.9V303.14H698.4V297.17H698.9V297.02H699.4V297.22H699.9V302.07H700.4V302.37H700.9V302.7H701.4V302.26H701.9V301.68H702.4V302.08H702.9V302.62H703.4V301.88H703.9V297.12H704.4V295.62H704.9V302.54H705.4V301.8H705.9V301.99H706.4V302.14H706.9V302.14H707.4V301.06H707.9V303.11H708.4V297.21H708.9V286.2H709.4V284.5H709.9V279.89H710.4V280.6H710.9V280.93H711.4V278.39H711.9V284.24H712.4V288.32H712.9V298.5H713.4V294.62H713.9V294.81H714.4V302.06H714.9V301.88H715.4V302.14H715.9V301.71H716.4V302.27H716.9V302.19H717.4V302.31H717.9V297.99H718.4V296.85H718.9V301.84H719.4V302.2H719.9V301.5H720.4V301.39H720.9V302.56H721.4V302.56H721.9V302.01H722.4V301.36H722.9V302.28H723.4V302.66H723.9V301.62H724.4V302.23H724.9V302.02H725.4V300.34H725.9V300.61H726.4V302.66H726.9V301.77H727.4V302.58H727.9V301.71H728.4V299.66H728.9V287.32H729.4V280.95H729.9V279.51H730.4V278.72H730.9V277.44H731.4V285.49H731.9V279.1H732.4V294.28H732.9V302.42H733.4V300.38H733.9V301.36H734.4V301.44H734.9V302.21H735.4V302.72H735.9V302.81H736.4V302.51H736.9V300.1H737.4V299.86H737.9V301.45H738.4V302.37H738.9V302.28H739.4V302.06H739.9V302.69H740.4V298.33H740.9V295.7H741.4V294.98H741.9V302.41H742.4V301.88H742.9V300.77H743.4V299.85H743.9V303.18H744.4V301.79H744.9V302.14H745.4V291.56H745.9V288.12H746.4V281.51H746.9V277.05H747.4V278.13H747.9V278.46H748.4V278.51H748.9V288.73H749.4V298.18H749.9V301.71H750.4V302.88H750.9V302.2H751.4V301.94H751.9V302.09H752.4V302.13H752.9V301.78H753.4V302.16H753.9V302.3H754.4V302.22H754.9V302.81H755.4V300.31H755.9V295.93H756.4V295.83H756.9V302.36H757.4V299.91H757.9V300.98H758.4V295.13H758.9V294.55H759.4V303.04H759.9V302.09H760.4V301.43H760.9V302.17H761.4V300.88H761.9V302.48H762.4V302.46H762.9V299.83H763.4V299.59H763.9V299.93H764.4V289.19H764.9V281.27H765.4V282.14H765.9V280.08H766.4V277.42H766.9V278.11H767.4V289.82H767.9V294.72H768.4V296.14H768.9V296.33H769.4V299.08H769.9V302.11H770.4V302.02H770.9V301.76H771.4V301.59H771.9V302.9H772.4V301.76H772.9V301.55H773.4V300.13H773.9V300.35H774.4V301.95H774.9V303.09H775.4V301.97H775.9V301.99H776.4V298.4H776.9V297.52H777.4V302.4H777.9V302.4H778.4V302.13H778.9V302.69H779.4V302.39H779.9V302.2H780.4V299H780.9V298.97H781.4V301.48H781.9V294.41H782.4V294.92H782.9V301.74H783.4V302.05H783.9V293.71H784.4V286.27H784.9V276.16H785.4V277.92H785.9V280.34H786.4V276.31H786.9V287.93H787.4V286.15H787.9V295.42H788.4V338.99H787.9V347.93H787.4V345.06H786.9V353.49H786.4V355.9H785.9V357.03H785.4V352.46H784.9V343.26H784.4V331.46H783.9V328.41H783.4V328.64H782.9V329.36H782.4V329.37H781.9V328.63H781.4V327.78H780.9V327.93H780.4V333.56H779.9V332.66H779.4V335.75H778.9V335.48H778.4V329.1H777.9V328.31H777.4V329.22H776.9V330.78H776.4V330.59H775.9V328.45H775.4V328.56H774.9V328.22H774.4V328H773.9V328.54H773.4V328.26H772.9V331.63H772.4V331.96H771.9V330.75H771.4V329.33H770.9V327.78H770.4V328.44H769.9V330.18H769.4V330.14H768.9V333.96H768.4V333.63H767.9V347.21H767.4V355.65H766.9V352.44H766.4V356.15H765.9V351.18H765.4V344.39H764.9V347.57H764.4V329.96H763.9V328.16H763.4V336.11H762.9V336.05H762.4V332.1H761.9V328.5H761.4V328.37H760.9V331.15H760.4V330.84H759.9V330.83H759.4V328.66H758.9V327.29H758.4V328.28H757.9V328.14H757.4V328.13H756.9V328.27H756.4V328.13H755.9V328.32H755.4V328.12H754.9V328.75H754.4V329.42H753.9V328.52H753.4V329.03H752.9V327.78H752.4V328.13H751.9V328.9H751.4V329.86H750.9V328.52H750.4V328.53H749.9V336.92H749.4V351.67H748.9V352.15H748.4V353.24H747.9V355.04H747.4V356.42H746.9V345.05H746.4V343.59H745.9V336.37H745.4V328.22H744.9V331.95H744.4V332.69H743.9V329.54H743.4V328.95H742.9V328.83H742.4V329.48H741.9V329.27H741.4V329.14H740.9V328.57H740.4V329.15H739.9V328.9H739.4V328.18H738.9V328.56H738.4V329.11H737.9V328.05H737.4V330.48H736.9V331.01H736.4V327.82H735.9V333.21H735.4V333.22H734.9V332.55H734.4V332.59H733.9V336.28H733.4V335.91H732.9V338.19H732.4V341.84H731.9V348.26H731.4V351.9H730.9V352.77H730.4V352.35H729.9V352.3H729.4V348.06H728.9V332.43H728.4V332.3H727.9V332.58H727.4V331.69H726.9V329.23H726.4V328.96H725.9V328.78H725.4V328.26H724.9V328.77H724.4V335.53H723.9V334.72H723.4V330.18H722.9V328.6H722.4V328.5H721.9V328.7H721.4V328.96H720.9V329.23H720.4V327.67H719.9V328.93H719.4V328.21H718.9V328.39H718.4V328.25H717.9V327.62H717.4V331.43H716.9V332.37H716.4V329.03H715.9V329.89H715.4V334.63H714.9V334.43H714.4V335.16H713.9V334.75H713.4V329.13H712.9V339.05H712.4V347.01H711.9V357.16H711.4V352.4H710.9V351.33H710.4V354.66H709.9V352.36H709.4V351.78H708.9V334.21H708.4V331.43H707.9V335.48H707.4V337.01H706.9V328.96H706.4V335.48H705.9V334.79H705.4V328.75H704.9V328.98H704.4V328.51H703.9V329.44H703.4V327.77H702.9V329.03H702.4V328.51H701.9V328.87H701.4V328.75H700.9V329.79H700.4V330.46H699.9V328.36H699.4V328.65H698.9V327.92H698.4V328.5H697.9V329.3H697.4V329.7H696.9V328.02H696.4V328.91H695.9V329.02H695.4V335.5H694.9V335.59H694.4V328.34H693.9V328.83H693.4V339.78H692.9V351.06H692.4V348.22H691.9V357.79H691.4V358.04H690.9V355.16H690.4V352.48H689.9V346.84H689.4V341.75H688.9V327.74H688.4V328.02H687.9V328.13H687.4V328.51H686.9V328.83H686.4V328.95H685.9V329.45H685.4V333.32H684.9V334.62H684.4V333.36H683.9V329.65H683.4V328H682.9V328.17H682.4V328.1H681.9V331.38H681.4V332.46H680.9V328.1H680.4V329.53H679.9V328.83H679.4V328.52H678.9V328.68H678.4V328H677.9V328.67H677.4V332.11H676.9V332.78H676.4V333.3H675.9V331.71H675.4V332.12H674.9V331.69H674.4V329.97H673.9V328.39H673.4V336.02H672.9V352.38H672.4V355.52H671.9V355.66H671.4V353.01H670.9V357.12H670.4V351.6H669.9V348.13H669.4V339.91H668.9V328.31H668.4V328.31H667.9V328.81H667.4V328.19H666.9V329.71H666.4V328.81H665.9V328.32H665.4V328.38H664.9V328.48H664.4V328.53H663.9V327.99H663.4V335H662.9V335.02H662.4V328.68H661.9V329.39H661.4V328.23H660.9V328.3H660.4V328.54H659.9V328.89H659.4V329H658.9V328.72H658.4V327.55H657.9V331.71H657.4V330.91H656.9V328.56H656.4V327.59H655.9V329.28H655.4V329.73H654.9V328.34H654.4V328.1H653.9V344.89H653.4V349.03H652.9V349.05H652.4V351.93H651.9V353.89H651.4V356.31H650.9V357.49H650.4V348.65H649.9V332.49H649.4V328.93H648.9V328.6H648.4V330.98H647.9V331.19H647.4V329.25H646.9V328.78H646.4V328.97H645.9V327.82H645.4V328.35H644.9V328.74H644.4V329.05H643.9V328.78H643.4V329.27H642.9V328.6H642.4V328.5H641.9V328.63H641.4V330.75H640.9V331.3H640.4V328.76H639.9V327.95H639.4V328.88H638.9V328.77H638.4V333.35H637.9V332.86H637.4V329.08H636.9V328.44H636.4V328.15H635.9V328.45H635.4V328.64H634.9V328.97H634.4V330.92H633.9V338.04H633.4V346.41H632.9V350.07H632.4V352.13H631.9V355.58H631.4V352.52H630.9V341.8H630.4V342.37H629.9V335.68H629.4V329.49H628.9V328.76H628.4V328.17H627.9V328.52H627.4V328.8H626.9V335.37H626.4V334.81H625.9V328.36H625.4V328.63H624.9V330.15H624.4V336.4H623.9V336.03H623.4V333.65H622.9V333.32H622.4V332.69H621.9V330.73H621.4V330.04H620.9V329.23H620.4V328.67H619.9V328.09H619.4V327.69H618.9V329.37H618.4V329.24H617.9V328.22H617.4V328.49H616.9V329.57H616.4V328.58H615.9V333.32H615.4V331.93H614.9V331.13H614.4V337.65H613.9V345.92H613.4V357.84H612.9V357.3H612.4V355.05H611.9V353.23H611.4V349.1H610.9V351.35H610.4V333.16H609.9V331.13H609.4V328.16H608.9V335.47H608.4V334.71H607.9V329.11H607.4V330.59H606.9V330.64H606.4V330.48H605.9V328.98H605.4V332.32H604.9V333.67H604.4V329.07H603.9V329.04H603.4V330.23H602.9V330.99H602.4V330.54H601.9V328.55H601.4V328.84H600.9V327.89H600.4V328.33H599.9V333.7H599.4V334.19H598.9V328.61H598.4V328.23H597.9V328.79H597.4V328.96H596.9V335.53H596.4V336.02H595.9V332.21H595.4V329.72H594.9V342.58H594.4V347.93H593.9V353.18H593.4V349.45H592.9V347.83H592.4V349.54H591.9V348.94H591.4V331.03H590.9V329.1H590.4V329.56H589.9V329.73H589.4V331.78H588.9V330.43H588.4V331.42H587.9V330.55H587.4V330H586.9V329.91H586.4V328.58H585.9V329.15H585.4V329.05H584.9V328.25H584.4V327.13H583.9V327.7H583.4V330.31H582.9V331.82H582.4V328.75H581.9V329.46H581.4V330.52H580.9V331.03H580.4V328.22H579.9V328.89H579.4V328.97H578.9V328.14H578.4V332.19H577.9V331.48H577.4V335.3H576.9V336.21H576.4V328.97H575.9V332.48H575.4V331.43H574.9V341.92H574.4V349.36H573.9V347.61H573.4V355.54H572.9V357.3H572.4V357.36H571.9V357.95H571.4V351.59H570.9V354.23H570.4V340.17H569.9V328.19H569.4V328.72H568.9V328.43H568.4V328.13H567.9V336.36H567.4V335.49H566.9V328.39H566.4V328.88H565.9V328.86H565.4V328.11H564.9V329.66H564.4V328.92H563.9V331.81H563.4V330.64H562.9V335.12H562.4V334.32H561.9V332.23H561.4V329.97H560.9V327.98H560.4V328.71H559.9V328.26H559.4V329.21H558.9V327.74H558.4V328.79H557.9V328.44H557.4V328.82H556.9V328.83H556.4V328.81H555.9V340.63H555.4V341.76H554.9V342.06H554.4V353.6H553.9V353.07H553.4V354.45H552.9V353.85H552.4V341.28H551.9V348.92H551.4V334.42H550.9V331.38H550.4V332.42H549.9V329.76H549.4V328.68H548.9V329.41H548.4V329.1H547.9V328.72H547.4V327.76H546.9V327.96H546.4V330.74H545.9V331.69H545.4V332.45H544.9V328.64H544.4V327.7H543.9V334.73H543.4V336.52H542.9V336.67H542.4V334.2H541.9V327.5H541.4V328.39H540.9V328.06H540.4V330.58H539.9V329.36H539.4V328.49H538.9V328.09H538.4V334.63H537.9V334.95H537.4V329.3H536.9V329.56H536.4V328.25H535.9V335.07H535.4V352.66H534.9V352.47H534.4V355.89H533.9V355.72H533.4V355.38H532.9V350.83H532.4V350.21H531.9V333.88H531.4V328.48H530.9V330.76H530.4V329.71H529.9V328.2H529.4V329.93H528.9V330.37H528.4V330.91H527.9V332.23H527.4V328.41H526.9V332.01H526.4V330.79H525.9V330.06H525.4V330.3H524.9V329.81H524.4V331.99H523.9V335.67H523.4V336.24H522.9V335.29H522.4V336.04H521.9V332.21H521.4V328.54H520.9V329.09H520.4V331.21H519.9V331.24H519.4V330.1H518.9V343.91H518.4V352.15H517.9V352.54H517.4V350.75H516.9V355.65H516.4V344.12H515.9V343.31H515.4V337.51H514.9V327.78H514.4V328.94H513.9V333.19H513.4V333.38H512.9V330.21H512.4V329.81H511.9V330.77H511.4V330.21H510.9V328.16H510.4V327.88H509.9V327.85H509.4V327.51H508.9V328.9H508.4V329.02H507.9V329.42H507.4V330.11H506.9V329.15H506.4V329.47H505.9V328.4H505.4V329.18H504.9V328.41H504.4V330.92H503.9V333.6H503.4V334.07H502.9V331.48H502.4V331.52H501.9V328.34H501.4V327.75H500.9V329.82H500.4V338.96H499.9V348.48H499.4V351.23H498.9V353.06H498.4V355.88H497.9V354.87H497.4V350.55H496.9V352.56H496.4V347.78H495.9V330.04H495.4V333.68H494.9V332.82H494.4V329.68H493.9V329.15H493.4V328.07H492.9V328.29H492.4V327.95H491.9V328.62H491.4V328.11H490.9V328.83H490.4V329.86H489.9V328.52H489.4V328.37H488.9V330.57H488.4V330.85H487.9V328.52H487.4V328.1H486.9V328.07H486.4V328.05H485.9V334.92H485.4V335.56H484.9V328.39H484.4V328.18H483.9V328.87H483.4V327.86H482.9V328.35H482.4V327.95H481.9V332.64H481.4V331.05H480.9V330.78H480.4V328.67H479.9V335.48H479.4V346.3H478.9V340.53H478.4V347.63H477.9V348.79H477.4V349.31H476.9V348.76H476.4V340.26H475.9V340.39H475.4V327.93H474.9V328.95H474.4V329.62H473.9V331.93H473.4V330.95H472.9V329.02H472.4V333.52H471.9V332.98H471.4V329.19H470.9V329.14H470.4V328.92H469.9V328.82H469.4V328.14H468.9V328.78H468.4V329.56H467.9V333.56H467.4V334.12H466.9V329.06H466.4V329.06H465.9V329.57H465.4V334.71H464.9V336.72H464.4V329.09H463.9V328.37H463.4V328.38H462.9V328.32H462.4V328.94H461.9V328.58H461.4V328.35H460.9V329.05H460.4V336.54H459.9V346.14H459.4V355.79H458.9V353.8H458.4V355.18H457.9V352.42H457.4V345.02H456.9V348.71H456.4V336.22H455.9V335.28H455.4V335.88H454.9V333.7H454.4V333.85H453.9V330H453.4V329.97H452.9V329.5H452.4V328.65H451.9V328.74H451.4V328.62H450.9V328.24H450.4V333.19H449.9V331.96H449.4V328.69H448.9V329.1H448.4V329.62H447.9V329.39H447.4V332.98H446.9V333.78H446.4V328.19H445.9V332.69H445.4V332.9H444.9V335.74H444.4V335.89H443.9V328.26H443.4V330.64H442.9V329.5H442.4V329.99H441.9V329.46H441.4V330.22H440.9V332.25H440.4V351.05H439.9V349.45H439.4V355.98H438.9V356.85H438.4V357.53H437.9V353.15H437.4V351.18H436.9V335.15H436.4V328.72H435.9V331H435.4V330.86H434.9V328.81H434.4V328.41H433.9V327.64H433.4V328.67H432.9V327.39H432.4V329.14H431.9V328.47H431.4V329.49H430.9V328.48H430.4V329.1H429.9V328.89H429.4V330.84H428.9V330.31H428.4V328.51H427.9V329.05H427.4V329.33H426.9V329.49H426.4V327.4H425.9V328.51H425.4V328.59H424.9V328.6H424.4V328.59H423.9V328.47H423.4V327.65H422.9V328.79H422.4V332.33H421.9V332.11H421.4V334.82H420.9V337.87H420.4V347.58H419.9V343.42H419.4V351.6H418.9V349.63H418.4V353.77H417.9V350.21H417.4V347.86H416.9V346.47H416.4V333.33H415.9V329.8H415.4V328.42H414.9V329.44H414.4V329.17H413.9V329.04H413.4V334.64H412.9V332.96H412.4V329.08H411.9V331.85H411.4V331.99H410.9V328.66H410.4V330.74H409.9V330.84H409.4V331.53H408.9V330.48H408.4V328.04H407.9V336.03H407.4V336.45H406.9V330.22H406.4V330.08H405.9V331.59H405.4V330.73H404.9V328.32H404.4V332.2H403.9V332.1H403.4V333.16H402.9V332.66H402.4V328.83H401.9V328.37H401.4V329.04H400.9V345.81H400.4V346.36H399.9V351.67H399.4V348.42H398.9V348.6H398.4V348.91H397.9V344.23H397.4V331.99H396.9V328.49H396.4V328.06H395.9V329.3H395.4V328.41H394.9V330.43H394.4V329.03H393.9V329.93H393.4V332.31H392.9V332.01H392.4V328.16H391.9V327.49H391.4V327.43H390.9V330.3H390.4V331.64H389.9V329.33H389.4V328.41H388.9V332.02H388.4V331.25H387.9V328.94H387.4V330.83H386.9V330.64H386.4V331.7H385.9V331.78H385.4V328.9H384.9V328.8H384.4V328.57H383.9V329.47H383.4V329.74H382.9V329.61H382.4V329.83H381.9V334.32H381.4V344.14H380.9V350.28H380.4V349.47H379.9V350.36H379.4V350.46H378.9V345.34H378.4V349.21H377.9V337.65H377.4V328.71H376.9V330.57H376.4V330.64H375.9V329.09H375.4V329.2H374.9V332.94H374.4V334.25H373.9V334.28H373.4V328.14H372.9V328.11H372.4V334.7H371.9V335.99H371.4V328H370.9V332.89H370.4V331.72H369.9V328.43H369.4V328.29H368.9V329.23H368.4V329.49H367.9V329.14H367.4V327.6H366.9V329.65H366.4V329.38H365.9V336.02H365.4V335.83H364.9V328.76H364.4V328.34H363.9V328.22H363.4V328.66H362.9V327.97H362.4V329.06H361.9V329.96H361.4V349.29H360.9V343.61H360.4V350.68H359.9V353.21H359.4V355.13H358.9V355.32H358.4V347.27H357.9V334.72H357.4V328.04H356.9V328.7H356.4V329H355.9V330.43H355.4V330.01H354.9V328.15H354.4V332.58H353.9V333.02H353.4V332.82H352.9V327.67H352.4V333.44H351.9V334.9H351.4V336.07H350.9V335.77H350.4V328.18H349.9V328.59H349.4V328.62H348.9V333.11H348.4V333.73H347.9V328.73H347.4V328.74H346.9V328.92H346.4V329.3H345.9V329.27H345.4V329.02H344.9V327.59H344.4V329H343.9V327.18H343.4V332.45H342.9V332.74H342.4V336.78H341.9V341.46H341.4V352.02H340.9V352.57H340.4V351.26H339.9V351.94H339.4V345.12H338.9V344.98H338.4V334.88H337.9V328.03H337.4V328.81H336.9V335.31H336.4V335.48H335.9V329.4H335.4V328.45H334.9V331.61H334.4V331.71H333.9V328.63H333.4V329.12H332.9V328.7H332.4V329.11H331.9V328.29H331.4V328.52H330.9V328.84H330.4V332.46H329.9V335.66H329.4V335.86H328.9V328.79H328.4V332.89H327.9V332.64H327.4V328.1H326.9V329.71H326.4V330.27H325.9V330.88H325.4V327.49H324.9V329.27H324.4V329.13H323.9V328.79H323.4V327.45H322.9V336.37H322.4V343.25H321.9V343.97H321.4V351.98H320.9V356.44H320.4V352.07H319.9V353.19H319.4V343.13H318.9V332.05H318.4V328.82H317.9V328.72H317.4V336.1H316.9V336.47H316.4V331.1H315.9V331.99H315.4V329.18H314.9V331.33H314.4V331.62H313.9V334.91H313.4V335.93H312.9V327.81H312.4V328.24H311.9V328.63H311.4V329.45H310.9V329.68H310.4V328.11H309.9V336.31H309.4V336.54H308.9V330.23H308.4V328.16H307.9V328.5H307.4V328.7H306.9V328.56H306.4V328.15H305.9V328.45H305.4V329.61H304.9V331.19H304.4V331.63H303.9V328.47H303.4V329.43H302.9V340.08H302.4V341.24H301.9V350.79H301.4V351.05H300.9V353.11H300.4V353.29H299.9V345.48H299.4V343.17H298.9V340.4H298.4V336.18H297.9V336.09H297.4V328.39H296.9V328.25H296.4V328.42H295.9V329.06H295.4V329.52H294.9V328.78H294.4V329.37H293.9V328.11H293.4V333.12H292.9V332.84H292.4V327.9H291.9V328.59H291.4V328.77H290.9V328.93H290.4V328.45H289.9V328.56H289.4V328.23H288.9V335.61H288.4V336.98H287.9V327.65H287.4V329.36H286.9V331.04H286.4V330.67H285.9V328.05H285.4V329.37H284.9V332.15H284.4V332.77H283.9V330.09H283.4V344.4H282.9V351.46H282.4V352.27H281.9V355.43H281.4V357.17H280.9V357.3H280.4V351.57H279.9V351.47H279.4V334.38H278.9V328.56H278.4V328.96H277.9V333.69H277.4V333.1H276.9V332.07H276.4V332.06H275.9V331.8H275.4V328.29H274.9V328.9H274.4V328.64H273.9V332.44H273.4V334.31H272.9V333.87H272.4V328.1H271.9V332.95H271.4V333.43H270.9V332.81H270.4V332.17H269.9V328.25H269.4V335.99H268.9V334.74H268.4V333.55H267.9V330.07H267.4V330.65H266.9V327.83H266.4V328.75H265.9V332.8H265.4V331.25H264.9V328.99H264.4V328.29H263.9V328.97H263.4V331.83H262.9V344.97H262.4V354.03H261.9V351.51H261.4V351.39H260.9V350.6H260.4V344.14H259.9V342.76H259.4V340.19H258.9V331.6H258.4V330.11H257.9V330.1H257.4V328.76H256.9V327.65H256.4V329.33H255.9V330.04H255.4V330.36H254.9V328.33H254.4V331.6H253.9V331.6H253.4V328.05H252.9V329.46H252.4V328.58H251.9V328.27H251.4V333.25H250.9V334.35H250.4V333.12H249.9V331.97H249.4V329.4H248.9V327.77H248.4V333.62H247.9V335.39H247.4V335.87H246.9V335.3H246.4V342.83H245.9V348.37H245.4V351.71H244.9V350.11H244.4V353.57H243.9V354.16H243.4V347.4H242.9V340.61H242.4V328.52H241.9V330H241.4V330.46H240.9V328.15H240.4V328.69H239.9V327.61H239.4V335.38H238.9V336.04H238.4V327.71H237.9V328.55H237.4V328.19H236.9V328.95H236.4V328.29H235.9V328.81H235.4V328.37H234.9V327.8H234.4V328.35H233.9V329.08H233.4V328.66H232.9V329.31H232.4V328.19H231.9V333.69H231.4V333.69H230.9V329.12H230.4V328.61H229.9V327.96H229.4V328.6H228.9V329.39H228.4V328.91H227.9V333.96H227.4V341.45H226.9V349.91H226.4V350.2H225.9V350.45H225.4V350.85H224.9V351.73H224.4V343.34H223.9V345.85H223.4V342.43H222.9V328.47H222.4V327.68H221.9V328.37H221.4V328.85H220.9V327.39H220.4V328.92H219.9V333.06H219.4V332.95H218.9V327.76H218.4V329.27H217.9V332.36H217.4V331.38H216.9V331.1H216.4V328.48H215.9V328.34H215.4V328.92H214.9V327.44H214.4V329.3H213.9V329.65H213.4V328.38H212.9V329.09H212.4V328.29H211.9V329.35H211.4V328.72H210.9V328.42H210.4V329.11H209.9V328.36H209.4V328.82H208.9V328.53H208.4V327.59H207.9V343.26H207.4V346.82H206.9V349.98H206.4V352.96H205.9V351.42H205.4V355.71H204.9V351.86H204.4V344.81H203.9V350.27H203.4V342.42H202.9V331.7H202.4V329.2H201.9V328.52H201.4V328.64H200.9V329.1H200.4V327.79H199.9V328.5H199.4V328.48H198.9V330.2H198.4V330.35H197.9V329.07H197.4V328.62H196.9V329.05H196.4V330.84H195.9V330.62H195.4V329.34H194.9V328.73H194.4V328.72H193.9V328.91H193.4V330.85H192.9V332.66H192.4V333.72H191.9V327.89H191.4V328.05H190.9V329.12H190.4V331.06H189.9V330.97H189.4V329.64H188.9V328.46H188.4V329.2H187.9V336.51H187.4V350.92H186.9V348.99H186.4V355.25H185.9V357.3H185.4V354.54H184.9V355.15H184.4V346.49H183.9V341.77H183.4V327.91H182.9V328.75H182.4V327.49H181.9V328.95H181.4V328.94H180.9V328.66H180.4V328.06H179.9V328.54H179.4V330.94H178.9V330.57H178.4V329.73H177.9V328.23H177.4V328.35H176.9V332.44H176.4V332.37H175.9V328.96H175.4V334.58H174.9V333.9H174.4V331.91H173.9V331.02H173.4V329.33H172.9V329.36H172.4V330.72H171.9V330.38H171.4V332.89H170.9V331.4H170.4V331.2H169.9V329.26H169.4V328.52H168.9V337.38H168.4V349.92H167.9V347.49H167.4V355.57H166.9V353.9H166.4V357.02H165.9V355.19H165.4V345.4H164.9V338.32H164.4V331H163.9V329.03H163.4V328.53H162.9V328.73H162.4V328.26H161.9V329.94H161.4V330.87H160.9V328.93H160.4V328.24H159.9V328.46H159.4V328.41H158.9V328.37H158.4V328.13H157.9V328.55H157.4V332.51H156.9V333.38H156.4V330.49H155.9V328.75H155.4V329.02H154.9V328.64H154.4V328.92H153.9V328.35H153.4V329.13H152.9V328.79H152.4V328.71H151.9V328H151.4V328.42H150.9V332.15H150.4V331.47H149.9V328.85H149.4V327.63H148.9V340.07H148.4V340.63H147.9V343.17H147.4V353.06H146.9V352.29H146.4V351.84H145.9V348.79H145.4V349.21H144.9V341.92H144.4V329.26H143.9V328.03H143.4V328.95H142.9V332.64H142.4V331.79H141.9V329.04H141.4V328.72H140.9V328.74H140.4V331.85H139.9V332.73H139.4V330.48H138.9V331.07H138.4V331.32H137.9V331.18H137.4V328.78H136.9V328.43H136.4V328.43H135.9V331.11H135.4V330.68H134.9V329.22H134.4V332.5H133.9V335.48H133.4V335.85H132.9V329.34H132.4V328.87H131.9V328.24H131.4V328.47H130.9V336.43H130.4V335.65H129.9V328.82H129.4V327.93H128.9V334.94H128.4V345.75H127.9V349.85H127.4V349.66H126.9V348.97H126.4V350.27H125.9V341.49H125.4V349.28H124.9V331.74H124.4V329.03H123.9V328.81H123.4V328.51H122.9V328.74H122.4V327.86H121.9V330.81H121.4V330.23H120.9V327.62H120.4V329.59H119.9V329.25H119.4V328.98H118.9V334.12H118.4V333.33H117.9V330.21H117.4V327.51H116.9V328.91H116.4V329.02H115.9V328.34H115.4V327.96H114.9V327.43H114.4V328.46H113.9V328.96H113.4V333.76H112.9V334.22H112.4V333.43H111.9V328.69H111.4V328.27H110.9V335.69H110.4V336.39H109.9V331.03H109.4V332.81H108.9V346.57H108.4V353.04H107.9V352.21H107.4V357H106.9V352.02H106.4V353.17H105.9V345.02H105.4V337.69H104.9V328.83H104.4V332.34H103.9V331.71H103.4V327.85H102.9V327.85H102.4V329.9H101.9V330.58H101.4V329.26H100.9V328.43H100.4V329.74H99.9V329.77H99.4V332.18H98.9V332.1H98.4V330.07H97.9V329.68H97.4V327.74H96.9V328.36H96.4V330.63H95.9V330.81H95.4V329.21H94.9V328.38H94.4V328.77H93.9V328.2H93.4V341.83H92.9V347.42H92.4V343.2H91.9V351.11H91.4V350.4H90.9V350.48H90.4V350.65H89.9V341.68H89.4V336.3H88.9V335.98H88.4V328.67H87.9V329.06H87.4V328.04H86.9V328.38H86.4V328.2H85.9V332.13H85.4V331.76H84.9V327.97H84.4V327.64H83.9V328.08H83.4V331.74H82.9V330.87H82.4V327.85H81.9V328.2H81.4V329.09H80.9V328.68H80.4V329.33H79.9V328.09H79.4V329.18H78.9V329.2H78.4V329.74H77.9V332.02H77.4V332.26H76.9V335.64H76.4V336.6H75.9V336.6H75.4V335.81H74.9V328.67H74.4V334.48H73.9V332.88H73.4V342.12H72.9V344.92H72.4V353.66H71.9V352.54H71.4V348.37H70.9V349.38H70.4V342.57H69.9V349.57H69.4V335.63H68.9V328.41H68.4V328.42H67.9V328.48H67.4V332.08H66.9V331.58H66.4V328.38H65.9V327.79H65.4V328.33H64.9V329.68H64.4V327.59H63.9V328.83H63.4V328.67H62.9V328.27H62.4V328.44H61.9V328.81H61.4V327.21H60.9V328.69H60.4V328.39H59.9V328.82H59.4V328.2H58.9V331.11H58.4V330.19H57.9V328.41H57.4V330.72H56.9V332.3H56.4V329.33H55.9V328.99H55.4V328.42H54.9V332.82H54.4V333.17H53.9V333.54H53.4V344.66H52.9V342.58H52.4V353.97H51.9V352.04H51.4V349.07H50.9V349.71H50.4V341.08H49.9V348.89H49.4V334.52H48.9V331.67H48.4V335.51H47.9V333.52H47.4V328.03H46.9V328.08H46.4V328.72H45.9V328.7H45.4V328.16H44.9V328.28H44.4V327.94H43.9V327.71H43.4V328.62H42.9V329.33H42.4V334.57H41.9V335.47H41.4V332.85H40.9V327.97H40.4V328.44H39.9V328.72H39.4Z" fill="#0079ba"/>
<path d="M51.5 315.52V269.8M92.5 315.52V270.6M359.5 315.52V270.6M572.5 315.52V270.8" stroke="#0079ba" stroke-width="0.9" fill="none"/>
<path d="M39.67 272.49H788.4" stroke="#008000" stroke-width="1.0" stroke-dasharray="3.4 1.466" fill="none"/>
<path d="M39.67 363.46H788.4" stroke="#ffa500" stroke-width="1.0" stroke-dasharray="3.4 1.466" fill="none"/>
</g>
<rect x="39.4" y="265.3" width="749" height="103" fill="none" stroke="#000" stroke-width="0.5"/>
<path d="M39.4 368.3V370.4M168.59 368.3V370.4M297.79 368.3V370.4M426.98 368.3V370.4M556.17 368.3V370.4M685.37 368.3V370.4M37.3 358.5H39.4M37.3 345.1H39.4M37.3 331.7H39.4M37.3 318.3H39.4M37.3 304.9H39.4M37.3 291.5H39.4M37.3 278.1H39.4" stroke="#000" stroke-width="0.7"/>
<text x="39.4" y="377.9" text-anchor="middle">0</text>
<text x="168.59" y="377.9" text-anchor="middle">200</text>
<text x="297.79" y="377.9" text-anchor="middle">400</text>
<text x="426.98" y="377.9" text-anchor="middle">600</text>
<text x="556.17" y="377.9" text-anchor="middle">800</text>
<text x="685.37" y="377.9" text-anchor="middle">1000</text>
<text x="35" y="360.95" text-anchor="end">−0.075</text>
<text x="35" y="347.55" text-anchor="end">−0.050</text>
<text x="35" y="334.15" text-anchor="end">−0.025</text>
<text x="35" y="320.75" text-anchor="end">0.000</text>
<text x="35" y="307.35" text-anchor="end">0.025</text>
<text x="35" y="293.95" text-anchor="end">0.050</text>
<text x="35" y="280.55" text-anchor="end">0.075</text>
<text x="413.9" y="386.2" text-anchor="middle">Time in sec</text>
<text transform="translate(9.4 316.8) rotate(-90)" text-anchor="middle">Current Sensor</text>
<rect x="710.4" y="268.55" width="75.1" height="37.55" rx="1.4" fill="#fff" fill-opacity="0.8" stroke="#ccc" stroke-opacity="0.8" stroke-width="0.5"/>
<path d="M712.8 273.3H726.4" stroke="#0079ba" stroke-width="0.92"/>
<path d="M713.3 282.5H726.4" stroke="#008000" stroke-width="1.0" stroke-dasharray="3.4 1.466"/>
<path d="M713.3 291.3H726.4" stroke="#ffa500" stroke-width="1.0" stroke-dasharray="3.4 1.466"/>
<circle cx="719.6" cy="300.3" r="2.3" fill="#f00"/>
<text x="730.4" y="275.75">Belt Tension Low</text>
<text x="730.4" y="284.95">Upper Th:  0.085</text>
<text x="730.4" y="293.75">Lower Th:−0.085</text>
<text x="730.4" y="302.75">Anomaly</text>
</svg></body></html>
